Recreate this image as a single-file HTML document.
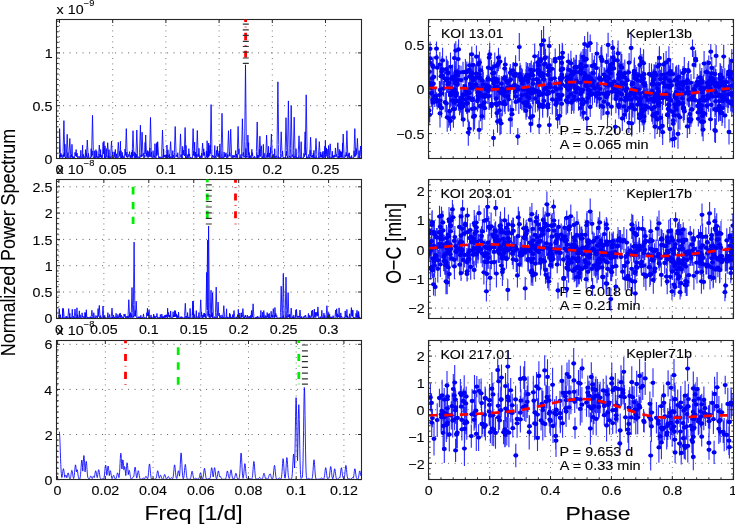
<!DOCTYPE html>
<html><head><meta charset="utf-8"><title>TTV periodograms</title><style>
body{margin:0;background:#fff;}
svg{display:block;filter:blur(0.3px);}
text{font-family:"Liberation Sans",sans-serif;fill:#000;stroke:#000;stroke-width:0.1px;}
.gv{stroke:#5a5a5a;stroke-width:0.9;stroke-dasharray:0.9 4.6;}
.gh{stroke:#5a5a5a;stroke-width:0.9;stroke-dasharray:1.1 5.4;}
.ax{fill:none;stroke:#262626;stroke-width:1.1;}
.tk{fill:none;stroke:#262626;stroke-width:1;}
.sp{fill:none;stroke:#0000ff;stroke-width:0.85;stroke-linejoin:miter;}
.eb{fill:none;stroke:#1010ff;stroke-width:1.1;stroke-opacity:0.9;}
.pt ellipse{fill:#0000f4;}
.fit{fill:none;stroke:#ff0000;stroke-width:2.7;stroke-dasharray:8.5 7;}
</style></head>
<body><svg width="735" height="524" viewBox="0 0 735 524">
<rect width="735" height="524" fill="#fff"/>
<line x1="59.50" y1="19.5" x2="59.50" y2="158.5" class="gv"/>
<line x1="112.70" y1="19.5" x2="112.70" y2="158.5" class="gv"/>
<line x1="165.90" y1="19.5" x2="165.90" y2="158.5" class="gv"/>
<line x1="219.10" y1="19.5" x2="219.10" y2="158.5" class="gv"/>
<line x1="272.30" y1="19.5" x2="272.30" y2="158.5" class="gv"/>
<line x1="325.50" y1="19.5" x2="325.50" y2="158.5" class="gv"/>
<line x1="56.5" y1="105.70" x2="361.5" y2="105.70" class="gh"/>
<line x1="56.5" y1="52.90" x2="361.5" y2="52.90" class="gh"/>
<polyline points="59.50,149.32 59.50,152.87 59.60,128.60 60.40,152.87 59.87,157.22 60.13,153.13 60.58,157.41 61.03,153.35 61.52,157.06 62.01,154.93 62.29,158.15 62.57,158.09 62.89,158.17 63.21,154.50 63.56,156.84 63.10,151.43 63.90,120.60 64.70,151.43 64.46,156.54 65.01,144.24 65.33,157.99 65.64,156.88 66.42,157.86 66.40,153.90 67.20,134.30 68.00,153.90 67.53,157.60 67.86,152.59 68.26,158.13 68.66,157.64 69.23,158.15 69.00,154.65 69.80,138.50 70.60,154.65 70.19,158.12 70.59,157.56 70.96,157.96 71.32,154.58 71.64,156.91 71.96,144.32 72.52,158.10 73.07,156.24 73.58,158.01 74.09,157.01 74.55,157.81 75.00,152.29 75.57,155.91 76.13,149.51 76.60,156.91 77.07,153.08 77.69,158.14 78.31,158.01 78.66,158.18 79.00,155.98 79.47,158.17 79.94,158.11 80.38,158.17 80.83,150.30 81.22,158.15 81.62,157.92 82.10,158.17 82.59,145.19 82.94,158.14 83.30,154.31 83.86,157.76 84.41,156.65 85.00,157.76 85.58,149.61 85.89,158.20 86.21,153.25 86.76,157.04 86.50,154.92 87.30,140.00 88.10,154.92 87.56,158.13 87.83,158.04 88.13,158.20 88.43,153.41 89.02,158.20 89.61,158.17 90.04,158.20 90.46,157.16 90.78,158.00 91.11,148.73 91.62,156.91 92.13,150.74 92.32,155.28 91.70,150.48 92.50,115.30 93.30,150.48 93.25,158.17 94.01,157.33 94.36,158.12 94.70,150.74 94.99,158.09 95.27,157.93 95.61,158.20 95.95,149.63 96.35,157.39 96.74,151.28 97.18,157.91 97.62,156.58 98.46,158.20 98.50,155.82 99.30,145.00 100.10,155.82 99.58,157.67 99.85,154.06 100.25,157.08 100.64,149.55 100.91,157.29 101.19,154.91 101.52,157.80 101.84,156.76 102.47,157.78 103.10,142.41 103.54,153.83 103.97,141.16 104.49,158.01 105.01,145.87 105.30,157.78 105.59,156.78 105.87,157.83 106.15,148.44 106.93,157.24 106.90,155.41 107.70,142.70 108.50,155.41 107.98,157.68 108.27,155.46 108.65,157.91 109.03,149.61 109.41,157.62 109.80,156.72 110.10,158.08 110.40,157.24 110.73,158.13 111.07,156.32 111.28,157.52 110.70,155.10 111.50,141.00 112.30,155.10 112.13,156.10 112.77,152.06 113.21,157.72 113.64,156.96 113.96,157.82 114.28,151.84 114.81,157.01 115.35,149.43 115.69,157.93 116.03,156.96 116.32,157.89 116.61,153.78 117.10,158.01 117.58,157.50 117.94,157.90 117.50,155.34 118.30,142.30 119.10,155.34 118.81,157.39 119.33,151.40 119.89,155.85 120.45,141.28 120.79,158.14 121.12,150.79 121.43,158.04 121.73,156.35 122.01,157.41 122.28,152.40 122.66,157.92 123.04,155.70 123.57,158.03 124.10,157.44 124.55,157.89 124.99,149.00 125.65,155.49 125.50,152.87 126.30,128.60 127.10,152.87 126.57,156.83 126.84,151.98 127.23,157.62 127.61,156.36 127.97,157.39 128.34,154.43 128.96,156.60 129.58,151.63 130.19,157.95 130.80,155.18 131.19,158.01 131.58,152.27 132.01,157.43 132.44,150.11 132.72,157.67 132.20,153.25 133.00,130.70 133.80,153.25 133.64,156.03 134.28,151.90 134.57,157.62 134.85,156.65 135.15,158.10 135.44,152.97 135.86,158.07 136.27,154.36 136.54,157.64 136.00,153.12 136.80,130.00 137.60,153.12 137.47,157.69 138.14,156.56 138.67,157.76 139.21,156.92 139.80,157.93 139.60,152.26 140.40,125.20 141.20,152.26 140.78,157.28 141.16,155.00 141.63,156.88 141.30,153.52 142.10,132.20 142.90,153.52 142.70,156.18 143.30,153.10 143.90,158.05 144.51,155.45 144.83,157.32 145.16,142.38 145.43,152.67 144.90,154.02 145.70,135.00 146.50,154.02 146.24,156.12 146.79,153.10 147.22,157.24 147.65,150.54 148.20,157.73 148.75,151.46 149.35,156.76 149.94,147.98 150.22,156.50 149.70,150.86 150.50,117.40 151.30,150.86 151.05,157.10 151.59,151.99 151.99,158.13 152.39,158.02 152.72,158.15 153.05,150.68 153.68,157.50 154.31,155.92 154.63,157.53 154.95,143.70 155.31,158.17 155.67,157.75 156.06,158.19 156.46,143.56 156.76,155.60 157.05,142.43 157.37,152.17 156.90,155.23 157.70,141.70 158.50,155.23 158.46,157.83 159.21,156.94 159.54,157.75 159.87,156.57 160.32,158.04 160.77,157.62 161.06,158.00 161.36,156.96 161.93,157.65 161.70,153.12 162.50,130.00 163.30,153.12 162.77,158.15 163.05,158.06 163.33,158.14 163.62,148.97 163.93,156.82 164.24,155.05 164.71,157.18 165.18,155.15 165.68,157.08 166.18,154.45 166.57,158.07 166.95,145.01 167.45,158.06 167.96,149.80 168.35,157.12 168.75,155.61 169.07,157.92 169.38,154.32 169.77,158.00 170.15,156.77 170.38,158.11 169.80,155.23 170.60,141.70 171.40,155.23 171.39,157.78 172.17,156.72 172.48,158.18 172.79,150.60 173.10,157.06 173.40,155.04 173.87,158.08 174.34,157.34 174.77,157.91 174.40,152.49 175.20,126.50 176.00,152.49 175.98,156.83 176.77,154.85 177.29,157.16 177.81,152.68 178.11,158.17 178.40,158.06 178.96,158.18 179.52,158.13 180.01,158.17 179.70,153.83 180.50,133.90 181.30,153.83 180.85,156.98 181.20,154.40 181.63,158.07 182.07,157.07 182.36,158.20 182.65,146.41 183.21,155.00 183.76,150.11 184.43,155.93 184.30,152.67 185.10,127.50 185.90,152.67 185.52,157.83 185.94,145.36 186.48,157.91 187.03,157.02 187.39,157.89 187.76,154.44 188.32,157.70 188.87,148.67 189.23,156.46 189.59,153.85 189.91,158.10 190.23,157.25 190.64,158.15 191.05,157.39 191.50,158.15 191.95,157.81 192.52,158.14 192.30,152.87 193.10,128.60 193.90,152.87 193.38,155.37 193.67,151.09 194.16,156.10 194.64,142.19 195.00,157.86 195.36,152.00 195.85,157.45 196.34,153.95 196.82,158.00 196.50,153.21 197.30,130.50 198.10,153.21 197.76,156.76 198.21,153.66 198.59,156.45 198.96,148.28 199.52,158.09 200.07,155.59 200.49,157.76 200.91,156.23 201.38,157.98 201.85,153.11 202.23,157.55 201.80,155.48 202.60,143.10 203.40,155.48 203.20,155.04 203.79,148.80 204.15,155.61 204.52,152.31 205.14,158.17 205.76,157.97 206.07,158.14 206.37,150.94 206.76,157.19 207.14,140.75 207.61,158.08 208.08,153.75 208.36,156.99 208.64,143.05 208.82,157.30 208.20,155.88 209.00,145.30 209.80,155.88 209.70,154.21 210.41,144.79 210.75,153.69 210.30,148.55 211.10,104.60 211.90,148.55 211.80,158.00 212.51,155.15 213.10,157.55 213.70,155.79 214.24,157.97 214.78,145.54 215.16,157.54 215.54,156.28 216.04,157.95 216.54,150.40 216.94,155.78 217.33,146.44 217.87,156.82 218.41,153.48 218.82,156.98 219.22,150.84 219.55,157.48 219.87,143.85 220.46,158.04 221.05,157.76 221.52,158.13 221.20,150.12 222.00,113.30 222.80,150.12 222.58,157.83 223.16,157.12 223.63,157.97 224.10,151.92 224.65,157.27 225.21,153.60 225.64,156.73 226.07,152.81 226.54,158.13 227.02,157.71 227.31,158.03 227.60,154.67 228.05,157.49 227.70,153.25 228.50,130.70 229.30,153.25 229.08,156.25 229.67,152.35 230.18,156.36 229.90,152.98 230.70,129.20 231.50,152.98 231.27,157.55 231.83,156.68 232.28,157.92 232.73,155.26 233.32,157.74 233.90,155.20 234.21,157.15 234.52,155.86 235.11,157.66 235.69,150.57 236.10,157.40 236.50,153.98 236.80,158.08 237.11,157.81 237.60,158.16 237.30,152.48 238.10,126.40 238.90,152.48 238.53,154.16 238.96,148.83 239.38,157.98 239.81,157.55 240.38,158.01 240.96,154.34 241.28,158.05 241.60,157.08 242.00,157.79 241.60,151.11 242.40,118.80 243.20,151.11 242.91,155.82 243.42,152.45 243.88,157.40 244.34,155.96 244.92,157.28 244.70,141.39 245.50,64.80 246.30,141.39 245.69,157.80 245.88,148.48 246.33,157.49 246.79,156.08 247.34,157.37 247.10,154.02 247.90,135.00 248.70,154.02 248.26,154.87 248.61,142.67 248.89,158.00 249.16,152.52 249.45,157.72 249.75,156.25 250.18,157.99 250.62,155.53 251.24,158.16 251.86,149.29 252.15,155.85 252.43,152.62 253.06,157.74 253.69,156.98 254.15,157.85 254.61,156.21 254.93,157.98 255.24,157.56 255.66,158.13 256.08,157.98 256.64,158.16 256.40,151.68 257.20,122.00 258.00,151.68 257.51,158.03 257.82,155.02 258.29,157.82 258.75,155.27 259.13,157.53 259.50,149.21 259.70,155.84 259.10,154.24 259.90,136.20 260.70,154.24 260.64,156.52 261.39,145.81 261.94,158.11 262.48,156.65 262.91,157.96 263.34,144.37 263.75,157.78 264.17,153.20 264.70,158.04 265.24,157.83 265.92,158.16 265.80,154.04 266.60,135.10 267.40,154.04 266.84,157.54 267.07,154.50 267.40,157.30 267.73,153.03 268.13,157.61 268.53,146.23 268.98,157.04 269.44,153.00 269.73,158.14 270.03,157.95 270.32,158.19 270.61,147.41 271.00,153.60 270.60,153.84 271.40,134.00 272.20,153.84 271.76,157.88 272.12,156.87 272.66,158.11 273.19,153.91 273.68,158.02 274.17,157.80 274.45,158.17 274.73,148.68 275.02,157.70 275.31,156.66 275.74,157.87 276.17,155.70 277.04,157.91 277.10,144.45 277.90,81.80 278.70,144.45 278.22,157.90 278.54,156.43 278.94,158.14 279.34,157.94 279.93,158.16 280.52,157.21 280.86,158.09 280.40,153.45 281.20,131.80 282.00,153.45 281.88,156.86 282.56,151.06 283.10,158.03 283.64,157.31 284.04,158.08 284.44,157.81 284.77,158.17 285.09,157.08 285.55,158.18 285.20,150.91 286.00,117.70 286.80,150.91 286.33,155.56 286.65,151.16 287.16,158.14 287.67,156.39 288.03,157.68 287.60,147.89 288.40,100.90 289.20,147.89 289.20,157.64 289.99,155.95 290.42,157.80 290.85,157.28 291.03,158.12 290.40,148.75 291.20,105.70 292.00,148.75 291.93,156.78 292.67,154.65 293.43,157.99 293.40,150.82 294.20,117.20 295.00,150.82 294.64,158.05 295.07,156.21 295.55,157.61 296.04,148.69 296.55,158.12 297.06,157.08 297.47,158.15 297.87,157.99 298.21,158.14 298.54,157.59 298.77,158.17 298.20,154.17 299.00,135.80 299.80,154.17 299.68,157.84 300.35,157.18 300.74,158.01 301.13,141.71 301.65,158.09 302.16,157.94 302.62,158.20 303.07,157.66 303.50,158.18 303.93,153.31 304.51,156.84 304.30,153.45 305.10,131.80 305.90,153.45 305.65,155.14 305.40,146.79 306.20,94.80 307.00,146.79 306.46,157.87 306.72,156.36 307.04,157.71 307.37,157.01 307.98,158.02 308.59,154.52 309.03,158.17 309.48,156.86 309.87,158.11 310.26,150.04 310.43,156.16 309.80,154.44 310.60,137.30 311.40,154.44 311.24,157.48 311.89,156.13 312.30,157.49 312.71,155.01 313.03,157.52 313.34,153.13 313.63,157.65 313.91,150.33 314.32,158.14 314.73,157.22 315.36,158.10 315.20,154.64 316.00,138.40 316.80,154.64 316.30,158.15 316.60,157.68 317.20,158.17 317.79,158.12 318.55,158.19 318.50,155.21 319.30,141.60 320.10,155.21 319.75,157.88 320.20,152.09 320.76,157.20 321.32,154.71 321.76,157.48 322.20,152.35 322.66,158.12 323.12,151.13 323.53,157.75 323.94,157.19 324.36,157.77 324.77,146.11 325.06,156.77 325.34,140.37 325.90,154.36 326.46,147.94 326.82,156.36 327.17,149.23 327.46,157.89 327.74,157.18 328.17,157.90 328.61,145.47 329.14,158.00 329.67,157.61 329.93,158.08 329.40,155.61 330.20,143.80 331.00,155.61 330.76,158.15 331.32,157.43 331.83,157.92 332.34,151.19 332.67,157.61 333.00,155.21 333.27,157.75 333.54,155.94 334.03,157.43 334.51,155.06 334.97,157.23 335.43,147.93 336.01,156.50 336.60,154.38 337.20,157.53 337.00,155.41 337.80,142.70 338.60,155.41 338.17,157.57 338.54,156.01 338.82,158.14 339.09,156.48 339.37,158.11 339.65,149.44 340.14,157.41 340.62,151.27 340.98,157.39 341.33,151.77 341.62,157.32 341.92,153.80 342.23,157.75 342.55,143.09 342.87,151.83 342.40,153.84 343.20,134.00 344.00,153.84 343.67,158.14 344.14,157.88 344.61,158.14 345.09,154.77 345.68,156.81 346.27,152.38 346.58,156.12 346.10,153.25 346.90,130.70 347.70,153.25 347.32,158.00 347.74,157.62 348.22,157.96 348.70,153.57 348.97,156.66 349.24,152.77 349.65,157.96 350.06,156.46 350.44,157.81 350.82,157.30 351.23,158.19 351.64,155.47 351.93,158.15 352.22,158.07 352.69,158.18 353.16,157.74 353.65,158.13 354.15,150.88 354.47,156.64 354.00,152.87 354.80,128.60 355.60,152.87 355.63,156.46 356.46,148.53 356.93,154.46 356.60,154.64 357.40,138.40 358.20,154.64 357.83,157.98 358.27,157.59 358.69,157.99 359.12,150.65 359.47,158.13 359.82,157.49 360.21,158.06 359.80,156.00 360.60,146.00 361.00,156.00" class="sp"/>
<rect x="56.5" y="19.5" width="305.0" height="139.0" class="ax"/>
<path d="M59.50,158.5v-3.5M59.50,19.5v3.5M112.70,158.5v-3.5M112.70,19.5v3.5M165.90,158.5v-3.5M165.90,19.5v3.5M219.10,158.5v-3.5M219.10,19.5v3.5M272.30,158.5v-3.5M272.30,19.5v3.5M325.50,158.5v-3.5M325.50,19.5v3.5M56.5,158.50h3.5M361.5,158.50h-3.5M56.5,105.70h3.5M361.5,105.70h-3.5M56.5,52.90h3.5M361.5,52.90h-3.5M56.5,153.22h2.2M56.5,147.94h2.2M56.5,142.66h2.2M56.5,137.38h2.2M56.5,132.10h2.2M56.5,126.82h2.2M56.5,121.54h2.2M56.5,116.26h2.2M56.5,110.98h2.2M56.5,100.42h2.2M56.5,95.14h2.2M56.5,89.86h2.2M56.5,84.58h2.2M56.5,79.30h2.2M56.5,74.02h2.2M56.5,68.74h2.2M56.5,63.46h2.2M56.5,58.18h2.2M56.5,47.62h2.2M56.5,42.34h2.2M56.5,37.06h2.2M56.5,31.78h2.2M56.5,26.50h2.2M56.5,21.22h2.2" class="tk"/>
<text transform="translate(55.52,173.66) scale(1.125,1)" font-size="12.70">0</text>
<text transform="translate(98.81,173.66) scale(1.125,1)" font-size="12.70">0.05</text>
<text transform="translate(156.02,173.66) scale(1.125,1)" font-size="12.70">0.1</text>
<text transform="translate(205.21,173.66) scale(1.125,1)" font-size="12.70">0.15</text>
<text transform="translate(262.44,173.66) scale(1.125,1)" font-size="12.70">0.2</text>
<text transform="translate(311.61,173.66) scale(1.125,1)" font-size="12.70">0.25</text>
<text transform="translate(44.51,163.67) scale(1.125,1)" font-size="12.70">0</text>
<text transform="translate(32.61,110.87) scale(1.125,1)" font-size="12.70">0.5</text>
<text transform="translate(44.65,58.07) scale(1.125,1)" font-size="12.70">1</text>
<line x1="58.90" y1="179.5" x2="58.90" y2="318.5" class="gv"/>
<line x1="103.85" y1="179.5" x2="103.85" y2="318.5" class="gv"/>
<line x1="148.80" y1="179.5" x2="148.80" y2="318.5" class="gv"/>
<line x1="193.75" y1="179.5" x2="193.75" y2="318.5" class="gv"/>
<line x1="238.70" y1="179.5" x2="238.70" y2="318.5" class="gv"/>
<line x1="283.65" y1="179.5" x2="283.65" y2="318.5" class="gv"/>
<line x1="328.60" y1="179.5" x2="328.60" y2="318.5" class="gv"/>
<line x1="56.5" y1="292.00" x2="361.5" y2="292.00" class="gh"/>
<line x1="56.5" y1="265.70" x2="361.5" y2="265.70" class="gh"/>
<line x1="56.5" y1="239.40" x2="361.5" y2="239.40" class="gh"/>
<line x1="56.5" y1="213.10" x2="361.5" y2="213.10" class="gh"/>
<line x1="56.5" y1="186.80" x2="361.5" y2="186.80" class="gh"/>
<polyline points="59.00,315.32 59.00,316.47 59.20,308.60 59.90,316.47 59.48,318.19 59.76,316.81 60.08,317.88 60.40,314.71 60.69,318.19 60.97,318.10 61.45,318.20 61.93,317.98 62.34,318.10 62.75,308.31 63.08,318.10 62.70,316.47 63.40,308.60 64.10,316.47 64.21,318.09 65.02,317.71 65.56,318.16 66.10,316.14 66.37,317.96 66.65,316.58 67.09,317.96 67.53,316.72 68.12,317.57 68.00,316.47 68.70,308.60 69.40,316.47 68.85,318.18 69.00,318.15 69.42,318.19 69.84,313.20 70.20,318.09 70.57,317.09 70.90,318.19 71.23,317.54 71.75,318.06 72.28,309.23 72.68,318.19 73.08,318.07 73.37,318.16 73.66,316.14 74.04,317.86 74.42,317.37 74.71,317.93 74.30,316.54 75.00,309.00 75.70,316.54 75.66,317.85 76.32,316.86 76.64,317.71 76.96,307.77 77.24,317.87 77.52,314.69 77.95,317.95 78.37,317.25 78.86,317.85 79.34,310.86 79.73,317.77 80.13,314.72 80.67,318.17 81.22,318.09 81.65,318.17 82.08,312.84 82.61,317.34 83.13,316.14 83.58,318.15 84.03,317.99 84.48,318.15 84.94,312.38 85.34,317.98 85.73,312.78 86.02,317.00 86.32,309.74 86.81,317.88 87.30,316.90 87.85,317.99 88.40,317.25 88.90,318.02 89.40,317.43 89.80,317.95 90.20,316.66 90.48,318.05 90.77,317.72 91.08,318.18 91.40,317.53 91.65,317.92 91.20,316.78 91.90,310.30 92.60,316.78 92.57,318.15 93.25,317.90 93.51,318.11 93.77,312.74 94.35,318.17 94.92,317.59 95.42,318.19 95.92,315.42 96.42,317.49 96.92,316.04 97.51,318.04 98.10,308.55 98.70,316.51 98.60,315.90 99.30,305.40 100.00,315.90 99.59,317.81 99.88,316.58 100.21,317.97 100.54,315.66 101.03,318.01 101.52,317.53 102.26,318.10 102.30,316.00 103.00,306.00 103.70,316.00 103.33,318.12 103.66,316.46 104.24,317.98 104.81,315.49 105.23,317.99 105.65,317.55 106.20,318.12 106.74,317.95 107.32,318.19 107.90,312.66 108.30,317.73 108.70,316.61 109.16,317.59 109.62,314.43 110.08,318.13 110.53,317.88 110.95,318.17 111.37,318.12 111.68,318.18 111.30,316.38 112.00,308.10 112.70,316.38 112.43,317.90 112.86,316.79 113.18,317.59 113.50,314.98 113.86,318.04 114.22,317.10 114.67,318.20 115.13,316.71 115.61,317.77 116.09,313.28 116.62,318.19 117.15,317.33 117.51,318.19 117.86,314.50 118.29,317.89 118.72,316.52 119.13,317.71 119.54,313.90 119.85,317.10 120.16,312.94 120.75,317.94 121.34,314.96 121.71,317.50 122.08,316.59 122.57,317.97 123.06,317.02 123.55,318.06 124.04,314.09 124.56,316.54 125.07,313.97 125.61,318.18 126.15,316.17 126.73,317.84 127.30,316.36 127.67,317.89 128.03,315.98 128.42,318.11 128.10,314.87 128.80,299.70 129.50,314.87 129.26,317.43 129.72,313.98 130.08,317.64 130.43,312.58 130.96,317.75 131.48,315.33 131.74,317.49 131.30,312.67 132.00,287.50 132.70,312.67 132.76,317.76 133.51,315.63 133.81,317.29 133.40,304.50 134.10,242.10 134.80,304.50 134.69,316.12 135.27,310.53 135.74,316.42 135.50,315.14 136.20,301.20 136.90,315.14 136.62,318.03 137.04,317.69 137.60,318.19 138.17,316.54 138.46,317.84 138.75,317.12 139.11,318.11 139.47,316.70 139.77,318.18 140.07,318.15 140.44,318.18 140.81,315.22 141.33,317.87 141.85,317.25 142.16,317.97 142.46,317.43 142.98,317.89 143.49,313.90 143.95,317.90 144.41,317.41 144.78,318.14 145.14,317.52 145.69,317.98 146.23,317.64 146.50,317.95 146.77,312.77 147.11,315.90 147.45,308.29 147.87,315.79 148.30,312.58 148.69,316.29 149.08,309.61 149.46,318.09 149.85,317.11 150.44,317.78 151.04,314.89 151.48,318.13 151.92,316.92 152.40,318.18 152.88,318.15 153.29,318.19 153.70,314.06 154.02,317.99 154.35,315.77 154.64,317.98 154.93,317.66 155.44,318.07 155.95,316.02 156.45,317.28 156.95,313.43 157.54,318.12 158.14,317.30 158.48,318.15 158.82,317.64 159.21,318.00 159.59,317.42 159.98,318.20 160.36,314.56 160.81,318.15 161.26,317.95 161.53,318.09 161.80,314.05 162.33,318.01 162.85,316.47 163.36,318.13 163.86,316.41 164.15,317.53 164.44,315.45 164.93,318.03 165.43,315.21 165.80,317.52 166.17,314.65 166.57,317.03 166.98,315.14 167.30,318.02 167.62,308.24 168.11,316.62 168.60,312.49 169.05,317.30 169.50,315.05 169.77,317.41 170.03,315.94 170.34,317.23 170.64,310.94 171.15,318.02 171.65,317.76 171.95,318.16 172.25,317.86 172.66,318.10 173.08,311.74 173.56,317.03 174.04,314.86 174.36,316.99 174.67,310.56 175.09,316.44 175.52,310.78 175.91,316.84 176.31,313.90 176.62,317.69 176.92,314.83 177.44,317.88 177.96,315.80 178.25,317.78 178.53,312.05 179.07,318.20 179.60,318.16 179.97,318.19 180.33,316.79 180.71,317.96 181.09,317.65 181.42,318.03 181.75,316.51 182.30,317.96 182.84,317.33 183.44,318.19 184.03,318.14 184.35,318.20 184.67,317.47 184.98,318.05 184.60,315.52 185.30,303.30 186.00,315.52 185.72,317.67 186.15,315.88 186.54,317.64 186.93,316.82 187.26,317.85 187.59,312.55 188.06,317.95 188.53,316.94 188.85,318.01 189.17,317.47 189.64,318.14 190.10,308.40 190.68,318.20 191.26,318.10 191.60,318.19 191.94,317.69 192.42,318.07 192.20,315.10 192.90,301.00 193.60,315.10 193.00,313.00 192.40,315.14 193.10,301.20 193.80,315.14 193.64,317.75 194.18,314.40 194.69,318.18 195.19,318.05 195.75,318.17 196.31,310.57 196.61,317.71 196.91,316.19 197.34,318.20 197.77,318.03 198.36,318.14 198.94,312.54 199.25,317.97 199.56,317.29 200.13,318.06 200.00,314.89 200.70,299.80 201.40,314.89 201.15,316.65 201.60,312.21 201.88,317.91 202.16,317.32 202.47,317.96 202.79,314.92 203.36,317.50 203.92,313.18 204.20,316.53 204.48,313.00 204.85,317.21 205.23,313.95 205.50,317.45 205.76,316.29 206.23,318.02 206.00,309.96 206.70,272.40 207.40,309.96 207.15,307.22 206.90,304.16 207.60,240.20 208.30,304.16 207.88,316.23 208.15,310.88 208.38,315.01 207.90,301.60 208.60,226.00 209.30,301.60 208.95,317.31 209.30,314.01 209.74,318.16 210.18,318.08 210.59,318.16 210.30,313.16 211.00,290.20 211.70,313.16 211.35,316.76 211.69,314.39 211.96,316.79 212.24,312.63 212.42,317.90 211.90,313.59 212.60,292.60 213.30,313.59 213.11,318.13 213.62,317.81 214.12,318.15 214.62,316.56 215.15,318.03 215.69,317.52 215.94,318.19 215.50,312.60 216.20,287.10 216.90,312.60 216.69,318.19 217.18,318.06 217.64,318.16 217.40,315.30 218.10,302.10 218.80,315.30 218.62,315.94 219.15,313.04 219.67,317.78 220.20,315.29 220.74,318.19 221.28,317.35 221.65,317.99 222.02,314.88 222.48,317.76 222.95,316.93 223.37,318.15 223.10,315.95 223.80,305.70 224.50,315.95 224.14,318.06 224.47,317.81 224.97,318.09 225.47,317.47 226.02,318.15 226.58,308.77 226.84,318.04 227.11,316.76 227.69,318.03 228.27,317.69 228.54,318.11 228.82,317.34 229.21,317.85 229.60,313.18 229.88,318.11 230.16,314.24 230.55,318.09 230.93,317.50 231.38,318.20 231.83,316.92 232.26,317.65 232.68,314.55 233.06,317.89 233.43,316.11 233.72,317.56 233.30,316.81 234.00,310.50 234.70,316.81 234.64,318.19 235.28,317.77 235.76,318.06 236.24,317.22 236.54,317.91 236.85,316.75 237.29,317.56 237.74,314.58 238.02,317.72 238.29,309.30 238.77,317.72 239.24,317.02 239.51,318.09 239.78,312.99 240.22,318.11 240.67,317.62 241.00,317.99 241.33,312.78 241.61,317.30 241.88,315.07 242.39,317.09 242.20,316.47 242.90,308.60 243.60,316.47 243.17,318.00 243.44,317.66 243.71,318.03 243.98,316.76 244.51,318.17 245.03,315.45 245.36,317.15 245.69,315.13 246.17,317.96 246.65,317.50 247.05,317.98 247.45,315.21 247.97,318.11 248.49,316.78 248.85,317.62 249.21,316.21 249.51,317.63 249.81,316.86 250.18,318.09 250.55,315.36 251.03,318.05 251.52,310.49 251.88,317.86 252.24,314.53 252.67,316.59 252.40,315.61 253.10,303.80 253.80,315.61 253.58,318.10 254.06,317.89 254.38,318.15 254.70,318.04 255.15,318.16 255.60,317.25 256.05,318.08 256.50,316.84 256.95,317.91 257.41,316.53 257.67,317.76 257.94,316.40 258.37,318.13 258.81,317.62 259.26,318.19 259.72,318.01 260.03,318.15 260.33,315.57 260.60,317.44 260.87,310.43 261.29,317.95 261.70,317.38 262.17,318.06 262.64,312.21 262.91,316.98 263.18,315.35 263.49,318.15 263.10,316.81 263.80,310.50 264.50,316.81 264.38,317.93 264.96,316.82 265.31,317.78 265.65,315.47 266.10,317.89 266.56,316.65 266.84,317.86 267.13,312.52 267.66,317.27 268.19,313.98 268.75,318.11 269.31,313.36 269.57,318.19 269.84,318.17 270.21,318.19 270.57,316.98 270.86,317.72 271.14,311.22 271.43,316.78 271.73,314.91 272.25,317.73 272.77,315.09 273.04,317.31 272.60,316.47 273.30,308.60 274.00,316.47 273.86,317.46 274.42,315.54 274.68,317.82 274.93,307.48 275.40,316.62 275.87,313.53 276.28,317.22 276.69,315.56 277.19,318.15 277.70,318.05 278.21,318.13 278.73,317.84 279.27,318.06 279.80,317.63 280.21,318.20 280.62,317.06 280.91,317.74 280.50,312.44 281.20,286.20 281.90,312.44 281.94,318.17 282.67,316.62 282.99,317.59 282.60,310.17 283.30,273.60 284.00,310.17 283.81,318.15 284.31,317.94 284.68,318.19 285.05,318.15 285.53,318.19 285.30,310.80 286.00,277.10 286.70,310.80 286.46,317.76 286.91,316.44 287.51,317.67 287.40,313.59 288.10,292.60 288.80,313.59 288.53,316.94 288.97,314.97 289.26,317.96 289.56,314.21 290.11,317.62 290.66,316.83 290.93,317.82 290.50,316.38 291.20,308.10 291.90,316.38 291.73,317.53 292.26,316.69 292.65,317.91 293.04,316.66 293.40,318.16 293.75,315.16 294.24,318.06 294.74,317.54 295.33,318.16 295.93,309.95 296.16,316.89 295.70,316.60 296.40,309.30 297.10,316.60 296.93,317.63 297.46,316.15 297.88,317.60 298.30,315.94 298.85,317.63 299.39,316.06 299.70,317.47 299.30,316.72 300.00,310.00 300.70,316.72 300.51,317.95 301.02,316.68 301.38,318.12 301.74,316.52 302.23,318.20 302.72,318.09 303.27,318.16 303.82,316.50 304.20,317.60 304.57,315.75 305.13,317.33 305.68,315.20 306.14,318.16 306.61,317.86 307.06,318.15 307.50,318.07 307.97,318.19 308.43,313.40 308.73,318.18 309.03,318.01 309.35,318.12 309.66,315.13 310.13,318.09 310.60,316.60 311.16,317.61 311.73,310.83 312.16,315.07 311.90,316.72 312.60,310.00 313.30,316.72 312.90,317.83 313.20,317.22 313.77,317.91 314.34,309.06 314.82,317.55 315.31,312.24 315.83,317.46 316.35,312.38 316.90,315.60 317.44,311.92 317.67,315.74 317.20,316.17 317.90,306.90 318.60,316.17 318.54,318.12 319.17,317.76 319.73,318.17 320.29,316.68 320.57,318.06 320.85,317.52 321.34,317.94 321.83,310.29 322.34,317.93 322.85,317.25 323.39,317.92 323.94,313.08 324.37,318.10 324.81,315.32 325.34,318.17 325.88,318.07 326.39,318.19 326.20,315.95 326.90,305.70 327.60,315.95 327.23,317.80 327.56,315.64 327.82,318.13 328.08,318.03 328.39,318.16 328.69,312.50 329.18,318.18 329.67,314.29 329.98,318.18 330.30,317.91 330.56,318.19 330.82,316.76 331.30,318.16 331.77,316.83 332.09,318.13 332.42,317.96 332.75,318.18 333.07,315.61 333.56,318.14 334.05,317.79 334.49,318.17 334.93,317.78 335.32,318.10 335.00,316.72 335.70,310.00 336.40,316.72 336.18,315.19 336.66,308.76 337.13,318.18 337.60,313.78 338.07,317.19 338.55,315.53 338.80,317.04 339.06,307.88 339.52,318.20 339.97,318.19 340.39,318.20 340.81,312.90 341.24,317.32 341.67,316.11 342.07,318.19 342.47,318.05 343.07,318.16 343.66,317.75 344.10,318.05 344.55,317.34 344.87,318.07 345.20,310.92 345.77,317.30 346.35,315.38 346.62,317.16 346.89,309.38 347.24,318.09 347.60,315.92 348.12,318.15 348.64,317.92 349.13,318.16 349.61,313.73 349.93,318.18 350.25,318.14 350.82,318.19 350.70,316.29 351.40,307.60 352.10,316.29 351.69,315.53 351.98,309.89 352.44,316.35 352.90,310.23 353.28,318.03 353.67,317.37 354.09,318.04 354.51,317.35 354.97,318.17 355.44,318.12 355.72,318.16 356.00,313.30 356.51,317.50 357.02,310.37 357.37,317.68 357.72,315.10 358.00,317.37 358.27,311.61 358.44,318.08 357.90,317.03 358.60,311.70 359.30,317.03 359.06,318.15 359.51,317.21 359.80,318.13 360.10,317.50" class="sp"/>
<rect x="56.5" y="179.5" width="305.0" height="139.0" class="ax"/>
<path d="M58.90,318.5v-3.5M58.90,179.5v3.5M103.85,318.5v-3.5M103.85,179.5v3.5M148.80,318.5v-3.5M148.80,179.5v3.5M193.75,318.5v-3.5M193.75,179.5v3.5M238.70,318.5v-3.5M238.70,179.5v3.5M283.65,318.5v-3.5M283.65,179.5v3.5M328.60,318.5v-3.5M328.60,179.5v3.5M56.5,318.30h3.5M361.5,318.30h-3.5M56.5,292.00h3.5M361.5,292.00h-3.5M56.5,265.70h3.5M361.5,265.70h-3.5M56.5,239.40h3.5M361.5,239.40h-3.5M56.5,213.10h3.5M361.5,213.10h-3.5M56.5,186.80h3.5M361.5,186.80h-3.5M56.5,313.04h2.2M56.5,307.78h2.2M56.5,302.52h2.2M56.5,297.26h2.2M56.5,286.74h2.2M56.5,281.48h2.2M56.5,276.22h2.2M56.5,270.96h2.2M56.5,260.44h2.2M56.5,255.18h2.2M56.5,249.92h2.2M56.5,244.66h2.2M56.5,234.14h2.2M56.5,228.88h2.2M56.5,223.62h2.2M56.5,218.36h2.2M56.5,207.84h2.2M56.5,202.58h2.2M56.5,197.32h2.2M56.5,192.06h2.2M56.5,181.54h2.2" class="tk"/>
<text transform="translate(54.92,333.66) scale(1.125,1)" font-size="12.70">0</text>
<text transform="translate(89.96,333.66) scale(1.125,1)" font-size="12.70">0.05</text>
<text transform="translate(138.92,333.66) scale(1.125,1)" font-size="12.70">0.1</text>
<text transform="translate(179.86,333.66) scale(1.125,1)" font-size="12.70">0.15</text>
<text transform="translate(228.84,333.66) scale(1.125,1)" font-size="12.70">0.2</text>
<text transform="translate(269.76,333.66) scale(1.125,1)" font-size="12.70">0.25</text>
<text transform="translate(318.69,333.66) scale(1.125,1)" font-size="12.70">0.3</text>
<text transform="translate(44.51,323.47) scale(1.125,1)" font-size="12.70">0</text>
<text transform="translate(32.61,297.17) scale(1.125,1)" font-size="12.70">0.5</text>
<text transform="translate(44.65,270.87) scale(1.125,1)" font-size="12.70">1</text>
<text transform="translate(32.61,244.50) scale(1.125,1)" font-size="12.70">1.5</text>
<text transform="translate(44.68,218.33) scale(1.125,1)" font-size="12.70">2</text>
<text transform="translate(32.61,191.97) scale(1.125,1)" font-size="12.70">2.5</text>
<line x1="57.60" y1="340.5" x2="57.60" y2="479.5" class="gv"/>
<line x1="105.32" y1="340.5" x2="105.32" y2="479.5" class="gv"/>
<line x1="153.04" y1="340.5" x2="153.04" y2="479.5" class="gv"/>
<line x1="200.76" y1="340.5" x2="200.76" y2="479.5" class="gv"/>
<line x1="248.48" y1="340.5" x2="248.48" y2="479.5" class="gv"/>
<line x1="296.20" y1="340.5" x2="296.20" y2="479.5" class="gv"/>
<line x1="343.92" y1="340.5" x2="343.92" y2="479.5" class="gv"/>
<line x1="56.5" y1="434.50" x2="361.5" y2="434.50" class="gh"/>
<line x1="56.5" y1="389.40" x2="361.5" y2="389.40" class="gh"/>
<line x1="56.5" y1="344.30" x2="361.5" y2="344.30" class="gh"/>
<polyline points="59.30,431.70 59.55,433.24 59.80,437.56 60.05,443.89 60.30,451.17 60.55,458.37 60.80,464.72 61.05,469.79 61.30,473.49 61.55,475.98 61.80,477.52 62.05,477.18 62.30,475.65 62.55,473.67 62.80,471.53 63.05,469.70 63.30,468.69 63.55,468.81 63.80,470.02 64.05,471.95 64.30,474.09 64.55,476.00 64.80,477.32 65.05,476.45 65.30,475.64 65.55,475.10 65.80,474.98 66.05,475.32 66.30,476.02 66.55,476.88 66.80,477.71 67.05,476.86 67.30,475.62 67.55,474.33 67.80,473.30 68.05,472.81 68.30,473.03 68.55,473.87 68.80,475.10 69.05,476.39 69.30,477.49 69.55,478.30 69.80,478.62 70.05,478.87 70.30,478.38 70.55,477.52 70.80,476.23 71.05,474.56 71.30,472.76 71.55,471.23 71.80,470.38 72.05,470.48 72.30,471.49 72.55,473.12 72.80,474.92 73.05,476.52 73.30,477.72 73.55,478.50 73.80,478.19 74.05,477.06 74.30,475.27 74.55,472.80 74.80,469.92 75.05,467.19 75.30,465.31 75.55,464.83 75.80,465.91 76.05,468.22 76.30,471.09 76.55,471.89 76.80,470.35 77.05,469.62 77.30,469.94 77.55,471.20 77.80,473.03 78.05,474.95 78.30,476.60 78.55,477.80 78.80,478.56 79.05,478.97 79.30,479.17 79.55,479.09 79.80,478.75 80.05,478.04 80.30,476.70 80.55,474.51 80.80,471.41 81.05,467.65 81.30,463.93 81.55,461.14 81.80,460.10 82.05,461.14 82.30,463.93 82.55,467.65 82.80,471.11 83.05,466.67 83.30,461.87 83.55,457.78 83.80,455.51 84.05,455.78 84.30,458.48 84.55,462.81 84.80,467.62 85.05,471.89 85.30,470.49 85.55,466.87 85.80,463.60 86.05,461.56 86.30,461.36 86.55,463.07 86.80,466.16 87.05,469.78 87.30,473.13 87.55,475.72 87.80,477.44 88.05,478.02 88.30,478.26 88.55,478.54 88.80,478.81 89.05,479.01 89.30,478.85 89.55,478.48 89.80,477.94 90.05,477.30 90.30,476.66 90.55,476.18 90.80,476.00 91.05,476.18 91.30,476.66 91.55,477.30 91.80,477.94 92.05,478.48 92.30,478.41 92.55,477.87 92.80,477.24 93.05,476.64 93.30,476.23 93.55,476.12 93.80,476.36 94.05,476.87 94.30,477.50 94.55,476.65 94.80,475.11 95.05,473.39 95.30,471.84 95.55,470.87 95.80,470.78 96.05,471.59 96.30,473.06 96.55,474.78 96.80,476.37 97.05,477.48 97.30,477.60 97.55,476.31 97.80,474.58 98.05,472.64 98.30,470.89 98.55,469.79 98.80,469.69 99.05,470.60 99.30,472.26 99.55,474.20 99.80,475.99 100.05,477.38 100.30,478.26 100.55,478.55 100.80,478.82 101.05,479.02 101.30,479.16 101.55,479.15 101.80,479.08 102.05,479.00 102.30,478.94 102.55,478.92 102.80,478.93 103.05,478.98 103.30,479.06 103.55,478.96 103.80,478.50 104.05,477.61 104.30,476.12 104.55,473.93 104.80,471.20 105.05,468.37 105.30,466.10 105.55,465.03 105.80,465.50 106.05,467.36 106.30,470.05 106.55,472.89 106.80,475.32 107.05,474.31 107.30,471.77 107.55,469.14 107.80,467.02 108.05,466.03 108.30,466.46 108.55,468.19 108.80,470.70 109.05,473.34 109.30,475.60 109.55,474.08 109.80,472.41 110.05,471.16 110.30,470.70 110.55,471.16 110.80,472.41 111.05,474.08 111.30,475.76 111.55,477.16 111.80,478.14 112.05,478.73 112.30,478.45 112.55,477.85 112.80,477.10 113.05,476.31 113.30,475.67 113.55,475.35 113.80,475.46 114.05,475.96 114.30,476.69 114.55,477.48 114.80,478.17 115.05,478.67 115.30,478.98 115.55,479.14 115.80,478.94 116.05,478.53 116.30,477.85 116.55,476.86 116.80,475.62 117.05,474.33 117.30,473.30 117.55,472.81 117.80,473.03 118.05,473.87 118.30,475.10 118.55,476.39 118.80,477.49 119.05,477.58 119.30,475.77 119.55,472.79 119.80,468.57 120.05,463.47 120.30,458.40 120.55,454.61 120.80,453.20 121.05,454.61 121.30,458.40 121.55,463.47 121.80,468.57 122.05,468.99 122.30,465.07 122.55,461.72 122.80,459.87 123.05,460.09 123.30,462.30 123.55,465.84 123.80,469.76 124.05,469.52 124.30,467.48 124.55,466.53 124.80,466.95 125.05,468.61 125.30,471.02 125.55,473.56 125.80,475.60 126.05,473.07 126.30,469.90 126.55,466.61 126.80,463.98 127.05,462.74 127.30,463.28 127.55,465.43 127.80,468.56 128.05,471.86 128.30,474.68 128.55,473.12 128.80,471.49 129.05,470.48 129.30,470.38 129.55,471.23 129.80,472.76 130.05,474.56 130.30,476.23 130.55,477.52 130.80,478.38 131.05,478.87 131.30,479.12 131.55,479.12 131.80,478.92 132.05,478.61 132.30,478.16 132.55,477.63 132.80,477.11 133.05,476.72 133.30,476.59 133.55,476.75 133.80,476.58 134.05,474.72 134.30,472.39 134.55,469.98 134.80,468.04 135.05,467.13 135.30,467.53 135.55,469.11 135.80,471.41 136.05,473.83 136.30,475.91 136.55,477.42 136.80,478.14 137.05,477.16 137.30,475.76 137.55,474.08 137.80,472.41 138.05,471.16 138.30,470.70 138.55,471.16 138.80,472.41 139.05,474.08 139.30,475.76 139.55,477.16 139.80,478.14 140.05,478.73 140.30,479.05 140.55,479.20 140.80,479.22 141.05,479.22 141.30,479.23 141.55,479.22 141.80,479.13 142.05,478.99 142.30,478.78 142.55,478.53 142.80,478.27 143.05,478.07 143.30,477.98 143.55,478.04 143.80,478.22 144.05,478.47 144.30,478.73 144.55,478.81 144.80,478.42 145.05,477.90 145.30,477.31 145.55,476.75 145.80,476.39 146.05,476.33 146.30,476.58 146.55,477.07 146.80,477.67 147.05,478.23 147.30,478.67 147.55,478.78 147.80,478.12 148.05,476.92 148.30,475.02 148.55,472.40 148.80,469.34 149.05,466.44 149.30,464.44 149.55,463.93 149.80,465.08 150.05,467.53 150.30,470.58 150.55,473.52 150.80,475.87 151.05,477.48 151.30,478.44 151.55,478.93 151.80,479.07 152.05,479.01 152.30,478.96 152.55,478.94 152.80,478.97 153.05,479.02 153.30,479.09 153.55,479.16 153.80,479.22 154.05,479.26 154.30,479.28 154.55,479.26 154.80,479.21 155.05,479.13 155.30,479.01 155.55,478.84 155.80,478.66 156.05,478.50 156.30,477.79 156.55,476.65 156.80,475.11 157.05,473.39 157.30,471.84 157.55,470.87 157.80,470.78 158.05,471.59 158.30,473.06 158.55,474.78 158.80,476.37 159.05,477.60 159.30,478.26 159.55,477.59 159.80,476.78 160.05,475.98 160.30,475.38 160.55,475.17 160.80,475.40 161.05,476.00 161.30,476.81 161.55,477.61 161.80,478.28 162.05,478.75 162.30,479.03 162.55,479.18 162.80,479.11 163.05,478.87 163.30,478.46 163.55,477.82 163.80,476.96 164.05,476.00 164.30,475.14 164.55,474.60 164.80,474.54 165.05,475.00 165.30,475.81 165.55,476.77 165.80,477.66 166.05,478.35 166.30,478.81 166.55,479.07 166.80,478.91 167.05,478.59 167.30,478.13 167.55,477.58 167.80,477.04 168.05,476.64 168.30,476.49 168.55,476.66 168.80,477.07 169.05,477.62 169.30,478.17 169.55,478.61 169.80,478.93 170.05,479.08 170.30,478.89 170.55,478.62 170.80,478.31 171.05,478.00 171.30,477.77 171.55,477.69 171.80,477.79 172.05,478.03 172.30,478.34 172.55,478.65 172.80,478.49 173.05,477.59 173.30,476.07 173.55,473.86 173.80,471.09 174.05,468.22 174.30,465.91 174.55,464.83 174.80,465.31 175.05,467.19 175.30,469.92 175.55,472.80 175.80,475.27 176.05,477.06 176.30,477.94 176.55,478.33 176.80,478.42 177.05,477.60 177.30,476.37 177.55,474.78 177.80,473.06 178.05,471.59 178.30,470.78 178.55,470.87 178.80,471.84 179.05,473.39 179.30,475.11 179.55,476.17 179.80,473.40 180.05,469.35 180.30,464.30 180.55,459.05 180.80,454.84 181.05,452.86 181.30,453.73 181.55,457.17 181.80,462.16 182.05,467.42 182.30,471.93 182.55,475.21 182.80,477.27 183.05,478.40 183.30,478.87 183.55,478.32 183.80,477.28 184.05,475.58 184.30,473.17 184.55,470.26 184.80,467.37 185.05,465.21 185.30,464.40 185.55,465.21 185.80,467.37 186.05,470.26 186.30,473.17 186.55,475.58 186.80,477.28 187.05,478.32 187.30,478.87 187.55,479.13 187.80,479.24 188.05,479.28 188.30,479.29 188.55,479.28 188.80,479.26 189.05,479.23 189.30,479.21 189.55,479.18 189.80,479.17 190.05,479.10 190.30,478.84 190.55,478.33 190.80,477.47 191.05,476.22 191.30,474.66 191.55,473.03 191.80,471.73 192.05,471.12 192.30,471.39 192.55,472.45 192.80,474.00 193.05,475.62 193.30,477.02 193.55,478.03 193.80,478.67 194.05,479.02 194.30,479.12 194.55,478.98 194.80,478.79 195.05,478.59 195.30,478.41 195.55,478.31 195.80,478.31 196.05,478.41 196.30,478.58 196.55,478.78 196.80,478.97 197.05,479.11 197.30,479.11 197.55,478.98 197.80,478.82 198.05,478.66 198.30,478.53 198.55,478.48 198.80,478.51 199.05,478.30 199.30,477.49 199.55,476.39 199.80,475.10 200.05,473.87 200.30,473.03 200.55,472.81 200.80,473.30 201.05,474.33 201.30,475.62 201.55,476.86 201.80,477.85 202.05,478.53 202.30,478.88 202.55,478.92 202.80,478.45 203.05,477.59 203.30,476.21 203.55,474.32 203.80,472.12 204.05,470.03 204.30,468.59 204.55,468.22 204.80,469.05 205.05,470.82 205.30,473.02 205.55,475.13 205.80,476.83 206.05,477.99 206.30,478.68 206.55,478.94 206.80,479.10 207.05,479.20 207.30,479.18 207.55,479.08 207.80,478.95 208.05,478.79 208.30,478.65 208.55,478.55 208.80,478.53 209.05,478.59 209.30,478.71 209.55,478.87 209.80,478.83 210.05,478.26 210.30,477.25 210.55,475.69 210.80,473.60 211.05,471.26 211.30,469.15 211.55,467.83 211.80,467.70 212.05,468.81 212.30,470.80 212.55,473.14 212.80,475.31 213.05,476.98 213.30,476.70 213.55,474.91 213.80,472.68 214.05,470.36 214.30,468.50 214.55,467.63 214.80,468.01 215.05,469.53 215.30,471.73 215.55,474.05 215.80,476.05 216.05,477.49 216.30,478.40 216.55,478.90 216.80,478.44 217.05,477.64 217.30,476.43 217.55,474.88 217.80,473.20 218.05,471.77 218.30,470.97 218.55,471.07 218.80,472.01 219.05,473.53 219.30,475.21 219.55,476.71 219.80,476.69 220.05,476.35 220.30,476.32 220.55,476.60 220.80,477.11 221.05,477.71 221.30,478.27 221.55,478.70 221.80,478.99 222.05,479.16 222.30,479.24 222.55,479.28 222.80,479.26 223.05,479.25 223.30,479.23 223.55,479.22 223.80,479.22 224.05,479.23 224.30,479.24 224.55,479.26 224.80,479.27 225.05,479.24 225.30,479.13 225.55,478.90 225.80,478.44 226.05,477.64 226.30,476.43 226.55,474.88 226.80,473.20 227.05,471.77 227.30,470.97 227.55,471.07 227.80,472.01 228.05,473.53 228.30,475.21 228.55,476.71 228.80,477.54 229.05,478.13 229.30,478.57 229.55,477.83 229.80,476.66 230.05,475.04 230.30,473.15 230.55,471.36 230.80,470.13 231.05,469.82 231.30,470.53 231.55,472.04 231.80,473.92 232.05,475.73 232.30,477.18 232.55,478.18 232.80,478.77 233.05,478.64 233.30,478.51 233.55,478.45 233.80,478.49 234.05,478.61 234.30,478.67 234.55,478.09 234.80,477.22 235.05,476.09 235.30,474.87 235.55,473.83 235.80,473.25 236.05,473.32 236.30,474.01 236.55,475.11 236.80,476.33 237.05,477.42 237.30,478.23 237.55,478.76 237.80,478.78 238.05,478.84 238.30,478.93 238.55,479.04 238.80,479.06 239.05,478.67 239.30,477.82 239.55,476.19 239.80,473.44 240.05,469.43 240.30,464.41 240.55,459.20 240.80,455.02 241.05,453.06 241.30,453.92 241.55,457.33 241.80,462.29 242.05,467.51 242.30,471.99 242.55,475.24 242.80,477.28 243.05,478.40 243.30,477.68 243.55,476.17 243.80,473.91 244.05,470.99 244.30,467.83 244.55,465.13 244.80,463.64 245.05,463.81 245.30,465.59 245.55,468.45 245.80,471.61 246.05,474.42 246.30,476.53 246.55,477.89 246.80,478.18 247.05,478.50 247.30,478.79 247.55,479.01 247.80,479.15 248.05,479.23 248.30,479.19 248.55,479.10 248.80,478.96 249.05,478.79 249.30,478.62 249.55,478.47 249.80,478.41 250.05,478.44 250.30,478.55 250.55,478.72 250.80,478.90 251.05,479.05 251.30,479.16 251.55,479.13 251.80,478.94 252.05,478.44 252.30,477.45 252.55,475.74 252.80,473.16 253.05,469.83 253.30,466.23 253.55,463.16 253.80,461.46 254.05,461.66 254.30,463.69 254.55,466.94 254.80,470.54 255.05,473.74 255.30,476.15 255.55,477.70 255.80,478.57 256.05,479.00 256.30,479.12 256.55,479.05 256.80,478.98 257.05,478.94 257.30,478.94 257.55,478.98 257.80,479.04 258.05,479.12 258.30,478.95 258.55,478.69 258.80,478.34 259.05,477.95 259.30,477.60 259.55,477.39 259.80,477.38 260.05,477.57 260.30,477.90 260.55,478.29 260.80,478.65 261.05,478.92 261.30,479.11 261.55,479.21 261.80,479.13 262.05,478.98 262.30,478.74 262.55,478.36 262.80,477.60 263.05,476.57 263.30,475.35 263.55,474.20 263.80,473.41 264.05,473.21 264.30,473.67 264.55,474.64 264.80,475.85 265.05,477.01 265.30,477.94 265.55,478.58 265.80,478.60 266.05,478.42 266.30,478.31 266.55,478.31 266.80,478.40 267.05,478.58 267.30,478.78 267.55,478.96 267.80,479.02 268.05,478.71 268.30,478.19 268.55,477.42 268.80,476.47 269.05,475.48 269.30,474.68 269.55,474.31 269.80,474.47 270.05,473.98 270.30,473.95 270.55,474.49 270.80,475.42 271.05,476.51 271.30,477.50 271.55,478.26 271.80,478.76 272.05,479.05 272.30,479.11 272.55,478.82 272.80,478.23 273.05,477.14 273.30,475.41 273.55,473.02 273.80,470.24 274.05,467.61 274.30,465.79 274.55,465.33 274.80,466.38 275.05,468.60 275.30,471.37 275.55,474.05 275.80,476.18 276.05,477.65 276.30,478.51 276.55,478.89 276.80,479.04 277.05,479.15 277.30,479.22 277.55,479.19 277.80,479.08 278.05,478.90 278.30,478.66 278.55,478.37 278.80,478.10 279.05,477.91 279.30,477.87 279.55,477.97 279.80,478.20 280.05,478.49 280.30,478.76 280.55,478.98 280.80,479.11 281.05,478.81 281.30,478.14 281.55,476.85 281.80,474.69 282.05,471.53 282.30,467.58 282.55,463.48 282.80,460.19 283.05,458.65 283.30,459.32 283.55,462.01 283.80,465.91 284.05,470.02 284.30,473.54 284.55,476.11 284.80,477.71 285.05,478.25 285.30,477.05 285.55,474.97 285.80,471.83 286.05,467.78 286.30,463.40 286.55,459.66 286.80,457.59 287.05,457.83 287.30,460.30 287.55,464.26 287.80,468.64 288.05,472.54 288.30,475.46 288.55,477.35 288.80,478.42 289.05,478.94 289.30,479.17 289.55,479.26 289.80,479.27 290.05,479.26 290.30,479.24 290.55,479.23 290.80,479.23 291.05,479.22 291.30,479.07 291.55,478.70 291.80,477.89 292.05,476.32 292.30,473.69 292.55,469.84 292.80,465.03 293.05,460.04 293.30,456.04 293.55,454.16 293.80,454.98 294.05,458.25 294.30,463.00 294.55,468.00 294.80,461.09 295.05,448.60 295.30,432.99 295.55,416.79 295.80,403.79 296.05,397.68 296.30,400.36 296.55,410.97 296.80,426.38 297.05,442.63 297.30,456.56 297.55,460.70 297.80,448.63 298.05,434.05 298.30,419.56 298.55,408.73 298.80,404.70 299.05,408.73 299.30,419.56 299.55,434.05 299.80,448.63 300.05,460.70 300.30,469.20 300.55,474.40 300.80,477.17 301.05,478.47 301.30,478.17 301.55,477.89 301.80,477.72 302.05,477.72 302.30,477.46 302.55,474.88 302.80,469.79 303.05,460.97 303.30,447.71 303.55,430.58 303.80,412.06 304.05,396.25 304.30,387.52 304.55,388.53 304.80,398.98 305.05,415.69 305.30,434.23 305.55,450.72 305.80,463.08 306.05,471.07 306.30,475.56 306.55,477.78 306.80,478.75 307.05,479.12 307.30,479.13 307.55,479.00 307.80,478.83 308.05,478.64 308.30,478.47 308.55,478.36 308.80,478.35 309.05,478.44 309.30,478.60 309.55,478.79 309.80,478.97 310.05,479.11 310.30,479.20 310.55,479.25 310.80,479.27 311.05,479.26 311.30,479.25 311.55,479.21 311.80,479.03 312.05,478.63 312.30,477.80 312.55,476.28 312.80,473.85 313.05,470.51 313.30,466.62 313.55,462.93 313.80,460.38 314.05,459.74 314.30,461.21 314.55,464.32 314.80,468.20 315.05,471.94 315.30,474.94 315.55,476.98 315.80,478.20 316.05,478.83 316.30,479.12 316.55,479.21 316.80,479.26 317.05,479.28 317.30,479.29 317.55,479.29 317.80,479.27 318.05,479.25 318.30,479.21 318.55,479.17 318.80,479.14 319.05,479.11 319.30,479.10 319.55,479.11 319.80,479.14 320.05,479.18 320.30,479.05 320.55,478.87 320.80,478.62 321.05,478.34 321.30,478.08 321.55,477.92 321.80,477.91 322.05,478.04 322.30,478.28 322.55,478.56 322.80,478.82 323.05,479.02 323.30,479.16 323.55,479.11 323.80,478.83 324.05,478.26 324.30,477.25 324.55,475.69 324.80,473.60 325.05,471.26 325.30,469.15 325.55,467.83 325.80,467.70 326.05,468.81 326.30,470.80 326.55,473.14 326.80,475.31 327.05,476.98 327.30,478.10 327.55,478.74 327.80,478.89 328.05,478.67 328.30,478.43 328.55,478.23 328.80,478.12 329.05,478.14 329.30,477.04 329.55,475.32 329.80,473.02 330.05,470.44 330.30,468.11 330.55,466.66 330.80,466.51 331.05,467.73 331.30,469.93 331.55,472.51 331.80,474.90 332.05,476.75 332.30,477.97 332.55,478.68 332.80,478.87 333.05,478.36 333.30,477.44 333.55,476.03 333.80,474.14 334.05,472.02 334.30,470.11 334.55,468.91 334.80,468.79 335.05,469.79 335.30,471.60 335.55,473.72 335.80,475.68 336.05,477.20 336.30,478.21 336.55,478.79 336.80,479.09 337.05,479.22 337.30,479.26 337.55,479.20 337.80,479.08 338.05,478.89 338.30,478.62 338.55,478.27 338.80,477.91 339.05,477.63 339.30,477.50 339.55,477.56 339.80,477.80 340.05,476.98 340.30,475.31 340.55,473.14 340.80,470.80 341.05,468.81 341.30,467.70 341.55,467.83 341.80,469.15 342.05,471.26 342.30,473.60 342.55,475.69 342.80,476.93 343.05,477.48 343.30,478.05 343.55,478.53 343.80,478.88 344.05,478.63 344.30,477.86 344.55,476.53 344.80,474.52 345.05,471.93 345.30,469.13 345.55,466.74 345.80,465.42 346.05,465.58 346.30,467.16 346.55,469.68 346.80,472.49 347.05,474.98 347.30,476.85 347.55,478.06 347.80,478.73 348.05,479.06 348.30,478.94 348.55,478.82 348.80,478.71 349.05,478.67 349.30,478.69 349.55,478.77 349.80,478.89 350.05,479.02 350.30,479.12 350.55,479.20 350.80,479.18 351.05,479.06 351.30,478.86 351.55,478.58 351.80,478.25 352.05,477.92 352.30,477.68 352.55,477.60 352.80,477.70 353.05,477.95 353.30,478.21 353.55,477.20 353.80,475.68 354.05,473.72 354.30,471.60 354.55,469.79 354.80,468.79 355.05,468.91 355.30,470.11 355.55,472.02 355.80,474.14 356.05,476.03 356.30,477.44 356.55,478.36 356.80,478.45 357.05,478.60 357.30,478.79 357.55,478.96 357.80,479.06 358.05,478.75 358.30,478.16 358.55,477.21 358.80,475.85 359.05,474.21 359.30,472.57 359.55,471.35 359.80,470.90 360.05,471.35 360.30,472.57 360.55,474.21 360.80,475.85" class="sp"/>
<rect x="56.5" y="340.5" width="305.0" height="139.0" class="ax"/>
<path d="M57.60,479.5v-3.5M57.60,340.5v3.5M105.32,479.5v-3.5M105.32,340.5v3.5M153.04,479.5v-3.5M153.04,340.5v3.5M200.76,479.5v-3.5M200.76,340.5v3.5M248.48,479.5v-3.5M248.48,340.5v3.5M296.20,479.5v-3.5M296.20,340.5v3.5M343.92,479.5v-3.5M343.92,340.5v3.5M56.5,479.60h3.5M361.5,479.60h-3.5M56.5,434.50h3.5M361.5,434.50h-3.5M56.5,389.40h3.5M361.5,389.40h-3.5M56.5,344.30h3.5M361.5,344.30h-3.5M56.5,473.96h2.2M56.5,468.33h2.2M56.5,462.69h2.2M56.5,457.05h2.2M56.5,451.41h2.2M56.5,445.78h2.2M56.5,440.14h2.2M56.5,428.86h2.2M56.5,423.23h2.2M56.5,417.59h2.2M56.5,411.95h2.2M56.5,406.31h2.2M56.5,400.68h2.2M56.5,395.04h2.2M56.5,383.76h2.2M56.5,378.12h2.2M56.5,372.49h2.2M56.5,366.85h2.2M56.5,361.21h2.2M56.5,355.58h2.2M56.5,349.94h2.2" class="tk"/>
<text transform="translate(53.62,494.66) scale(1.125,1)" font-size="12.70">0</text>
<text transform="translate(91.50,494.66) scale(1.125,1)" font-size="12.70">0.02</text>
<text transform="translate(139.06,494.66) scale(1.125,1)" font-size="12.70">0.04</text>
<text transform="translate(186.88,494.66) scale(1.125,1)" font-size="12.70">0.06</text>
<text transform="translate(234.60,494.66) scale(1.125,1)" font-size="12.70">0.08</text>
<text transform="translate(286.32,494.66) scale(1.125,1)" font-size="12.70">0.1</text>
<text transform="translate(330.10,494.66) scale(1.125,1)" font-size="12.70">0.12</text>
<text transform="translate(44.51,484.77) scale(1.125,1)" font-size="12.70">0</text>
<text transform="translate(44.68,439.73) scale(1.125,1)" font-size="12.70">2</text>
<text transform="translate(44.36,394.57) scale(1.125,1)" font-size="12.70">4</text>
<text transform="translate(44.58,349.47) scale(1.125,1)" font-size="12.70">6</text>
<path d="M245.60,19.40V22.10M245.60,32.80V40.20M245.60,50.80V57.60" stroke="#ff0000" stroke-width="2.8" fill="none"/>
<path d="M245.60,26.60V27.60M245.60,44.90V45.90" stroke="#ff5050" stroke-width="2.2" fill="none"/>
<path d="M242.80,24.20h6.0M242.80,29.90h6.0M242.80,35.40h6.0M242.80,41.40h6.0M242.80,46.50h6.0M242.80,52.20h6.0M242.80,58.00h6.0M242.80,63.40h6.0" stroke="#333" stroke-width="1.2" fill="none"/>
<path d="M133.10,186.80V194.40M133.10,202.00V209.30M133.10,216.80V224.00" stroke="#00ee00" stroke-width="2.8" fill="none"/>
<path d="M207.30,179.50V182.20M207.30,193.40V200.50M207.30,210.70V217.90" stroke="#00ee00" stroke-width="2.8" fill="none"/>
<path d="M207.30,187.30V188.30M207.30,205.10V206.10" stroke="#60ff60" stroke-width="2.2" fill="none"/>
<path d="M205.80,184.80h6.0M205.80,190.30h6.0M205.80,196.00h6.0M205.80,201.50h6.0M205.80,207.00h6.0M205.80,212.80h6.0M205.80,218.30h6.0M205.80,224.00h6.0" stroke="#333" stroke-width="1.2" fill="none"/>
<path d="M235.50,180.00V182.80M235.50,193.40V200.50M235.50,211.30V218.30" stroke="#ff0000" stroke-width="2.8" fill="none"/>
<path d="M235.50,187.10V188.10M235.50,205.10V206.10M235.50,223.50V224.50" stroke="#ff5050" stroke-width="2.2" fill="none"/>
<path d="M125.50,340.60V343.30M125.50,354.00V361.00M125.50,371.80V379.00" stroke="#ff0000" stroke-width="2.8" fill="none"/>
<path d="M125.50,347.90V348.90M125.50,365.80V366.80M125.50,384.00V385.00" stroke="#ff5050" stroke-width="2.2" fill="none"/>
<path d="M178.20,347.30V354.90M178.20,362.20V369.80M178.20,377.00V384.70" stroke="#00ee00" stroke-width="2.8" fill="none"/>
<path d="M298.80,340.60V343.10M298.80,354.10V360.90M298.80,372.00V379.10" stroke="#00ee00" stroke-width="2.8" fill="none"/>
<path d="M298.80,348.00V349.00M298.80,365.60V366.60M298.80,383.60V384.60" stroke="#60ff60" stroke-width="2.2" fill="none"/>
<path d="M301.90,345.00h6.0M301.90,350.90h6.0M301.90,356.40h6.0M301.90,361.70h6.0M301.90,367.40h6.0M301.90,373.10h6.0M301.90,378.80h6.0M301.90,384.10h6.0" stroke="#333" stroke-width="1.2" fill="none"/>
<text transform="translate(56.62,13.97) scale(1.099,1)" font-size="13.00">x 10</text>
<text transform="translate(83.74,6.30) scale(1.118,1)" font-size="8.30">−9</text>
<text transform="translate(56.62,173.97) scale(1.099,1)" font-size="13.00">x 10</text>
<text transform="translate(83.74,166.40) scale(1.116,1)" font-size="8.30">−8</text>
<text transform="translate(56.62,334.50) scale(1.099,1)" font-size="13.00">x 10</text>
<text transform="translate(83.74,326.90) scale(1.116,1)" font-size="8.30">−8</text>
<line x1="489.68" y1="19.5" x2="489.68" y2="158.5" class="gv"/>
<line x1="550.56" y1="19.5" x2="550.56" y2="158.5" class="gv"/>
<line x1="611.44" y1="19.5" x2="611.44" y2="158.5" class="gv"/>
<line x1="672.32" y1="19.5" x2="672.32" y2="158.5" class="gv"/>
<line x1="428.5" y1="133.60" x2="733.5" y2="133.60" class="gh"/>
<line x1="428.5" y1="89.00" x2="733.5" y2="89.00" class="gh"/>
<line x1="428.5" y1="44.40" x2="733.5" y2="44.40" class="gh"/>
<text transform="translate(440.95,37.70) scale(1.150,1)" font-size="12.11">KOI 13.01</text>
<text transform="translate(626.21,37.80) scale(1.189,1)" font-size="12.14">Kepler13b</text>
<text transform="translate(559.41,135.10) scale(1.122,1)" font-size="12.83">P = 5.720 d</text>
<text transform="translate(559.76,149.00) scale(1.178,1)" font-size="12.28">A = 0.065 min</text>
<clipPath id="rc0"><rect x="428.5" y="19.5" width="305.0" height="139.0"/></clipPath><g clip-path="url(#rc0)">
<path d="M715.9,77.9V94.1M584.4,69.7V84.7M726.0,78.3V96.1M453.4,107.1V127.7M613.7,60.2V76.7M543.4,65.0V84.1M672.9,63.2V85.1M481.9,84.5V107.8M694.1,83.6V101.8M594.4,55.6V74.3M703.4,98.3V127.4M574.0,73.5V97.6M559.8,106.8V124.9M669.0,91.7V118.7M728.4,75.0V103.5M541.3,61.8V84.5M723.7,44.8V68.5M711.6,66.5V95.4M482.9,90.5V119.8M614.1,72.0V91.1M643.4,70.2V87.1M715.8,84.1V101.3M631.4,88.8V110.2M469.4,121.6V136.0M580.4,53.6V79.3M579.1,59.9V84.5M581.1,51.6V76.7M720.6,64.3V90.8M535.3,84.5V112.5M496.9,72.9V100.3M587.7,31.7V60.1M624.0,96.0V116.9M714.7,118.0V142.2M606.0,86.2V103.5M510.3,64.0V81.6M711.8,62.2V84.6M578.5,88.8V110.7M634.5,66.3V81.5M573.7,57.4V87.3M494.8,52.4V80.4M639.6,104.0V132.5M663.4,68.5V97.6M486.9,75.0V95.8M568.8,59.7V79.8M538.9,66.7V81.4M480.8,58.6V82.1M496.2,90.9V117.5M721.8,65.9V89.2M698.0,105.3V119.5M545.2,53.8V74.3M653.9,89.9V108.0M441.6,98.5V117.5M707.3,59.9V84.4M592.3,74.0V94.7M678.5,71.9V96.2M512.8,62.8V77.9M543.3,69.4V84.2M534.7,43.5V69.0M724.8,68.2V96.8M559.5,44.3V71.7M580.9,81.9V97.6M719.8,99.2V120.8M703.7,112.1V131.4M549.0,60.6V81.8M522.4,69.3V97.8M674.5,129.4V147.5M461.5,91.1V119.5M548.2,78.1V105.5M695.6,50.2V67.6M708.1,70.5V97.5M499.9,105.5V135.3M452.8,79.2V106.7M668.6,78.3V93.7M618.1,77.7V94.3M501.1,112.7V133.9M582.8,90.2V108.8M450.5,52.4V81.2M641.9,54.0V68.8M589.1,67.8V94.4M643.3,95.5V123.6M455.6,62.3V87.3M625.1,70.1V85.3M541.5,30.0V59.7M580.8,62.1V79.1M530.9,85.3V102.0M621.8,86.3V102.6M601.8,45.1V73.6M616.6,86.8V105.3M448.1,60.9V85.0M497.3,57.6V73.2M450.7,80.6V105.2M545.5,48.8V65.8M575.2,63.9V80.2M463.0,61.7V82.7M632.0,74.0V94.7M577.2,69.0V95.6M581.1,61.5V82.6M610.7,61.3V77.0M713.4,66.4V91.9M608.1,32.7V57.3M457.3,71.1V94.9M473.4,102.4V131.4M640.0,84.4V103.2M527.0,87.0V116.9M658.7,77.9V105.5M584.2,66.2V93.8M544.4,75.4V103.6M653.9,88.9V114.5M484.5,87.3V106.7M515.5,62.0V85.4M517.7,73.6V99.6M555.2,51.4V66.5M704.9,106.3V121.3M676.1,81.5V102.9M678.9,78.1V98.4M620.9,51.4V81.0M431.3,80.0V107.1M515.9,92.8V110.9M581.5,78.0V105.6M702.3,108.7V123.6M539.5,64.2V80.1M596.4,84.6V106.5M687.1,78.9V105.6M532.7,106.7V125.5M656.5,88.9V108.1M609.9,58.3V78.6M588.7,69.7V87.8M620.5,68.5V83.1M576.4,55.0V79.9M463.2,91.6V115.2M701.8,68.0V96.8M724.0,82.8V98.7M682.4,96.0V111.7M536.5,64.3V94.2M621.8,54.1V81.3M663.4,84.6V104.9M447.7,76.3V92.9M669.1,72.1V88.4M454.6,75.5V103.2M714.9,101.3V117.1M502.3,91.3V116.2M722.0,99.5V126.0M499.4,101.8V119.0M591.8,77.2V93.8M681.9,82.2V106.7M729.4,63.5V80.5M643.6,110.5V132.0M682.9,75.4V95.6M548.1,82.5V104.3M657.3,105.1V134.1M545.9,81.0V95.1M711.8,57.0V78.8M664.3,68.9V88.6M544.3,66.9V92.5M667.5,102.5V127.8M449.0,69.4V96.6M710.4,76.7V100.7M639.8,54.9V75.3M528.4,77.7V107.0M625.7,77.3V104.4M667.5,103.8V124.9M620.1,61.6V83.4M698.7,91.6V111.5M555.2,48.5V74.8M526.2,62.1V91.4M541.7,67.2V85.8M514.6,74.9V95.1M574.6,77.6V97.9M659.4,46.3V69.4M695.0,82.0V99.9M621.4,68.4V85.2M668.0,59.3V87.7M724.1,76.3V91.0M629.6,88.1V102.7M454.6,66.0V94.9M619.2,69.5V88.0M434.8,88.8V106.9M635.1,70.6V85.9M732.7,95.4V112.6M577.5,77.0V97.9M712.8,81.6V111.5M434.8,88.7V104.8M722.6,93.4V122.7M480.1,67.4V88.4M684.4,102.9V119.9M519.6,66.1V82.3M548.5,80.0V106.5M469.2,83.1V112.7M440.2,81.5V98.6M657.8,56.2V76.9M655.9,61.9V88.2M466.4,63.8V79.2M618.3,74.5V97.4M507.2,78.8V104.4M701.8,91.7V119.6M469.6,52.7V77.8M607.7,83.1V101.8M699.7,100.4V115.4M592.7,76.0V94.3M633.0,82.6V97.1M675.5,95.9V118.4M644.0,103.1V129.9M679.9,104.9V129.7M496.9,101.3V125.0M705.9,61.3V83.0M582.1,90.0V119.2M707.5,79.0V94.5M641.5,91.4V118.7M652.3,77.1V92.3M718.3,85.6V106.2M461.0,65.8V94.3M693.8,81.3V97.0M517.8,128.0V145.0M678.8,64.9V88.4M497.0,92.0V118.1M571.4,69.9V97.8M471.2,61.7V83.2M673.9,100.6V130.2M517.9,77.2V101.6M572.9,66.2V82.5M670.9,87.4V113.6M541.8,59.1V88.3M698.3,110.9V126.6M584.2,47.1V73.1M715.9,68.9V97.0M663.6,53.1V75.9M731.3,84.5V101.6M645.7,91.0V120.6M524.0,92.4V112.8M590.2,97.2V116.9M715.1,81.7V100.1M710.2,73.0V96.5M505.1,94.4V114.1M506.7,69.6V92.1M505.7,87.6V103.1M619.2,69.1V85.4M488.0,66.0V92.8M643.5,79.7V105.1M526.1,91.5V119.8M683.8,95.7V122.7M503.8,79.6V105.6M710.8,43.9V59.6M529.7,77.6V99.1M439.4,81.0V109.3M478.1,88.5V109.4M677.2,73.1V96.8M480.6,91.2V121.2M505.1,84.8V106.7M731.8,48.9V72.7M555.7,91.6V117.3M624.5,107.3V122.2M594.6,74.2V102.8M571.5,58.4V85.0M702.0,106.5V136.4M439.9,91.0V118.9M544.7,43.8V73.0M566.2,85.9V114.8M637.2,90.3V107.0M650.5,90.7V107.6M429.8,53.2V72.2M458.6,39.2V59.6M501.5,85.9V100.8M530.5,103.3V132.2M662.5,86.7V110.0M654.8,83.2V109.6M711.1,66.5V88.5M551.1,70.8V87.4M556.4,90.1V110.6M471.9,70.7V85.2M701.2,112.2V131.4M702.3,86.9V113.1M719.8,87.2V102.9M652.1,78.3V104.1M697.3,74.1V89.5M601.4,68.0V92.1M684.3,63.4V80.0M528.1,76.7V100.9M659.3,49.9V79.5M659.7,118.8V136.9M617.0,73.7V96.3M684.3,57.1V82.5M634.6,84.5V102.4M504.6,80.4V100.9M444.5,68.0V88.6M528.0,76.4V103.4M488.3,56.8V78.6M704.3,80.0V96.6M591.1,70.9V85.9M650.9,88.3V110.6M710.4,73.3V88.4M669.5,88.2V107.2M692.5,39.6V57.0M599.5,88.2V109.1M659.8,88.5V102.9M719.8,87.2V115.0M562.6,70.5V85.1M642.2,98.1V125.6M718.9,74.6V99.5M502.3,78.5V104.3M450.7,80.2V96.3M575.1,59.5V75.4M699.9,63.5V91.1M587.8,82.6V96.9M491.6,95.5V112.4M728.6,72.3V102.0M572.3,91.1V110.7M561.9,73.7V95.1M451.1,84.0V106.2M559.8,85.6V113.6M726.8,91.3V107.6M560.8,69.6V90.0M665.5,65.3V89.6M711.4,63.8V93.3M429.5,63.0V80.5M639.5,93.2V113.2M472.2,84.1V113.3M583.6,104.5V121.1M688.6,61.0V81.6M537.8,92.8V111.6M647.9,88.6V111.4M515.8,85.2V107.8M610.5,55.6V74.2M651.7,96.6V121.7M593.3,66.3V96.0M527.5,85.9V107.4M654.0,64.2V94.0M470.8,74.7V101.8M529.3,63.1V88.9M668.2,87.3V111.6M581.3,82.2V103.0M457.4,73.5V95.9M635.2,83.8V110.7M707.4,91.4V106.7M481.0,73.6V103.0M708.4,73.2V95.5M430.2,51.4V65.5M719.3,95.3V116.6M614.2,77.8V99.3M507.4,74.2V91.8M478.9,84.3V100.5M561.8,67.6V82.1M560.3,66.3V90.2M582.9,76.4V103.2M586.2,48.8V69.1M455.2,71.9V94.9M504.4,82.6V108.0M473.0,57.4V72.4M678.4,64.8V90.8M474.7,96.1V120.7M631.7,110.6V136.5M455.7,85.8V106.3M627.6,89.2V109.5M561.1,56.1V84.0M581.9,89.8V116.6M656.5,86.0V101.0M523.2,77.3V101.8M640.6,84.2V112.3M707.0,68.4V97.5M653.0,75.9V90.6M611.3,75.9V95.1M638.9,62.8V88.0M700.5,74.8V92.5M436.5,41.4V55.9M731.5,59.3V87.3M571.1,86.4V102.1M700.9,98.6V120.2M446.4,90.4V116.4M515.1,66.7V85.0M598.6,73.3V96.1M602.0,53.8V67.9M714.9,65.6V82.2M524.9,95.6V110.1M501.4,76.1V91.4M621.9,71.9V93.5M478.3,80.2V104.3M706.6,94.6V117.0M499.7,77.5V105.5M429.9,72.2V93.7M619.5,79.8V105.3M497.9,77.8V99.5M707.2,79.5V94.5M460.7,97.0V112.5M581.4,56.5V82.2M611.5,69.9V98.5M580.1,54.6V79.9M447.2,102.9V131.7M586.9,107.5V129.5M468.3,119.5V145.7M442.2,65.3V85.6M704.8,89.4V111.6M508.0,82.5V111.3M450.3,82.4V107.5M432.6,58.4V72.4M691.9,101.0V117.3M689.7,108.6V133.9M655.4,104.5V129.2M669.9,115.6V142.4M513.5,72.1V99.9M606.2,85.7V108.4M652.8,106.3V124.6M504.8,70.1V84.3M651.4,86.2V101.1M671.5,75.1V95.8M587.6,88.8V107.3M624.8,59.6V86.7M436.6,92.2V106.6M543.5,65.0V93.6M526.8,95.9V110.8M538.2,70.2V90.4M710.3,80.3V101.2M715.4,87.5V105.2M446.9,65.0V92.5M606.7,72.0V88.5M489.1,78.3V97.8M627.3,69.3V91.2M725.3,83.2V107.1M472.4,64.4V83.0M546.3,80.8V95.2M532.8,69.8V97.6M644.8,72.8V95.7M676.6,65.3V93.0M442.6,47.7V73.2M491.9,70.1V89.4M542.1,86.1V102.9M721.2,73.3V96.4M660.8,104.4V131.2M619.7,62.7V82.4M723.0,68.9V98.3M549.2,36.7V55.1M672.7,97.9V126.0M504.7,57.8V79.3M508.1,88.4V102.7M707.6,81.6V109.0M678.0,119.0V148.7M618.9,95.1V118.8M477.4,90.6V111.4M524.5,81.6V97.5M710.5,108.4V130.2M567.3,64.6V89.3M442.1,56.3V81.9M499.8,90.5V115.1M608.3,70.4V96.6M691.0,73.9V91.8M567.5,73.1V102.5M504.2,92.1V111.7M670.6,60.4V81.9M523.3,94.8V110.4M510.3,104.7V134.1M604.8,67.7V89.2M586.0,49.1V69.9M691.6,89.4V105.7M566.7,66.7V95.1M625.4,87.7V113.3M568.1,87.4V106.2M634.5,77.9V99.6M703.1,118.1V141.2M458.2,44.2V74.1M700.9,70.9V92.4M703.4,87.6V106.1M538.7,78.5V105.8M429.8,77.6V96.9M568.5,78.2V101.2M634.4,57.4V84.3M489.7,43.0V66.0M484.4,94.7V110.2M539.5,93.1V120.2M702.3,84.6V100.4M611.3,56.0V80.1M641.4,73.1V90.0M607.7,80.4V108.8M634.4,83.5V104.9M561.7,93.7V114.0M580.4,99.8V116.5M461.4,99.8V116.5M732.1,74.4V97.0M480.2,91.6V120.7M677.6,93.2V113.0M621.9,81.1V107.2M657.6,85.6V109.6M590.1,72.1V91.6M596.5,56.1V80.2M533.1,78.8V106.7M452.6,64.4V89.2M620.3,79.1V94.8M615.9,84.7V113.3M529.5,94.9V118.8M708.8,55.6V70.4M711.1,68.7V92.4M540.4,45.3V73.0M569.5,73.8V99.8M494.2,63.6V93.0M648.2,100.0V114.8M487.9,69.5V87.6M525.4,83.0V106.2M720.1,63.1V86.1M475.5,64.4V91.0M701.2,73.6V101.9M599.2,79.7V108.3M489.2,49.7V65.7M675.3,85.2V105.9M606.6,53.6V70.4M665.5,87.4V106.4M543.6,26.0V55.1M523.8,73.0V88.0M462.3,93.2V119.5M467.7,98.8V122.1M586.2,57.2V75.0M549.4,116.3V133.8M446.7,68.3V93.0M486.3,80.3V98.1M576.8,75.5V102.7M443.5,80.8V96.6M431.7,85.4V100.2M631.3,82.9V102.9M456.4,92.3V108.8M555.2,73.4V101.6M713.3,73.5V91.8M456.3,60.1V83.3M548.2,55.8V78.8M488.6,79.1V94.9M669.7,101.8V118.7M586.0,73.8V97.9M454.4,65.8V91.5M659.7,88.2V117.3M709.4,71.2V90.5M668.9,85.1V105.1M496.1,84.7V112.3M729.8,63.2V91.4M634.8,95.2V123.6M543.9,92.9V108.7M455.9,70.6V94.0M589.9,78.2V103.1M452.9,79.9V99.4M468.5,82.4V102.4M627.4,86.7V102.6M657.0,100.3V125.4M616.6,78.5V102.1M565.7,73.2V99.2M683.6,96.3V118.6M689.9,104.5V123.8M440.0,99.4V127.4M653.2,69.2V92.0M674.8,93.5V115.1M613.2,44.7V70.1M559.2,76.1V90.4M664.5,63.3V86.1M437.3,54.7V80.6M703.4,74.8V104.4M592.1,52.9V79.2M607.0,70.7V88.9M631.1,33.4V62.6M571.4,91.4V114.1M519.3,33.0V61.2M504.3,63.9V93.5M479.1,120.6V139.2M433.2,56.4V77.7M689.2,109.1V129.1M724.9,102.6V128.3M638.5,76.0V103.3M521.7,68.0V89.5M550.8,69.4V89.7M675.8,91.4V105.7M574.1,82.9V110.7M548.0,93.2V115.7M666.1,50.9V73.9M511.9,99.0V120.6M461.7,89.8V105.6M549.4,53.3V77.8M697.6,99.0V113.1M731.8,88.1V116.9M496.0,95.9V110.6M666.4,86.5V100.6M460.7,90.3V110.3M629.6,95.5V119.8M465.8,68.9V88.3M494.9,68.6V95.1M666.7,75.6V95.7M462.8,92.7V120.0M586.0,72.3V92.7M532.9,64.8V85.9M730.4,62.3V83.3M661.6,66.5V83.3M515.3,82.0V101.5M727.9,89.9V112.9M622.3,105.9V131.1M476.5,63.7V83.8M515.6,55.2V74.2M675.6,66.5V93.3M720.6,65.1V87.0M439.9,51.9V77.3M602.9,97.9V115.8M489.1,82.2V110.0M644.1,69.5V98.4M430.1,41.4V56.1M654.3,99.4V128.1M592.4,82.0V105.5M622.5,81.7V96.0M575.6,84.8V99.6M634.1,59.9V85.0M682.6,94.3V112.1M451.3,68.6V89.1M532.4,81.4V104.0M489.3,75.6V97.1M568.3,53.4V69.8M612.8,58.3V78.6M552.3,84.5V114.5M668.1,94.0V123.9M432.3,74.3V94.7M478.2,62.9V92.2M470.5,64.8V88.0M456.4,80.8V105.3M612.6,51.0V76.4M637.5,90.1V119.3M538.4,62.9V81.9M643.6,49.2V77.2M538.7,70.8V97.8M607.5,98.8V126.9M441.0,63.8V88.8M533.6,66.0V93.4M446.3,55.8V82.6M658.4,83.3V110.7M630.8,80.1V105.4M689.4,79.6V105.3M696.4,77.3V94.3M595.7,76.5V98.8M472.4,91.1V109.3M520.7,65.3V95.0M623.1,75.7V90.3M637.8,71.9V88.4M643.2,75.0V89.9M459.5,95.7V115.2M466.8,61.5V82.9M649.3,84.9V104.2M454.0,90.1V115.3M584.0,58.4V88.0M562.1,85.1V105.0M678.4,97.1V111.7M455.8,41.3V59.9M654.3,92.6V121.8M530.7,62.7V77.2M636.0,81.7V100.5M478.4,54.7V74.2M617.4,47.8V73.0M657.4,76.5V100.9M639.4,105.2V123.9M662.7,119.4V144.9M615.4,119.4V134.3M586.2,88.7V114.9M632.9,96.4V117.5M465.4,86.9V111.8M631.9,94.9V114.5M473.9,66.2V91.4M571.5,67.2V81.7M570.0,73.5V102.5M463.8,84.0V105.7M494.9,69.1V89.3M649.3,63.0V85.0M623.1,62.8V88.9M576.0,54.7V79.1M636.7,66.9V91.6M547.4,94.6V117.5M573.8,86.8V113.6M557.1,90.9V107.6M658.9,70.7V97.5M448.7,109.0V127.7M676.4,91.3V105.6M432.0,69.2V87.5M527.6,63.1V88.0M724.9,75.3V97.1M497.5,110.0V132.7M538.5,50.9V79.5M479.7,68.4V88.0M684.9,82.9V104.1M482.8,81.9V110.6M548.2,55.5V79.2M533.6,62.3V78.4M493.5,72.9V87.4M597.7,82.1V103.4M538.5,67.6V97.1M715.5,73.2V98.3M568.3,73.1V96.2M647.1,86.2V102.2M437.2,94.0V109.4M683.9,71.5V92.5M609.2,74.6V93.7M520.0,62.8V91.7M596.9,79.7V107.2M432.5,85.3V114.8M475.8,75.0V94.0M644.7,95.0V124.4M570.9,65.2V92.0M702.0,104.0V121.4M645.1,72.5V98.8M714.6,75.3V90.1M688.1,63.0V77.1M465.4,59.1V85.4M686.4,73.7V92.8M640.4,47.8V68.4M484.8,80.2V96.3M472.2,100.7V116.8M521.8,80.4V110.2M674.9,89.5V104.1M547.0,83.8V104.5M593.4,59.7V86.7M581.4,61.5V86.3M620.9,88.8V110.0M561.1,65.3V94.8M449.6,96.9V125.6M721.2,73.9V88.6M603.0,82.8V104.4M439.9,93.5V119.1M488.6,78.2V96.5M715.5,118.6V143.1M720.6,104.5V121.1M584.6,35.9V52.3M539.1,117.9V133.8M562.2,42.7V71.9M530.8,115.6V132.5M580.9,53.5V81.6M618.1,40.5V66.3M471.8,46.4V62.3M724.0,83.6V107.3M494.0,62.0V84.0M455.7,61.0V84.9M618.6,94.5V115.1M538.2,55.5V83.3M658.2,86.9V115.0M484.7,96.8V119.7M596.9,41.9V65.4M469.2,61.9V77.8M682.2,91.2V105.6M502.0,78.4V98.4M721.7,82.9V107.7M498.5,47.8V67.4M608.2,58.6V83.3M560.6,80.3V96.6M722.2,86.6V108.9M539.6,92.4V116.8M608.8,63.5V93.1M701.5,71.3V88.9M459.2,65.0V80.1M582.2,59.7V74.4M695.8,53.4V67.4M512.0,101.4V127.1M469.6,67.5V85.8M610.5,63.4V83.5M680.3,69.3V97.9M701.1,90.8V108.8M580.6,69.4V96.0M491.4,59.9V77.2M432.8,95.5V109.8M550.1,79.1V95.4M472.1,76.8V92.8M611.8,74.1V94.3M642.3,94.7V123.3M639.8,86.9V115.2M494.8,72.4V101.1M730.7,95.3V111.4M668.9,46.3V73.5M627.8,86.1V111.4M676.9,67.3V93.1M720.0,69.0V88.2M538.1,71.7V90.0M672.4,131.2V147.5M560.7,69.3V89.2M554.5,67.9V88.7M731.2,93.2V109.6M476.4,45.4V68.0M585.2,61.0V88.1M676.2,97.0V122.4M628.6,63.3V81.5M552.9,80.7V102.6M669.8,65.4V82.5M505.3,56.8V72.5M590.5,87.2V102.8M587.2,68.2V96.6M480.8,93.9V119.0M488.2,82.3V99.9M693.9,50.7V79.0M466.7,93.0V113.9M728.6,80.6V108.1M535.5,82.8V100.8M726.6,70.3V93.9M651.5,63.4V87.9M582.9,89.9V117.8M699.3,91.2V117.0M466.4,78.5V103.9M604.0,67.2V82.1M654.9,114.6V138.8M654.7,64.7V80.4M526.9,65.8V84.6M450.5,110.9V130.9M722.9,89.0V108.0M711.1,92.3V117.3M529.2,86.5V109.5M687.3,114.7V138.1M478.0,87.7V103.2M518.8,87.4V114.0M730.0,63.3V86.9M466.1,78.3V100.5M612.7,39.9V56.1M656.6,73.1V96.3M679.7,84.7V103.6M715.7,87.3V115.2M454.6,98.4V119.8M653.1,74.1V91.8M634.5,61.1V86.4M587.0,75.8V97.1M513.4,61.9V88.3M691.0,112.4V126.7M542.7,91.5V117.8M635.2,65.0V85.5M533.3,75.6V104.1M567.6,91.2V113.3M728.5,64.4V84.6M496.9,67.5V96.2M688.5,77.5V107.3M453.2,99.9V118.2M723.1,93.6V108.0M625.6,72.8V96.2M536.8,79.5V102.2M674.8,87.5V102.5M659.7,84.4V109.0M724.5,85.5V106.9M646.3,81.1V110.8M668.5,90.0V118.8M549.7,73.6V94.4M682.0,76.0V102.9M667.8,75.0V97.9M583.0,48.9V65.1M509.5,67.6V94.0M729.0,119.3V144.6M576.4,66.1V95.0M678.5,90.8V112.6M452.4,93.3V107.8M528.8,66.6V90.9M493.9,69.2V97.6M658.7,92.2V118.9M552.0,58.4V79.1M678.3,101.5V129.0M539.1,80.4V109.9M532.1,80.6V101.3M533.4,74.4V104.3M508.6,86.7V111.8M608.7,72.6V98.5M590.2,34.4V52.0M708.6,84.1V111.8M540.6,49.3V72.9M473.3,72.5V88.5M698.2,77.0V93.3M721.9,70.6V93.5M600.9,46.9V67.2M454.4,43.6V72.6M586.8,70.7V90.1M492.1,77.1V102.0M539.0,78.9V104.3M561.7,52.0V73.8M448.8,68.6V97.0M588.6,83.5V104.7M588.9,64.2V88.5M510.7,68.1V90.9M463.2,112.2V126.7M614.5,50.4V70.0M635.0,65.8V89.9M729.3,57.4V85.7M618.7,62.8V85.9M493.5,129.5V146.6M492.6,64.5V82.2M433.4,69.9V97.6M457.9,72.6V87.1M680.6,71.2V93.5M440.1,86.4V114.8M571.6,63.2V87.3M491.5,94.1V118.1M626.3,102.3V118.9M669.7,79.3V95.5M601.1,91.5V119.8M644.0,62.3V86.0M441.7,85.9V100.9M459.8,96.3V113.3M447.3,59.4V86.1M509.1,77.1V100.2M435.6,88.7V103.6M658.0,95.2V112.3M688.9,92.7V106.8M662.4,113.4V138.6M510.5,79.3V94.2M556.5,89.9V115.9M628.9,112.7V132.9M482.4,65.7V95.6M527.7,67.2V95.9M641.5,67.7V85.5M580.5,84.6V103.3M547.8,99.2V115.6M498.4,55.5V71.3M670.6,73.3V89.3M525.9,69.1V88.6M557.6,108.9V128.5M599.3,68.9V88.5M487.8,88.8V103.9M704.1,51.0V76.3M525.9,103.8V117.9M660.4,69.7V88.6M626.8,76.9V100.5M479.1,66.3V82.3M431.7,75.4V100.3M570.8,69.6V92.7M658.1,91.1V106.2M469.4,85.3V101.0M673.3,111.5V135.9M488.6,65.9V92.6M542.6,98.3V115.5M466.4,80.4V109.0M476.8,74.8V100.4M616.5,77.8V106.9M654.4,84.3V113.5M445.2,92.2V112.3M683.2,95.2V120.7M596.4,83.0V104.6M600.0,81.7V96.0M584.7,51.0V67.0M467.4,93.9V112.4M718.5,94.7V121.8M694.8,91.4V108.7M463.1,83.9V105.1M520.5,67.0V85.6M485.3,80.2V109.9M560.0,84.4V111.1M562.6,44.3V61.2M717.0,76.9V91.1M632.6,69.8V96.2M716.3,95.5V125.1M687.4,78.5V97.5M479.4,51.5V73.3M660.4,86.5V108.6M611.4,97.6V115.7M472.8,75.3V99.4M599.7,66.8V88.5M645.5,89.2V104.0M474.6,102.4V129.4M700.6,74.5V103.6M718.4,78.9V94.2M732.2,88.0V103.3M433.8,66.6V87.3M540.3,45.9V74.7M481.1,81.2V107.5M470.2,75.7V92.5M611.9,83.1V100.5M566.7,75.5V95.3M625.6,87.7V106.9M664.7,64.2V93.2M556.6,79.9V98.5M683.0,66.0V80.2M691.8,85.1V113.9M732.7,69.9V88.3M429.7,107.4V122.3M531.3,60.5V87.1M716.1,45.1V66.7M693.1,84.7V106.7M496.7,69.5V88.9M687.4,69.7V90.7M711.3,82.4V106.6M673.3,109.2V131.7M465.0,76.5V96.6M652.6,71.6V94.8M429.0,96.1V124.8M604.0,88.5V114.9M605.4,70.3V99.4M664.7,76.8V96.0M520.5,89.3V108.9M573.9,57.5V85.7M548.0,66.0V83.9M457.6,68.4V83.0M543.2,83.1V103.5M640.9,107.4V121.9M637.0,83.7V99.6M482.0,102.8V129.9M436.4,49.6V65.9M695.6,81.8V102.5M629.1,52.9V72.6M458.4,92.4V110.8M608.0,90.7V117.5M500.0,54.6V68.7M642.1,71.1V88.1M688.9,81.3V106.5M537.7,54.2V70.6M675.0,71.5V89.2M441.7,59.9V83.2M499.0,75.1V103.6M544.3,53.4V75.6M570.9,50.8V75.8M562.9,61.2V76.8M702.2,76.0V100.9M507.2,79.1V97.0M483.3,71.5V97.3M691.9,96.0V123.4M607.9,65.7V88.5M622.2,76.6V97.6M558.2,84.8V104.7M605.5,69.7V84.4" class="eb"/>
<g class="pt"><ellipse cx="715.9" cy="86.0" rx="2.5" ry="2.15"/><ellipse cx="584.4" cy="77.2" rx="2.5" ry="2.15"/><ellipse cx="726.0" cy="87.2" rx="2.5" ry="2.15"/><ellipse cx="453.4" cy="117.4" rx="2.5" ry="2.15"/><ellipse cx="613.7" cy="68.4" rx="2.5" ry="2.15"/><ellipse cx="543.4" cy="74.5" rx="2.5" ry="2.15"/><ellipse cx="672.9" cy="74.1" rx="2.5" ry="2.15"/><ellipse cx="481.9" cy="96.2" rx="2.5" ry="2.15"/><ellipse cx="694.1" cy="92.7" rx="2.5" ry="2.15"/><ellipse cx="594.4" cy="65.0" rx="2.5" ry="2.15"/><ellipse cx="703.4" cy="112.8" rx="2.5" ry="2.15"/><ellipse cx="574.0" cy="85.6" rx="2.5" ry="2.15"/><ellipse cx="559.8" cy="115.8" rx="2.5" ry="2.15"/><ellipse cx="669.0" cy="105.2" rx="2.5" ry="2.15"/><ellipse cx="728.4" cy="89.2" rx="2.5" ry="2.15"/><ellipse cx="541.3" cy="73.1" rx="2.5" ry="2.15"/><ellipse cx="723.7" cy="56.6" rx="2.5" ry="2.15"/><ellipse cx="711.6" cy="80.9" rx="2.5" ry="2.15"/><ellipse cx="482.9" cy="105.1" rx="2.5" ry="2.15"/><ellipse cx="614.1" cy="81.5" rx="2.5" ry="2.15"/><ellipse cx="643.4" cy="78.6" rx="2.5" ry="2.15"/><ellipse cx="715.8" cy="92.7" rx="2.5" ry="2.15"/><ellipse cx="631.4" cy="99.5" rx="2.5" ry="2.15"/><ellipse cx="469.4" cy="128.8" rx="2.5" ry="2.15"/><ellipse cx="580.4" cy="66.4" rx="2.5" ry="2.15"/><ellipse cx="579.1" cy="72.2" rx="2.5" ry="2.15"/><ellipse cx="581.1" cy="64.2" rx="2.5" ry="2.15"/><ellipse cx="720.6" cy="77.5" rx="2.5" ry="2.15"/><ellipse cx="535.3" cy="98.5" rx="2.5" ry="2.15"/><ellipse cx="496.9" cy="86.6" rx="2.5" ry="2.15"/><ellipse cx="587.7" cy="45.9" rx="2.5" ry="2.15"/><ellipse cx="624.0" cy="106.5" rx="2.5" ry="2.15"/><ellipse cx="714.7" cy="130.1" rx="2.5" ry="2.15"/><ellipse cx="606.0" cy="94.8" rx="2.5" ry="2.15"/><ellipse cx="510.3" cy="72.8" rx="2.5" ry="2.15"/><ellipse cx="711.8" cy="73.4" rx="2.5" ry="2.15"/><ellipse cx="578.5" cy="99.7" rx="2.5" ry="2.15"/><ellipse cx="634.5" cy="73.9" rx="2.5" ry="2.15"/><ellipse cx="573.7" cy="72.4" rx="2.5" ry="2.15"/><ellipse cx="494.8" cy="66.4" rx="2.5" ry="2.15"/><ellipse cx="639.6" cy="118.2" rx="2.5" ry="2.15"/><ellipse cx="663.4" cy="83.0" rx="2.5" ry="2.15"/><ellipse cx="486.9" cy="85.4" rx="2.5" ry="2.15"/><ellipse cx="568.8" cy="69.8" rx="2.5" ry="2.15"/><ellipse cx="538.9" cy="74.0" rx="2.5" ry="2.15"/><ellipse cx="480.8" cy="70.3" rx="2.5" ry="2.15"/><ellipse cx="496.2" cy="104.2" rx="2.5" ry="2.15"/><ellipse cx="721.8" cy="77.5" rx="2.5" ry="2.15"/><ellipse cx="698.0" cy="112.4" rx="2.5" ry="2.15"/><ellipse cx="545.2" cy="64.0" rx="2.5" ry="2.15"/><ellipse cx="653.9" cy="99.0" rx="2.5" ry="2.15"/><ellipse cx="441.6" cy="108.0" rx="2.5" ry="2.15"/><ellipse cx="707.3" cy="72.2" rx="2.5" ry="2.15"/><ellipse cx="592.3" cy="84.4" rx="2.5" ry="2.15"/><ellipse cx="678.5" cy="84.0" rx="2.5" ry="2.15"/><ellipse cx="512.8" cy="70.3" rx="2.5" ry="2.15"/><ellipse cx="543.3" cy="76.8" rx="2.5" ry="2.15"/><ellipse cx="534.7" cy="56.3" rx="2.5" ry="2.15"/><ellipse cx="724.8" cy="82.5" rx="2.5" ry="2.15"/><ellipse cx="559.5" cy="58.0" rx="2.5" ry="2.15"/><ellipse cx="580.9" cy="89.7" rx="2.5" ry="2.15"/><ellipse cx="719.8" cy="110.0" rx="2.5" ry="2.15"/><ellipse cx="703.7" cy="121.8" rx="2.5" ry="2.15"/><ellipse cx="549.0" cy="71.2" rx="2.5" ry="2.15"/><ellipse cx="522.4" cy="83.6" rx="2.5" ry="2.15"/><ellipse cx="674.5" cy="138.4" rx="2.5" ry="2.15"/><ellipse cx="461.5" cy="105.3" rx="2.5" ry="2.15"/><ellipse cx="548.2" cy="91.8" rx="2.5" ry="2.15"/><ellipse cx="695.6" cy="58.9" rx="2.5" ry="2.15"/><ellipse cx="708.1" cy="84.0" rx="2.5" ry="2.15"/><ellipse cx="499.9" cy="120.4" rx="2.5" ry="2.15"/><ellipse cx="452.8" cy="93.0" rx="2.5" ry="2.15"/><ellipse cx="668.6" cy="86.0" rx="2.5" ry="2.15"/><ellipse cx="618.1" cy="86.0" rx="2.5" ry="2.15"/><ellipse cx="501.1" cy="123.3" rx="2.5" ry="2.15"/><ellipse cx="582.8" cy="99.5" rx="2.5" ry="2.15"/><ellipse cx="450.5" cy="66.8" rx="2.5" ry="2.15"/><ellipse cx="641.9" cy="61.4" rx="2.5" ry="2.15"/><ellipse cx="589.1" cy="81.1" rx="2.5" ry="2.15"/><ellipse cx="643.3" cy="109.6" rx="2.5" ry="2.15"/><ellipse cx="455.6" cy="74.8" rx="2.5" ry="2.15"/><ellipse cx="625.1" cy="77.7" rx="2.5" ry="2.15"/><ellipse cx="541.5" cy="44.8" rx="2.5" ry="2.15"/><ellipse cx="580.8" cy="70.6" rx="2.5" ry="2.15"/><ellipse cx="530.9" cy="93.7" rx="2.5" ry="2.15"/><ellipse cx="621.8" cy="94.5" rx="2.5" ry="2.15"/><ellipse cx="601.8" cy="59.3" rx="2.5" ry="2.15"/><ellipse cx="616.6" cy="96.0" rx="2.5" ry="2.15"/><ellipse cx="448.1" cy="72.9" rx="2.5" ry="2.15"/><ellipse cx="497.3" cy="65.4" rx="2.5" ry="2.15"/><ellipse cx="450.7" cy="92.9" rx="2.5" ry="2.15"/><ellipse cx="545.5" cy="57.3" rx="2.5" ry="2.15"/><ellipse cx="575.2" cy="72.1" rx="2.5" ry="2.15"/><ellipse cx="463.0" cy="72.2" rx="2.5" ry="2.15"/><ellipse cx="632.0" cy="84.4" rx="2.5" ry="2.15"/><ellipse cx="577.2" cy="82.3" rx="2.5" ry="2.15"/><ellipse cx="581.1" cy="72.0" rx="2.5" ry="2.15"/><ellipse cx="610.7" cy="69.2" rx="2.5" ry="2.15"/><ellipse cx="713.4" cy="79.2" rx="2.5" ry="2.15"/><ellipse cx="608.1" cy="45.0" rx="2.5" ry="2.15"/><ellipse cx="457.3" cy="83.0" rx="2.5" ry="2.15"/><ellipse cx="473.4" cy="116.9" rx="2.5" ry="2.15"/><ellipse cx="640.0" cy="93.8" rx="2.5" ry="2.15"/><ellipse cx="527.0" cy="102.0" rx="2.5" ry="2.15"/><ellipse cx="658.7" cy="91.7" rx="2.5" ry="2.15"/><ellipse cx="584.2" cy="80.0" rx="2.5" ry="2.15"/><ellipse cx="544.4" cy="89.5" rx="2.5" ry="2.15"/><ellipse cx="653.9" cy="101.7" rx="2.5" ry="2.15"/><ellipse cx="484.5" cy="97.0" rx="2.5" ry="2.15"/><ellipse cx="515.5" cy="73.7" rx="2.5" ry="2.15"/><ellipse cx="517.7" cy="86.6" rx="2.5" ry="2.15"/><ellipse cx="555.2" cy="58.9" rx="2.5" ry="2.15"/><ellipse cx="704.9" cy="113.8" rx="2.5" ry="2.15"/><ellipse cx="676.1" cy="92.2" rx="2.5" ry="2.15"/><ellipse cx="678.9" cy="88.3" rx="2.5" ry="2.15"/><ellipse cx="620.9" cy="66.2" rx="2.5" ry="2.15"/><ellipse cx="431.3" cy="93.5" rx="2.5" ry="2.15"/><ellipse cx="515.9" cy="101.9" rx="2.5" ry="2.15"/><ellipse cx="581.5" cy="91.8" rx="2.5" ry="2.15"/><ellipse cx="702.3" cy="116.2" rx="2.5" ry="2.15"/><ellipse cx="539.5" cy="72.2" rx="2.5" ry="2.15"/><ellipse cx="596.4" cy="95.5" rx="2.5" ry="2.15"/><ellipse cx="687.1" cy="92.2" rx="2.5" ry="2.15"/><ellipse cx="532.7" cy="116.1" rx="2.5" ry="2.15"/><ellipse cx="656.5" cy="98.5" rx="2.5" ry="2.15"/><ellipse cx="609.9" cy="68.4" rx="2.5" ry="2.15"/><ellipse cx="588.7" cy="78.7" rx="2.5" ry="2.15"/><ellipse cx="620.5" cy="75.8" rx="2.5" ry="2.15"/><ellipse cx="576.4" cy="67.4" rx="2.5" ry="2.15"/><ellipse cx="463.2" cy="103.4" rx="2.5" ry="2.15"/><ellipse cx="701.8" cy="82.4" rx="2.5" ry="2.15"/><ellipse cx="724.0" cy="90.8" rx="2.5" ry="2.15"/><ellipse cx="682.4" cy="103.9" rx="2.5" ry="2.15"/><ellipse cx="536.5" cy="79.2" rx="2.5" ry="2.15"/><ellipse cx="621.8" cy="67.7" rx="2.5" ry="2.15"/><ellipse cx="663.4" cy="94.7" rx="2.5" ry="2.15"/><ellipse cx="447.7" cy="84.6" rx="2.5" ry="2.15"/><ellipse cx="669.1" cy="80.3" rx="2.5" ry="2.15"/><ellipse cx="454.6" cy="89.3" rx="2.5" ry="2.15"/><ellipse cx="714.9" cy="109.2" rx="2.5" ry="2.15"/><ellipse cx="502.3" cy="103.7" rx="2.5" ry="2.15"/><ellipse cx="722.0" cy="112.8" rx="2.5" ry="2.15"/><ellipse cx="499.4" cy="110.4" rx="2.5" ry="2.15"/><ellipse cx="591.8" cy="85.5" rx="2.5" ry="2.15"/><ellipse cx="681.9" cy="94.5" rx="2.5" ry="2.15"/><ellipse cx="729.4" cy="72.0" rx="2.5" ry="2.15"/><ellipse cx="643.6" cy="121.3" rx="2.5" ry="2.15"/><ellipse cx="682.9" cy="85.5" rx="2.5" ry="2.15"/><ellipse cx="548.1" cy="93.4" rx="2.5" ry="2.15"/><ellipse cx="657.3" cy="119.6" rx="2.5" ry="2.15"/><ellipse cx="545.9" cy="88.0" rx="2.5" ry="2.15"/><ellipse cx="711.8" cy="67.9" rx="2.5" ry="2.15"/><ellipse cx="664.3" cy="78.7" rx="2.5" ry="2.15"/><ellipse cx="544.3" cy="79.7" rx="2.5" ry="2.15"/><ellipse cx="667.5" cy="115.2" rx="2.5" ry="2.15"/><ellipse cx="449.0" cy="83.0" rx="2.5" ry="2.15"/><ellipse cx="710.4" cy="88.7" rx="2.5" ry="2.15"/><ellipse cx="639.8" cy="65.1" rx="2.5" ry="2.15"/><ellipse cx="528.4" cy="92.4" rx="2.5" ry="2.15"/><ellipse cx="625.7" cy="90.9" rx="2.5" ry="2.15"/><ellipse cx="667.5" cy="114.4" rx="2.5" ry="2.15"/><ellipse cx="620.1" cy="72.5" rx="2.5" ry="2.15"/><ellipse cx="698.7" cy="101.6" rx="2.5" ry="2.15"/><ellipse cx="555.2" cy="61.6" rx="2.5" ry="2.15"/><ellipse cx="526.2" cy="76.7" rx="2.5" ry="2.15"/><ellipse cx="541.7" cy="76.5" rx="2.5" ry="2.15"/><ellipse cx="514.6" cy="85.0" rx="2.5" ry="2.15"/><ellipse cx="574.6" cy="87.8" rx="2.5" ry="2.15"/><ellipse cx="659.4" cy="57.9" rx="2.5" ry="2.15"/><ellipse cx="695.0" cy="91.0" rx="2.5" ry="2.15"/><ellipse cx="621.4" cy="76.8" rx="2.5" ry="2.15"/><ellipse cx="668.0" cy="73.5" rx="2.5" ry="2.15"/><ellipse cx="724.1" cy="83.7" rx="2.5" ry="2.15"/><ellipse cx="629.6" cy="95.4" rx="2.5" ry="2.15"/><ellipse cx="454.6" cy="80.4" rx="2.5" ry="2.15"/><ellipse cx="619.2" cy="78.8" rx="2.5" ry="2.15"/><ellipse cx="434.8" cy="97.9" rx="2.5" ry="2.15"/><ellipse cx="635.1" cy="78.2" rx="2.5" ry="2.15"/><ellipse cx="732.7" cy="104.0" rx="2.5" ry="2.15"/><ellipse cx="577.5" cy="87.4" rx="2.5" ry="2.15"/><ellipse cx="712.8" cy="96.6" rx="2.5" ry="2.15"/><ellipse cx="434.8" cy="96.7" rx="2.5" ry="2.15"/><ellipse cx="722.6" cy="108.1" rx="2.5" ry="2.15"/><ellipse cx="480.1" cy="77.9" rx="2.5" ry="2.15"/><ellipse cx="684.4" cy="111.4" rx="2.5" ry="2.15"/><ellipse cx="519.6" cy="74.2" rx="2.5" ry="2.15"/><ellipse cx="548.5" cy="93.3" rx="2.5" ry="2.15"/><ellipse cx="469.2" cy="97.9" rx="2.5" ry="2.15"/><ellipse cx="440.2" cy="90.0" rx="2.5" ry="2.15"/><ellipse cx="657.8" cy="66.6" rx="2.5" ry="2.15"/><ellipse cx="655.9" cy="75.0" rx="2.5" ry="2.15"/><ellipse cx="466.4" cy="71.5" rx="2.5" ry="2.15"/><ellipse cx="618.3" cy="86.0" rx="2.5" ry="2.15"/><ellipse cx="507.2" cy="91.6" rx="2.5" ry="2.15"/><ellipse cx="701.8" cy="105.7" rx="2.5" ry="2.15"/><ellipse cx="469.6" cy="65.3" rx="2.5" ry="2.15"/><ellipse cx="607.7" cy="92.5" rx="2.5" ry="2.15"/><ellipse cx="699.7" cy="107.9" rx="2.5" ry="2.15"/><ellipse cx="592.7" cy="85.2" rx="2.5" ry="2.15"/><ellipse cx="633.0" cy="89.8" rx="2.5" ry="2.15"/><ellipse cx="675.5" cy="107.1" rx="2.5" ry="2.15"/><ellipse cx="644.0" cy="116.5" rx="2.5" ry="2.15"/><ellipse cx="679.9" cy="117.3" rx="2.5" ry="2.15"/><ellipse cx="496.9" cy="113.1" rx="2.5" ry="2.15"/><ellipse cx="705.9" cy="72.1" rx="2.5" ry="2.15"/><ellipse cx="582.1" cy="104.6" rx="2.5" ry="2.15"/><ellipse cx="707.5" cy="86.8" rx="2.5" ry="2.15"/><ellipse cx="641.5" cy="105.1" rx="2.5" ry="2.15"/><ellipse cx="652.3" cy="84.7" rx="2.5" ry="2.15"/><ellipse cx="718.3" cy="95.9" rx="2.5" ry="2.15"/><ellipse cx="461.0" cy="80.1" rx="2.5" ry="2.15"/><ellipse cx="693.8" cy="89.1" rx="2.5" ry="2.15"/><ellipse cx="517.8" cy="136.5" rx="2.5" ry="2.15"/><ellipse cx="678.8" cy="76.6" rx="2.5" ry="2.15"/><ellipse cx="497.0" cy="105.0" rx="2.5" ry="2.15"/><ellipse cx="571.4" cy="83.8" rx="2.5" ry="2.15"/><ellipse cx="471.2" cy="72.5" rx="2.5" ry="2.15"/><ellipse cx="673.9" cy="115.4" rx="2.5" ry="2.15"/><ellipse cx="517.9" cy="89.4" rx="2.5" ry="2.15"/><ellipse cx="572.9" cy="74.3" rx="2.5" ry="2.15"/><ellipse cx="670.9" cy="100.5" rx="2.5" ry="2.15"/><ellipse cx="541.8" cy="73.7" rx="2.5" ry="2.15"/><ellipse cx="698.3" cy="118.8" rx="2.5" ry="2.15"/><ellipse cx="584.2" cy="60.1" rx="2.5" ry="2.15"/><ellipse cx="715.9" cy="82.9" rx="2.5" ry="2.15"/><ellipse cx="663.6" cy="64.5" rx="2.5" ry="2.15"/><ellipse cx="731.3" cy="93.0" rx="2.5" ry="2.15"/><ellipse cx="645.7" cy="105.8" rx="2.5" ry="2.15"/><ellipse cx="524.0" cy="102.6" rx="2.5" ry="2.15"/><ellipse cx="590.2" cy="107.0" rx="2.5" ry="2.15"/><ellipse cx="715.1" cy="90.9" rx="2.5" ry="2.15"/><ellipse cx="710.2" cy="84.7" rx="2.5" ry="2.15"/><ellipse cx="505.1" cy="104.3" rx="2.5" ry="2.15"/><ellipse cx="506.7" cy="80.8" rx="2.5" ry="2.15"/><ellipse cx="505.7" cy="95.4" rx="2.5" ry="2.15"/><ellipse cx="619.2" cy="77.2" rx="2.5" ry="2.15"/><ellipse cx="488.0" cy="79.4" rx="2.5" ry="2.15"/><ellipse cx="643.5" cy="92.4" rx="2.5" ry="2.15"/><ellipse cx="526.1" cy="105.7" rx="2.5" ry="2.15"/><ellipse cx="683.8" cy="109.2" rx="2.5" ry="2.15"/><ellipse cx="503.8" cy="92.6" rx="2.5" ry="2.15"/><ellipse cx="710.8" cy="51.7" rx="2.5" ry="2.15"/><ellipse cx="529.7" cy="88.4" rx="2.5" ry="2.15"/><ellipse cx="439.4" cy="95.1" rx="2.5" ry="2.15"/><ellipse cx="478.1" cy="98.9" rx="2.5" ry="2.15"/><ellipse cx="677.2" cy="85.0" rx="2.5" ry="2.15"/><ellipse cx="480.6" cy="106.2" rx="2.5" ry="2.15"/><ellipse cx="505.1" cy="95.7" rx="2.5" ry="2.15"/><ellipse cx="731.8" cy="60.8" rx="2.5" ry="2.15"/><ellipse cx="555.7" cy="104.5" rx="2.5" ry="2.15"/><ellipse cx="624.5" cy="114.8" rx="2.5" ry="2.15"/><ellipse cx="594.6" cy="88.5" rx="2.5" ry="2.15"/><ellipse cx="571.5" cy="71.7" rx="2.5" ry="2.15"/><ellipse cx="702.0" cy="121.4" rx="2.5" ry="2.15"/><ellipse cx="439.9" cy="105.0" rx="2.5" ry="2.15"/><ellipse cx="544.7" cy="58.4" rx="2.5" ry="2.15"/><ellipse cx="566.2" cy="100.4" rx="2.5" ry="2.15"/><ellipse cx="637.2" cy="98.7" rx="2.5" ry="2.15"/><ellipse cx="650.5" cy="99.1" rx="2.5" ry="2.15"/><ellipse cx="429.8" cy="62.7" rx="2.5" ry="2.15"/><ellipse cx="458.6" cy="49.4" rx="2.5" ry="2.15"/><ellipse cx="501.5" cy="93.4" rx="2.5" ry="2.15"/><ellipse cx="530.5" cy="117.7" rx="2.5" ry="2.15"/><ellipse cx="662.5" cy="98.3" rx="2.5" ry="2.15"/><ellipse cx="654.8" cy="96.4" rx="2.5" ry="2.15"/><ellipse cx="711.1" cy="77.5" rx="2.5" ry="2.15"/><ellipse cx="551.1" cy="79.1" rx="2.5" ry="2.15"/><ellipse cx="556.4" cy="100.4" rx="2.5" ry="2.15"/><ellipse cx="471.9" cy="77.9" rx="2.5" ry="2.15"/><ellipse cx="701.2" cy="121.8" rx="2.5" ry="2.15"/><ellipse cx="702.3" cy="100.0" rx="2.5" ry="2.15"/><ellipse cx="719.8" cy="95.0" rx="2.5" ry="2.15"/><ellipse cx="652.1" cy="91.2" rx="2.5" ry="2.15"/><ellipse cx="697.3" cy="81.8" rx="2.5" ry="2.15"/><ellipse cx="601.4" cy="80.0" rx="2.5" ry="2.15"/><ellipse cx="684.3" cy="71.7" rx="2.5" ry="2.15"/><ellipse cx="528.1" cy="88.8" rx="2.5" ry="2.15"/><ellipse cx="659.3" cy="64.7" rx="2.5" ry="2.15"/><ellipse cx="659.7" cy="127.8" rx="2.5" ry="2.15"/><ellipse cx="617.0" cy="85.0" rx="2.5" ry="2.15"/><ellipse cx="684.3" cy="69.8" rx="2.5" ry="2.15"/><ellipse cx="634.6" cy="93.4" rx="2.5" ry="2.15"/><ellipse cx="504.6" cy="90.6" rx="2.5" ry="2.15"/><ellipse cx="444.5" cy="78.3" rx="2.5" ry="2.15"/><ellipse cx="528.0" cy="89.9" rx="2.5" ry="2.15"/><ellipse cx="488.3" cy="67.7" rx="2.5" ry="2.15"/><ellipse cx="704.3" cy="88.3" rx="2.5" ry="2.15"/><ellipse cx="591.1" cy="78.4" rx="2.5" ry="2.15"/><ellipse cx="650.9" cy="99.4" rx="2.5" ry="2.15"/><ellipse cx="710.4" cy="80.8" rx="2.5" ry="2.15"/><ellipse cx="669.5" cy="97.7" rx="2.5" ry="2.15"/><ellipse cx="692.5" cy="48.3" rx="2.5" ry="2.15"/><ellipse cx="599.5" cy="98.6" rx="2.5" ry="2.15"/><ellipse cx="659.8" cy="95.7" rx="2.5" ry="2.15"/><ellipse cx="719.8" cy="101.1" rx="2.5" ry="2.15"/><ellipse cx="562.6" cy="77.8" rx="2.5" ry="2.15"/><ellipse cx="642.2" cy="111.8" rx="2.5" ry="2.15"/><ellipse cx="718.9" cy="87.0" rx="2.5" ry="2.15"/><ellipse cx="502.3" cy="91.4" rx="2.5" ry="2.15"/><ellipse cx="450.7" cy="88.2" rx="2.5" ry="2.15"/><ellipse cx="575.1" cy="67.5" rx="2.5" ry="2.15"/><ellipse cx="699.9" cy="77.3" rx="2.5" ry="2.15"/><ellipse cx="587.8" cy="89.7" rx="2.5" ry="2.15"/><ellipse cx="491.6" cy="103.9" rx="2.5" ry="2.15"/><ellipse cx="728.6" cy="87.2" rx="2.5" ry="2.15"/><ellipse cx="572.3" cy="100.9" rx="2.5" ry="2.15"/><ellipse cx="561.9" cy="84.4" rx="2.5" ry="2.15"/><ellipse cx="451.1" cy="95.1" rx="2.5" ry="2.15"/><ellipse cx="559.8" cy="99.6" rx="2.5" ry="2.15"/><ellipse cx="726.8" cy="99.4" rx="2.5" ry="2.15"/><ellipse cx="560.8" cy="79.8" rx="2.5" ry="2.15"/><ellipse cx="665.5" cy="77.4" rx="2.5" ry="2.15"/><ellipse cx="711.4" cy="78.5" rx="2.5" ry="2.15"/><ellipse cx="429.5" cy="71.8" rx="2.5" ry="2.15"/><ellipse cx="639.5" cy="103.2" rx="2.5" ry="2.15"/><ellipse cx="472.2" cy="98.7" rx="2.5" ry="2.15"/><ellipse cx="583.6" cy="112.8" rx="2.5" ry="2.15"/><ellipse cx="688.6" cy="71.3" rx="2.5" ry="2.15"/><ellipse cx="537.8" cy="102.2" rx="2.5" ry="2.15"/><ellipse cx="647.9" cy="100.0" rx="2.5" ry="2.15"/><ellipse cx="515.8" cy="96.5" rx="2.5" ry="2.15"/><ellipse cx="610.5" cy="64.9" rx="2.5" ry="2.15"/><ellipse cx="651.7" cy="109.1" rx="2.5" ry="2.15"/><ellipse cx="593.3" cy="81.1" rx="2.5" ry="2.15"/><ellipse cx="527.5" cy="96.7" rx="2.5" ry="2.15"/><ellipse cx="654.0" cy="79.1" rx="2.5" ry="2.15"/><ellipse cx="470.8" cy="88.2" rx="2.5" ry="2.15"/><ellipse cx="529.3" cy="76.0" rx="2.5" ry="2.15"/><ellipse cx="668.2" cy="99.4" rx="2.5" ry="2.15"/><ellipse cx="581.3" cy="92.6" rx="2.5" ry="2.15"/><ellipse cx="457.4" cy="84.7" rx="2.5" ry="2.15"/><ellipse cx="635.2" cy="97.3" rx="2.5" ry="2.15"/><ellipse cx="707.4" cy="99.1" rx="2.5" ry="2.15"/><ellipse cx="481.0" cy="88.3" rx="2.5" ry="2.15"/><ellipse cx="708.4" cy="84.4" rx="2.5" ry="2.15"/><ellipse cx="430.2" cy="58.4" rx="2.5" ry="2.15"/><ellipse cx="719.3" cy="105.9" rx="2.5" ry="2.15"/><ellipse cx="614.2" cy="88.5" rx="2.5" ry="2.15"/><ellipse cx="507.4" cy="83.0" rx="2.5" ry="2.15"/><ellipse cx="478.9" cy="92.4" rx="2.5" ry="2.15"/><ellipse cx="561.8" cy="74.9" rx="2.5" ry="2.15"/><ellipse cx="560.3" cy="78.2" rx="2.5" ry="2.15"/><ellipse cx="582.9" cy="89.8" rx="2.5" ry="2.15"/><ellipse cx="586.2" cy="59.0" rx="2.5" ry="2.15"/><ellipse cx="455.2" cy="83.4" rx="2.5" ry="2.15"/><ellipse cx="504.4" cy="95.3" rx="2.5" ry="2.15"/><ellipse cx="473.0" cy="64.9" rx="2.5" ry="2.15"/><ellipse cx="678.4" cy="77.8" rx="2.5" ry="2.15"/><ellipse cx="474.7" cy="108.4" rx="2.5" ry="2.15"/><ellipse cx="631.7" cy="123.5" rx="2.5" ry="2.15"/><ellipse cx="455.7" cy="96.0" rx="2.5" ry="2.15"/><ellipse cx="627.6" cy="99.4" rx="2.5" ry="2.15"/><ellipse cx="561.1" cy="70.0" rx="2.5" ry="2.15"/><ellipse cx="581.9" cy="103.2" rx="2.5" ry="2.15"/><ellipse cx="656.5" cy="93.5" rx="2.5" ry="2.15"/><ellipse cx="523.2" cy="89.6" rx="2.5" ry="2.15"/><ellipse cx="640.6" cy="98.2" rx="2.5" ry="2.15"/><ellipse cx="707.0" cy="83.0" rx="2.5" ry="2.15"/><ellipse cx="653.0" cy="83.3" rx="2.5" ry="2.15"/><ellipse cx="611.3" cy="85.5" rx="2.5" ry="2.15"/><ellipse cx="638.9" cy="75.4" rx="2.5" ry="2.15"/><ellipse cx="700.5" cy="83.6" rx="2.5" ry="2.15"/><ellipse cx="436.5" cy="48.7" rx="2.5" ry="2.15"/><ellipse cx="731.5" cy="73.3" rx="2.5" ry="2.15"/><ellipse cx="571.1" cy="94.2" rx="2.5" ry="2.15"/><ellipse cx="700.9" cy="109.4" rx="2.5" ry="2.15"/><ellipse cx="446.4" cy="103.4" rx="2.5" ry="2.15"/><ellipse cx="515.1" cy="75.9" rx="2.5" ry="2.15"/><ellipse cx="598.6" cy="84.7" rx="2.5" ry="2.15"/><ellipse cx="602.0" cy="60.9" rx="2.5" ry="2.15"/><ellipse cx="714.9" cy="73.9" rx="2.5" ry="2.15"/><ellipse cx="524.9" cy="102.8" rx="2.5" ry="2.15"/><ellipse cx="501.4" cy="83.7" rx="2.5" ry="2.15"/><ellipse cx="621.9" cy="82.7" rx="2.5" ry="2.15"/><ellipse cx="478.3" cy="92.2" rx="2.5" ry="2.15"/><ellipse cx="706.6" cy="105.8" rx="2.5" ry="2.15"/><ellipse cx="499.7" cy="91.5" rx="2.5" ry="2.15"/><ellipse cx="429.9" cy="82.9" rx="2.5" ry="2.15"/><ellipse cx="619.5" cy="92.6" rx="2.5" ry="2.15"/><ellipse cx="497.9" cy="88.6" rx="2.5" ry="2.15"/><ellipse cx="707.2" cy="87.0" rx="2.5" ry="2.15"/><ellipse cx="460.7" cy="104.7" rx="2.5" ry="2.15"/><ellipse cx="581.4" cy="69.4" rx="2.5" ry="2.15"/><ellipse cx="611.5" cy="84.2" rx="2.5" ry="2.15"/><ellipse cx="580.1" cy="67.3" rx="2.5" ry="2.15"/><ellipse cx="447.2" cy="117.3" rx="2.5" ry="2.15"/><ellipse cx="586.9" cy="118.5" rx="2.5" ry="2.15"/><ellipse cx="468.3" cy="132.6" rx="2.5" ry="2.15"/><ellipse cx="442.2" cy="75.4" rx="2.5" ry="2.15"/><ellipse cx="704.8" cy="100.5" rx="2.5" ry="2.15"/><ellipse cx="508.0" cy="96.9" rx="2.5" ry="2.15"/><ellipse cx="450.3" cy="94.9" rx="2.5" ry="2.15"/><ellipse cx="432.6" cy="65.4" rx="2.5" ry="2.15"/><ellipse cx="691.9" cy="109.2" rx="2.5" ry="2.15"/><ellipse cx="689.7" cy="121.3" rx="2.5" ry="2.15"/><ellipse cx="655.4" cy="116.8" rx="2.5" ry="2.15"/><ellipse cx="669.9" cy="129.0" rx="2.5" ry="2.15"/><ellipse cx="513.5" cy="86.0" rx="2.5" ry="2.15"/><ellipse cx="606.2" cy="97.0" rx="2.5" ry="2.15"/><ellipse cx="652.8" cy="115.4" rx="2.5" ry="2.15"/><ellipse cx="504.8" cy="77.2" rx="2.5" ry="2.15"/><ellipse cx="651.4" cy="93.7" rx="2.5" ry="2.15"/><ellipse cx="671.5" cy="85.4" rx="2.5" ry="2.15"/><ellipse cx="587.6" cy="98.1" rx="2.5" ry="2.15"/><ellipse cx="624.8" cy="73.2" rx="2.5" ry="2.15"/><ellipse cx="436.6" cy="99.4" rx="2.5" ry="2.15"/><ellipse cx="543.5" cy="79.3" rx="2.5" ry="2.15"/><ellipse cx="526.8" cy="103.3" rx="2.5" ry="2.15"/><ellipse cx="538.2" cy="80.3" rx="2.5" ry="2.15"/><ellipse cx="710.3" cy="90.8" rx="2.5" ry="2.15"/><ellipse cx="715.4" cy="96.4" rx="2.5" ry="2.15"/><ellipse cx="446.9" cy="78.8" rx="2.5" ry="2.15"/><ellipse cx="606.7" cy="80.2" rx="2.5" ry="2.15"/><ellipse cx="489.1" cy="88.1" rx="2.5" ry="2.15"/><ellipse cx="627.3" cy="80.2" rx="2.5" ry="2.15"/><ellipse cx="725.3" cy="95.2" rx="2.5" ry="2.15"/><ellipse cx="472.4" cy="73.7" rx="2.5" ry="2.15"/><ellipse cx="546.3" cy="88.0" rx="2.5" ry="2.15"/><ellipse cx="532.8" cy="83.7" rx="2.5" ry="2.15"/><ellipse cx="644.8" cy="84.2" rx="2.5" ry="2.15"/><ellipse cx="676.6" cy="79.1" rx="2.5" ry="2.15"/><ellipse cx="442.6" cy="60.4" rx="2.5" ry="2.15"/><ellipse cx="491.9" cy="79.8" rx="2.5" ry="2.15"/><ellipse cx="542.1" cy="94.5" rx="2.5" ry="2.15"/><ellipse cx="721.2" cy="84.9" rx="2.5" ry="2.15"/><ellipse cx="660.8" cy="117.8" rx="2.5" ry="2.15"/><ellipse cx="619.7" cy="72.5" rx="2.5" ry="2.15"/><ellipse cx="723.0" cy="83.6" rx="2.5" ry="2.15"/><ellipse cx="549.2" cy="45.9" rx="2.5" ry="2.15"/><ellipse cx="672.7" cy="111.9" rx="2.5" ry="2.15"/><ellipse cx="504.7" cy="68.6" rx="2.5" ry="2.15"/><ellipse cx="508.1" cy="95.6" rx="2.5" ry="2.15"/><ellipse cx="707.6" cy="95.3" rx="2.5" ry="2.15"/><ellipse cx="678.0" cy="133.9" rx="2.5" ry="2.15"/><ellipse cx="618.9" cy="107.0" rx="2.5" ry="2.15"/><ellipse cx="477.4" cy="101.0" rx="2.5" ry="2.15"/><ellipse cx="524.5" cy="89.6" rx="2.5" ry="2.15"/><ellipse cx="710.5" cy="119.3" rx="2.5" ry="2.15"/><ellipse cx="567.3" cy="77.0" rx="2.5" ry="2.15"/><ellipse cx="442.1" cy="69.1" rx="2.5" ry="2.15"/><ellipse cx="499.8" cy="102.8" rx="2.5" ry="2.15"/><ellipse cx="608.3" cy="83.5" rx="2.5" ry="2.15"/><ellipse cx="691.0" cy="82.8" rx="2.5" ry="2.15"/><ellipse cx="567.5" cy="87.8" rx="2.5" ry="2.15"/><ellipse cx="504.2" cy="101.9" rx="2.5" ry="2.15"/><ellipse cx="670.6" cy="71.2" rx="2.5" ry="2.15"/><ellipse cx="523.3" cy="102.6" rx="2.5" ry="2.15"/><ellipse cx="510.3" cy="119.4" rx="2.5" ry="2.15"/><ellipse cx="604.8" cy="78.4" rx="2.5" ry="2.15"/><ellipse cx="586.0" cy="59.5" rx="2.5" ry="2.15"/><ellipse cx="691.6" cy="97.5" rx="2.5" ry="2.15"/><ellipse cx="566.7" cy="80.9" rx="2.5" ry="2.15"/><ellipse cx="625.4" cy="100.5" rx="2.5" ry="2.15"/><ellipse cx="568.1" cy="96.8" rx="2.5" ry="2.15"/><ellipse cx="634.5" cy="88.7" rx="2.5" ry="2.15"/><ellipse cx="703.1" cy="129.6" rx="2.5" ry="2.15"/><ellipse cx="458.2" cy="59.1" rx="2.5" ry="2.15"/><ellipse cx="700.9" cy="81.7" rx="2.5" ry="2.15"/><ellipse cx="703.4" cy="96.9" rx="2.5" ry="2.15"/><ellipse cx="538.7" cy="92.1" rx="2.5" ry="2.15"/><ellipse cx="429.8" cy="87.2" rx="2.5" ry="2.15"/><ellipse cx="568.5" cy="89.7" rx="2.5" ry="2.15"/><ellipse cx="634.4" cy="70.9" rx="2.5" ry="2.15"/><ellipse cx="489.7" cy="54.5" rx="2.5" ry="2.15"/><ellipse cx="484.4" cy="102.5" rx="2.5" ry="2.15"/><ellipse cx="539.5" cy="106.6" rx="2.5" ry="2.15"/><ellipse cx="702.3" cy="92.5" rx="2.5" ry="2.15"/><ellipse cx="611.3" cy="68.1" rx="2.5" ry="2.15"/><ellipse cx="641.4" cy="81.5" rx="2.5" ry="2.15"/><ellipse cx="607.7" cy="94.6" rx="2.5" ry="2.15"/><ellipse cx="634.4" cy="94.2" rx="2.5" ry="2.15"/><ellipse cx="561.7" cy="103.8" rx="2.5" ry="2.15"/><ellipse cx="580.4" cy="108.1" rx="2.5" ry="2.15"/><ellipse cx="461.4" cy="108.1" rx="2.5" ry="2.15"/><ellipse cx="732.1" cy="85.7" rx="2.5" ry="2.15"/><ellipse cx="480.2" cy="106.1" rx="2.5" ry="2.15"/><ellipse cx="677.6" cy="103.1" rx="2.5" ry="2.15"/><ellipse cx="621.9" cy="94.1" rx="2.5" ry="2.15"/><ellipse cx="657.6" cy="97.6" rx="2.5" ry="2.15"/><ellipse cx="590.1" cy="81.8" rx="2.5" ry="2.15"/><ellipse cx="596.5" cy="68.1" rx="2.5" ry="2.15"/><ellipse cx="533.1" cy="92.8" rx="2.5" ry="2.15"/><ellipse cx="452.6" cy="76.8" rx="2.5" ry="2.15"/><ellipse cx="620.3" cy="87.0" rx="2.5" ry="2.15"/><ellipse cx="615.9" cy="99.0" rx="2.5" ry="2.15"/><ellipse cx="529.5" cy="106.9" rx="2.5" ry="2.15"/><ellipse cx="708.8" cy="63.0" rx="2.5" ry="2.15"/><ellipse cx="711.1" cy="80.6" rx="2.5" ry="2.15"/><ellipse cx="540.4" cy="59.1" rx="2.5" ry="2.15"/><ellipse cx="569.5" cy="86.8" rx="2.5" ry="2.15"/><ellipse cx="494.2" cy="78.3" rx="2.5" ry="2.15"/><ellipse cx="648.2" cy="107.4" rx="2.5" ry="2.15"/><ellipse cx="487.9" cy="78.6" rx="2.5" ry="2.15"/><ellipse cx="525.4" cy="94.6" rx="2.5" ry="2.15"/><ellipse cx="720.1" cy="74.6" rx="2.5" ry="2.15"/><ellipse cx="475.5" cy="77.7" rx="2.5" ry="2.15"/><ellipse cx="701.2" cy="87.7" rx="2.5" ry="2.15"/><ellipse cx="599.2" cy="94.0" rx="2.5" ry="2.15"/><ellipse cx="489.2" cy="57.7" rx="2.5" ry="2.15"/><ellipse cx="675.3" cy="95.6" rx="2.5" ry="2.15"/><ellipse cx="606.6" cy="62.0" rx="2.5" ry="2.15"/><ellipse cx="665.5" cy="96.9" rx="2.5" ry="2.15"/><ellipse cx="543.6" cy="40.5" rx="2.5" ry="2.15"/><ellipse cx="523.8" cy="80.5" rx="2.5" ry="2.15"/><ellipse cx="462.3" cy="106.3" rx="2.5" ry="2.15"/><ellipse cx="467.7" cy="110.4" rx="2.5" ry="2.15"/><ellipse cx="586.2" cy="66.1" rx="2.5" ry="2.15"/><ellipse cx="549.4" cy="125.1" rx="2.5" ry="2.15"/><ellipse cx="446.7" cy="80.7" rx="2.5" ry="2.15"/><ellipse cx="486.3" cy="89.2" rx="2.5" ry="2.15"/><ellipse cx="576.8" cy="89.1" rx="2.5" ry="2.15"/><ellipse cx="443.5" cy="88.7" rx="2.5" ry="2.15"/><ellipse cx="431.7" cy="92.8" rx="2.5" ry="2.15"/><ellipse cx="631.3" cy="92.9" rx="2.5" ry="2.15"/><ellipse cx="456.4" cy="100.5" rx="2.5" ry="2.15"/><ellipse cx="555.2" cy="87.5" rx="2.5" ry="2.15"/><ellipse cx="713.3" cy="82.7" rx="2.5" ry="2.15"/><ellipse cx="456.3" cy="71.7" rx="2.5" ry="2.15"/><ellipse cx="548.2" cy="67.3" rx="2.5" ry="2.15"/><ellipse cx="488.6" cy="87.0" rx="2.5" ry="2.15"/><ellipse cx="669.7" cy="110.3" rx="2.5" ry="2.15"/><ellipse cx="586.0" cy="85.8" rx="2.5" ry="2.15"/><ellipse cx="454.4" cy="78.7" rx="2.5" ry="2.15"/><ellipse cx="659.7" cy="102.8" rx="2.5" ry="2.15"/><ellipse cx="709.4" cy="80.9" rx="2.5" ry="2.15"/><ellipse cx="668.9" cy="95.1" rx="2.5" ry="2.15"/><ellipse cx="496.1" cy="98.5" rx="2.5" ry="2.15"/><ellipse cx="729.8" cy="77.3" rx="2.5" ry="2.15"/><ellipse cx="634.8" cy="109.4" rx="2.5" ry="2.15"/><ellipse cx="543.9" cy="100.8" rx="2.5" ry="2.15"/><ellipse cx="455.9" cy="82.3" rx="2.5" ry="2.15"/><ellipse cx="589.9" cy="90.6" rx="2.5" ry="2.15"/><ellipse cx="452.9" cy="89.7" rx="2.5" ry="2.15"/><ellipse cx="468.5" cy="92.4" rx="2.5" ry="2.15"/><ellipse cx="627.4" cy="94.7" rx="2.5" ry="2.15"/><ellipse cx="657.0" cy="112.9" rx="2.5" ry="2.15"/><ellipse cx="616.6" cy="90.3" rx="2.5" ry="2.15"/><ellipse cx="565.7" cy="86.2" rx="2.5" ry="2.15"/><ellipse cx="683.6" cy="107.4" rx="2.5" ry="2.15"/><ellipse cx="689.9" cy="114.1" rx="2.5" ry="2.15"/><ellipse cx="440.0" cy="113.4" rx="2.5" ry="2.15"/><ellipse cx="653.2" cy="80.6" rx="2.5" ry="2.15"/><ellipse cx="674.8" cy="104.3" rx="2.5" ry="2.15"/><ellipse cx="613.2" cy="57.4" rx="2.5" ry="2.15"/><ellipse cx="559.2" cy="83.3" rx="2.5" ry="2.15"/><ellipse cx="664.5" cy="74.7" rx="2.5" ry="2.15"/><ellipse cx="437.3" cy="67.7" rx="2.5" ry="2.15"/><ellipse cx="703.4" cy="89.6" rx="2.5" ry="2.15"/><ellipse cx="592.1" cy="66.0" rx="2.5" ry="2.15"/><ellipse cx="607.0" cy="79.8" rx="2.5" ry="2.15"/><ellipse cx="631.1" cy="48.0" rx="2.5" ry="2.15"/><ellipse cx="571.4" cy="102.7" rx="2.5" ry="2.15"/><ellipse cx="519.3" cy="47.1" rx="2.5" ry="2.15"/><ellipse cx="504.3" cy="78.7" rx="2.5" ry="2.15"/><ellipse cx="479.1" cy="129.9" rx="2.5" ry="2.15"/><ellipse cx="433.2" cy="67.0" rx="2.5" ry="2.15"/><ellipse cx="689.2" cy="119.1" rx="2.5" ry="2.15"/><ellipse cx="724.9" cy="115.5" rx="2.5" ry="2.15"/><ellipse cx="638.5" cy="89.6" rx="2.5" ry="2.15"/><ellipse cx="521.7" cy="78.8" rx="2.5" ry="2.15"/><ellipse cx="550.8" cy="79.5" rx="2.5" ry="2.15"/><ellipse cx="675.8" cy="98.6" rx="2.5" ry="2.15"/><ellipse cx="574.1" cy="96.8" rx="2.5" ry="2.15"/><ellipse cx="548.0" cy="104.5" rx="2.5" ry="2.15"/><ellipse cx="666.1" cy="62.4" rx="2.5" ry="2.15"/><ellipse cx="511.9" cy="109.8" rx="2.5" ry="2.15"/><ellipse cx="461.7" cy="97.7" rx="2.5" ry="2.15"/><ellipse cx="549.4" cy="65.5" rx="2.5" ry="2.15"/><ellipse cx="697.6" cy="106.0" rx="2.5" ry="2.15"/><ellipse cx="731.8" cy="102.5" rx="2.5" ry="2.15"/><ellipse cx="496.0" cy="103.3" rx="2.5" ry="2.15"/><ellipse cx="666.4" cy="93.5" rx="2.5" ry="2.15"/><ellipse cx="460.7" cy="100.3" rx="2.5" ry="2.15"/><ellipse cx="629.6" cy="107.7" rx="2.5" ry="2.15"/><ellipse cx="465.8" cy="78.6" rx="2.5" ry="2.15"/><ellipse cx="494.9" cy="81.8" rx="2.5" ry="2.15"/><ellipse cx="666.7" cy="85.6" rx="2.5" ry="2.15"/><ellipse cx="462.8" cy="106.4" rx="2.5" ry="2.15"/><ellipse cx="586.0" cy="82.5" rx="2.5" ry="2.15"/><ellipse cx="532.9" cy="75.3" rx="2.5" ry="2.15"/><ellipse cx="730.4" cy="72.8" rx="2.5" ry="2.15"/><ellipse cx="661.6" cy="74.9" rx="2.5" ry="2.15"/><ellipse cx="515.3" cy="91.8" rx="2.5" ry="2.15"/><ellipse cx="727.9" cy="101.4" rx="2.5" ry="2.15"/><ellipse cx="622.3" cy="118.5" rx="2.5" ry="2.15"/><ellipse cx="476.5" cy="73.7" rx="2.5" ry="2.15"/><ellipse cx="515.6" cy="64.7" rx="2.5" ry="2.15"/><ellipse cx="675.6" cy="79.9" rx="2.5" ry="2.15"/><ellipse cx="720.6" cy="76.1" rx="2.5" ry="2.15"/><ellipse cx="439.9" cy="64.6" rx="2.5" ry="2.15"/><ellipse cx="602.9" cy="106.8" rx="2.5" ry="2.15"/><ellipse cx="489.1" cy="96.1" rx="2.5" ry="2.15"/><ellipse cx="644.1" cy="83.9" rx="2.5" ry="2.15"/><ellipse cx="430.1" cy="48.8" rx="2.5" ry="2.15"/><ellipse cx="654.3" cy="113.8" rx="2.5" ry="2.15"/><ellipse cx="592.4" cy="93.7" rx="2.5" ry="2.15"/><ellipse cx="622.5" cy="88.8" rx="2.5" ry="2.15"/><ellipse cx="575.6" cy="92.2" rx="2.5" ry="2.15"/><ellipse cx="634.1" cy="72.4" rx="2.5" ry="2.15"/><ellipse cx="682.6" cy="103.2" rx="2.5" ry="2.15"/><ellipse cx="451.3" cy="78.9" rx="2.5" ry="2.15"/><ellipse cx="532.4" cy="92.7" rx="2.5" ry="2.15"/><ellipse cx="489.3" cy="86.3" rx="2.5" ry="2.15"/><ellipse cx="568.3" cy="61.6" rx="2.5" ry="2.15"/><ellipse cx="612.8" cy="68.4" rx="2.5" ry="2.15"/><ellipse cx="552.3" cy="99.5" rx="2.5" ry="2.15"/><ellipse cx="668.1" cy="109.0" rx="2.5" ry="2.15"/><ellipse cx="432.3" cy="84.5" rx="2.5" ry="2.15"/><ellipse cx="478.2" cy="77.6" rx="2.5" ry="2.15"/><ellipse cx="470.5" cy="76.4" rx="2.5" ry="2.15"/><ellipse cx="456.4" cy="93.0" rx="2.5" ry="2.15"/><ellipse cx="612.6" cy="63.7" rx="2.5" ry="2.15"/><ellipse cx="637.5" cy="104.7" rx="2.5" ry="2.15"/><ellipse cx="538.4" cy="72.4" rx="2.5" ry="2.15"/><ellipse cx="643.6" cy="63.2" rx="2.5" ry="2.15"/><ellipse cx="538.7" cy="84.3" rx="2.5" ry="2.15"/><ellipse cx="607.5" cy="112.9" rx="2.5" ry="2.15"/><ellipse cx="441.0" cy="76.3" rx="2.5" ry="2.15"/><ellipse cx="533.6" cy="79.7" rx="2.5" ry="2.15"/><ellipse cx="446.3" cy="69.2" rx="2.5" ry="2.15"/><ellipse cx="658.4" cy="97.0" rx="2.5" ry="2.15"/><ellipse cx="630.8" cy="92.7" rx="2.5" ry="2.15"/><ellipse cx="689.4" cy="92.4" rx="2.5" ry="2.15"/><ellipse cx="696.4" cy="85.8" rx="2.5" ry="2.15"/><ellipse cx="595.7" cy="87.6" rx="2.5" ry="2.15"/><ellipse cx="472.4" cy="100.2" rx="2.5" ry="2.15"/><ellipse cx="520.7" cy="80.1" rx="2.5" ry="2.15"/><ellipse cx="623.1" cy="83.0" rx="2.5" ry="2.15"/><ellipse cx="637.8" cy="80.2" rx="2.5" ry="2.15"/><ellipse cx="643.2" cy="82.4" rx="2.5" ry="2.15"/><ellipse cx="459.5" cy="105.5" rx="2.5" ry="2.15"/><ellipse cx="466.8" cy="72.2" rx="2.5" ry="2.15"/><ellipse cx="649.3" cy="94.6" rx="2.5" ry="2.15"/><ellipse cx="454.0" cy="102.7" rx="2.5" ry="2.15"/><ellipse cx="584.0" cy="73.2" rx="2.5" ry="2.15"/><ellipse cx="562.1" cy="95.1" rx="2.5" ry="2.15"/><ellipse cx="678.4" cy="104.4" rx="2.5" ry="2.15"/><ellipse cx="455.8" cy="50.6" rx="2.5" ry="2.15"/><ellipse cx="654.3" cy="107.2" rx="2.5" ry="2.15"/><ellipse cx="530.7" cy="70.0" rx="2.5" ry="2.15"/><ellipse cx="636.0" cy="91.1" rx="2.5" ry="2.15"/><ellipse cx="478.4" cy="64.4" rx="2.5" ry="2.15"/><ellipse cx="617.4" cy="60.4" rx="2.5" ry="2.15"/><ellipse cx="657.4" cy="88.7" rx="2.5" ry="2.15"/><ellipse cx="639.4" cy="114.5" rx="2.5" ry="2.15"/><ellipse cx="662.7" cy="132.2" rx="2.5" ry="2.15"/><ellipse cx="615.4" cy="126.8" rx="2.5" ry="2.15"/><ellipse cx="586.2" cy="101.8" rx="2.5" ry="2.15"/><ellipse cx="632.9" cy="107.0" rx="2.5" ry="2.15"/><ellipse cx="465.4" cy="99.3" rx="2.5" ry="2.15"/><ellipse cx="631.9" cy="104.7" rx="2.5" ry="2.15"/><ellipse cx="473.9" cy="78.8" rx="2.5" ry="2.15"/><ellipse cx="571.5" cy="74.4" rx="2.5" ry="2.15"/><ellipse cx="570.0" cy="88.0" rx="2.5" ry="2.15"/><ellipse cx="463.8" cy="94.9" rx="2.5" ry="2.15"/><ellipse cx="494.9" cy="79.2" rx="2.5" ry="2.15"/><ellipse cx="649.3" cy="74.0" rx="2.5" ry="2.15"/><ellipse cx="623.1" cy="75.8" rx="2.5" ry="2.15"/><ellipse cx="576.0" cy="66.9" rx="2.5" ry="2.15"/><ellipse cx="636.7" cy="79.2" rx="2.5" ry="2.15"/><ellipse cx="547.4" cy="106.0" rx="2.5" ry="2.15"/><ellipse cx="573.8" cy="100.2" rx="2.5" ry="2.15"/><ellipse cx="557.1" cy="99.3" rx="2.5" ry="2.15"/><ellipse cx="658.9" cy="84.1" rx="2.5" ry="2.15"/><ellipse cx="448.7" cy="118.3" rx="2.5" ry="2.15"/><ellipse cx="676.4" cy="98.5" rx="2.5" ry="2.15"/><ellipse cx="432.0" cy="78.4" rx="2.5" ry="2.15"/><ellipse cx="527.6" cy="75.5" rx="2.5" ry="2.15"/><ellipse cx="724.9" cy="86.2" rx="2.5" ry="2.15"/><ellipse cx="497.5" cy="121.4" rx="2.5" ry="2.15"/><ellipse cx="538.5" cy="65.2" rx="2.5" ry="2.15"/><ellipse cx="479.7" cy="78.2" rx="2.5" ry="2.15"/><ellipse cx="684.9" cy="93.5" rx="2.5" ry="2.15"/><ellipse cx="482.8" cy="96.2" rx="2.5" ry="2.15"/><ellipse cx="548.2" cy="67.4" rx="2.5" ry="2.15"/><ellipse cx="533.6" cy="70.4" rx="2.5" ry="2.15"/><ellipse cx="493.5" cy="80.2" rx="2.5" ry="2.15"/><ellipse cx="597.7" cy="92.7" rx="2.5" ry="2.15"/><ellipse cx="538.5" cy="82.3" rx="2.5" ry="2.15"/><ellipse cx="715.5" cy="85.8" rx="2.5" ry="2.15"/><ellipse cx="568.3" cy="84.6" rx="2.5" ry="2.15"/><ellipse cx="647.1" cy="94.2" rx="2.5" ry="2.15"/><ellipse cx="437.2" cy="101.7" rx="2.5" ry="2.15"/><ellipse cx="683.9" cy="82.0" rx="2.5" ry="2.15"/><ellipse cx="609.2" cy="84.2" rx="2.5" ry="2.15"/><ellipse cx="520.0" cy="77.3" rx="2.5" ry="2.15"/><ellipse cx="596.9" cy="93.5" rx="2.5" ry="2.15"/><ellipse cx="432.5" cy="100.0" rx="2.5" ry="2.15"/><ellipse cx="475.8" cy="84.5" rx="2.5" ry="2.15"/><ellipse cx="644.7" cy="109.7" rx="2.5" ry="2.15"/><ellipse cx="570.9" cy="78.6" rx="2.5" ry="2.15"/><ellipse cx="702.0" cy="112.7" rx="2.5" ry="2.15"/><ellipse cx="645.1" cy="85.7" rx="2.5" ry="2.15"/><ellipse cx="714.6" cy="82.7" rx="2.5" ry="2.15"/><ellipse cx="688.1" cy="70.1" rx="2.5" ry="2.15"/><ellipse cx="465.4" cy="72.2" rx="2.5" ry="2.15"/><ellipse cx="686.4" cy="83.2" rx="2.5" ry="2.15"/><ellipse cx="640.4" cy="58.1" rx="2.5" ry="2.15"/><ellipse cx="484.8" cy="88.3" rx="2.5" ry="2.15"/><ellipse cx="472.2" cy="108.8" rx="2.5" ry="2.15"/><ellipse cx="521.8" cy="95.3" rx="2.5" ry="2.15"/><ellipse cx="674.9" cy="96.8" rx="2.5" ry="2.15"/><ellipse cx="547.0" cy="94.2" rx="2.5" ry="2.15"/><ellipse cx="593.4" cy="73.2" rx="2.5" ry="2.15"/><ellipse cx="581.4" cy="73.9" rx="2.5" ry="2.15"/><ellipse cx="620.9" cy="99.4" rx="2.5" ry="2.15"/><ellipse cx="561.1" cy="80.1" rx="2.5" ry="2.15"/><ellipse cx="449.6" cy="111.2" rx="2.5" ry="2.15"/><ellipse cx="721.2" cy="81.3" rx="2.5" ry="2.15"/><ellipse cx="603.0" cy="93.6" rx="2.5" ry="2.15"/><ellipse cx="439.9" cy="106.3" rx="2.5" ry="2.15"/><ellipse cx="488.6" cy="87.4" rx="2.5" ry="2.15"/><ellipse cx="715.5" cy="130.9" rx="2.5" ry="2.15"/><ellipse cx="720.6" cy="112.8" rx="2.5" ry="2.15"/><ellipse cx="584.6" cy="44.1" rx="2.5" ry="2.15"/><ellipse cx="539.1" cy="125.8" rx="2.5" ry="2.15"/><ellipse cx="562.2" cy="57.3" rx="2.5" ry="2.15"/><ellipse cx="530.8" cy="124.0" rx="2.5" ry="2.15"/><ellipse cx="580.9" cy="67.6" rx="2.5" ry="2.15"/><ellipse cx="618.1" cy="53.4" rx="2.5" ry="2.15"/><ellipse cx="471.8" cy="54.3" rx="2.5" ry="2.15"/><ellipse cx="724.0" cy="95.5" rx="2.5" ry="2.15"/><ellipse cx="494.0" cy="73.0" rx="2.5" ry="2.15"/><ellipse cx="455.7" cy="72.9" rx="2.5" ry="2.15"/><ellipse cx="618.6" cy="104.8" rx="2.5" ry="2.15"/><ellipse cx="538.2" cy="69.4" rx="2.5" ry="2.15"/><ellipse cx="658.2" cy="100.9" rx="2.5" ry="2.15"/><ellipse cx="484.7" cy="108.2" rx="2.5" ry="2.15"/><ellipse cx="596.9" cy="53.7" rx="2.5" ry="2.15"/><ellipse cx="469.2" cy="69.8" rx="2.5" ry="2.15"/><ellipse cx="682.2" cy="98.4" rx="2.5" ry="2.15"/><ellipse cx="502.0" cy="88.4" rx="2.5" ry="2.15"/><ellipse cx="721.7" cy="95.3" rx="2.5" ry="2.15"/><ellipse cx="498.5" cy="57.6" rx="2.5" ry="2.15"/><ellipse cx="608.2" cy="70.9" rx="2.5" ry="2.15"/><ellipse cx="560.6" cy="88.4" rx="2.5" ry="2.15"/><ellipse cx="722.2" cy="97.7" rx="2.5" ry="2.15"/><ellipse cx="539.6" cy="104.6" rx="2.5" ry="2.15"/><ellipse cx="608.8" cy="78.3" rx="2.5" ry="2.15"/><ellipse cx="701.5" cy="80.1" rx="2.5" ry="2.15"/><ellipse cx="459.2" cy="72.5" rx="2.5" ry="2.15"/><ellipse cx="582.2" cy="67.1" rx="2.5" ry="2.15"/><ellipse cx="695.8" cy="60.4" rx="2.5" ry="2.15"/><ellipse cx="512.0" cy="114.2" rx="2.5" ry="2.15"/><ellipse cx="469.6" cy="76.6" rx="2.5" ry="2.15"/><ellipse cx="610.5" cy="73.4" rx="2.5" ry="2.15"/><ellipse cx="680.3" cy="83.6" rx="2.5" ry="2.15"/><ellipse cx="701.1" cy="99.8" rx="2.5" ry="2.15"/><ellipse cx="580.6" cy="82.7" rx="2.5" ry="2.15"/><ellipse cx="491.4" cy="68.6" rx="2.5" ry="2.15"/><ellipse cx="432.8" cy="102.7" rx="2.5" ry="2.15"/><ellipse cx="550.1" cy="87.2" rx="2.5" ry="2.15"/><ellipse cx="472.1" cy="84.8" rx="2.5" ry="2.15"/><ellipse cx="611.8" cy="84.2" rx="2.5" ry="2.15"/><ellipse cx="642.3" cy="109.0" rx="2.5" ry="2.15"/><ellipse cx="639.8" cy="101.0" rx="2.5" ry="2.15"/><ellipse cx="494.8" cy="86.8" rx="2.5" ry="2.15"/><ellipse cx="730.7" cy="103.4" rx="2.5" ry="2.15"/><ellipse cx="668.9" cy="59.9" rx="2.5" ry="2.15"/><ellipse cx="627.8" cy="98.7" rx="2.5" ry="2.15"/><ellipse cx="676.9" cy="80.2" rx="2.5" ry="2.15"/><ellipse cx="720.0" cy="78.6" rx="2.5" ry="2.15"/><ellipse cx="538.1" cy="80.8" rx="2.5" ry="2.15"/><ellipse cx="672.4" cy="139.3" rx="2.5" ry="2.15"/><ellipse cx="560.7" cy="79.2" rx="2.5" ry="2.15"/><ellipse cx="554.5" cy="78.3" rx="2.5" ry="2.15"/><ellipse cx="731.2" cy="101.4" rx="2.5" ry="2.15"/><ellipse cx="476.4" cy="56.7" rx="2.5" ry="2.15"/><ellipse cx="585.2" cy="74.6" rx="2.5" ry="2.15"/><ellipse cx="676.2" cy="109.7" rx="2.5" ry="2.15"/><ellipse cx="628.6" cy="72.4" rx="2.5" ry="2.15"/><ellipse cx="552.9" cy="91.7" rx="2.5" ry="2.15"/><ellipse cx="669.8" cy="74.0" rx="2.5" ry="2.15"/><ellipse cx="505.3" cy="64.6" rx="2.5" ry="2.15"/><ellipse cx="590.5" cy="95.0" rx="2.5" ry="2.15"/><ellipse cx="587.2" cy="82.4" rx="2.5" ry="2.15"/><ellipse cx="480.8" cy="106.5" rx="2.5" ry="2.15"/><ellipse cx="488.2" cy="91.1" rx="2.5" ry="2.15"/><ellipse cx="693.9" cy="64.9" rx="2.5" ry="2.15"/><ellipse cx="466.7" cy="103.5" rx="2.5" ry="2.15"/><ellipse cx="728.6" cy="94.4" rx="2.5" ry="2.15"/><ellipse cx="535.5" cy="91.8" rx="2.5" ry="2.15"/><ellipse cx="726.6" cy="82.1" rx="2.5" ry="2.15"/><ellipse cx="651.5" cy="75.7" rx="2.5" ry="2.15"/><ellipse cx="582.9" cy="103.9" rx="2.5" ry="2.15"/><ellipse cx="699.3" cy="104.1" rx="2.5" ry="2.15"/><ellipse cx="466.4" cy="91.2" rx="2.5" ry="2.15"/><ellipse cx="604.0" cy="74.6" rx="2.5" ry="2.15"/><ellipse cx="654.9" cy="126.7" rx="2.5" ry="2.15"/><ellipse cx="654.7" cy="72.6" rx="2.5" ry="2.15"/><ellipse cx="526.9" cy="75.2" rx="2.5" ry="2.15"/><ellipse cx="450.5" cy="120.9" rx="2.5" ry="2.15"/><ellipse cx="722.9" cy="98.5" rx="2.5" ry="2.15"/><ellipse cx="711.1" cy="104.8" rx="2.5" ry="2.15"/><ellipse cx="529.2" cy="98.0" rx="2.5" ry="2.15"/><ellipse cx="687.3" cy="126.4" rx="2.5" ry="2.15"/><ellipse cx="478.0" cy="95.5" rx="2.5" ry="2.15"/><ellipse cx="518.8" cy="100.7" rx="2.5" ry="2.15"/><ellipse cx="730.0" cy="75.1" rx="2.5" ry="2.15"/><ellipse cx="466.1" cy="89.4" rx="2.5" ry="2.15"/><ellipse cx="612.7" cy="48.0" rx="2.5" ry="2.15"/><ellipse cx="656.6" cy="84.7" rx="2.5" ry="2.15"/><ellipse cx="679.7" cy="94.1" rx="2.5" ry="2.15"/><ellipse cx="715.7" cy="101.2" rx="2.5" ry="2.15"/><ellipse cx="454.6" cy="109.1" rx="2.5" ry="2.15"/><ellipse cx="653.1" cy="83.0" rx="2.5" ry="2.15"/><ellipse cx="634.5" cy="73.7" rx="2.5" ry="2.15"/><ellipse cx="587.0" cy="86.4" rx="2.5" ry="2.15"/><ellipse cx="513.4" cy="75.1" rx="2.5" ry="2.15"/><ellipse cx="691.0" cy="119.5" rx="2.5" ry="2.15"/><ellipse cx="542.7" cy="104.7" rx="2.5" ry="2.15"/><ellipse cx="635.2" cy="75.2" rx="2.5" ry="2.15"/><ellipse cx="533.3" cy="89.8" rx="2.5" ry="2.15"/><ellipse cx="567.6" cy="102.2" rx="2.5" ry="2.15"/><ellipse cx="728.5" cy="74.5" rx="2.5" ry="2.15"/><ellipse cx="496.9" cy="81.8" rx="2.5" ry="2.15"/><ellipse cx="688.5" cy="92.4" rx="2.5" ry="2.15"/><ellipse cx="453.2" cy="109.1" rx="2.5" ry="2.15"/><ellipse cx="723.1" cy="100.8" rx="2.5" ry="2.15"/><ellipse cx="625.6" cy="84.5" rx="2.5" ry="2.15"/><ellipse cx="536.8" cy="90.8" rx="2.5" ry="2.15"/><ellipse cx="674.8" cy="95.0" rx="2.5" ry="2.15"/><ellipse cx="659.7" cy="96.7" rx="2.5" ry="2.15"/><ellipse cx="724.5" cy="96.2" rx="2.5" ry="2.15"/><ellipse cx="646.3" cy="95.9" rx="2.5" ry="2.15"/><ellipse cx="668.5" cy="104.4" rx="2.5" ry="2.15"/><ellipse cx="549.7" cy="84.0" rx="2.5" ry="2.15"/><ellipse cx="682.0" cy="89.5" rx="2.5" ry="2.15"/><ellipse cx="667.8" cy="86.5" rx="2.5" ry="2.15"/><ellipse cx="583.0" cy="57.0" rx="2.5" ry="2.15"/><ellipse cx="509.5" cy="80.8" rx="2.5" ry="2.15"/><ellipse cx="729.0" cy="132.0" rx="2.5" ry="2.15"/><ellipse cx="576.4" cy="80.6" rx="2.5" ry="2.15"/><ellipse cx="678.5" cy="101.7" rx="2.5" ry="2.15"/><ellipse cx="452.4" cy="100.5" rx="2.5" ry="2.15"/><ellipse cx="528.8" cy="78.7" rx="2.5" ry="2.15"/><ellipse cx="493.9" cy="83.4" rx="2.5" ry="2.15"/><ellipse cx="658.7" cy="105.6" rx="2.5" ry="2.15"/><ellipse cx="552.0" cy="68.8" rx="2.5" ry="2.15"/><ellipse cx="678.3" cy="115.2" rx="2.5" ry="2.15"/><ellipse cx="539.1" cy="95.2" rx="2.5" ry="2.15"/><ellipse cx="532.1" cy="91.0" rx="2.5" ry="2.15"/><ellipse cx="533.4" cy="89.3" rx="2.5" ry="2.15"/><ellipse cx="508.6" cy="99.3" rx="2.5" ry="2.15"/><ellipse cx="608.7" cy="85.5" rx="2.5" ry="2.15"/><ellipse cx="590.2" cy="43.2" rx="2.5" ry="2.15"/><ellipse cx="708.6" cy="98.0" rx="2.5" ry="2.15"/><ellipse cx="540.6" cy="61.1" rx="2.5" ry="2.15"/><ellipse cx="473.3" cy="80.5" rx="2.5" ry="2.15"/><ellipse cx="698.2" cy="85.1" rx="2.5" ry="2.15"/><ellipse cx="721.9" cy="82.1" rx="2.5" ry="2.15"/><ellipse cx="600.9" cy="57.1" rx="2.5" ry="2.15"/><ellipse cx="454.4" cy="58.1" rx="2.5" ry="2.15"/><ellipse cx="586.8" cy="80.4" rx="2.5" ry="2.15"/><ellipse cx="492.1" cy="89.5" rx="2.5" ry="2.15"/><ellipse cx="539.0" cy="91.6" rx="2.5" ry="2.15"/><ellipse cx="561.7" cy="62.9" rx="2.5" ry="2.15"/><ellipse cx="448.8" cy="82.8" rx="2.5" ry="2.15"/><ellipse cx="588.6" cy="94.1" rx="2.5" ry="2.15"/><ellipse cx="588.9" cy="76.4" rx="2.5" ry="2.15"/><ellipse cx="510.7" cy="79.5" rx="2.5" ry="2.15"/><ellipse cx="463.2" cy="119.5" rx="2.5" ry="2.15"/><ellipse cx="614.5" cy="60.2" rx="2.5" ry="2.15"/><ellipse cx="635.0" cy="77.8" rx="2.5" ry="2.15"/><ellipse cx="729.3" cy="71.5" rx="2.5" ry="2.15"/><ellipse cx="618.7" cy="74.3" rx="2.5" ry="2.15"/><ellipse cx="493.5" cy="138.0" rx="2.5" ry="2.15"/><ellipse cx="492.6" cy="73.3" rx="2.5" ry="2.15"/><ellipse cx="433.4" cy="83.7" rx="2.5" ry="2.15"/><ellipse cx="457.9" cy="79.9" rx="2.5" ry="2.15"/><ellipse cx="680.6" cy="82.4" rx="2.5" ry="2.15"/><ellipse cx="440.1" cy="100.6" rx="2.5" ry="2.15"/><ellipse cx="571.6" cy="75.2" rx="2.5" ry="2.15"/><ellipse cx="491.5" cy="106.1" rx="2.5" ry="2.15"/><ellipse cx="626.3" cy="110.6" rx="2.5" ry="2.15"/><ellipse cx="669.7" cy="87.4" rx="2.5" ry="2.15"/><ellipse cx="601.1" cy="105.7" rx="2.5" ry="2.15"/><ellipse cx="644.0" cy="74.2" rx="2.5" ry="2.15"/><ellipse cx="441.7" cy="93.4" rx="2.5" ry="2.15"/><ellipse cx="459.8" cy="104.8" rx="2.5" ry="2.15"/><ellipse cx="447.3" cy="72.7" rx="2.5" ry="2.15"/><ellipse cx="509.1" cy="88.7" rx="2.5" ry="2.15"/><ellipse cx="435.6" cy="96.1" rx="2.5" ry="2.15"/><ellipse cx="658.0" cy="103.8" rx="2.5" ry="2.15"/><ellipse cx="688.9" cy="99.7" rx="2.5" ry="2.15"/><ellipse cx="662.4" cy="126.0" rx="2.5" ry="2.15"/><ellipse cx="510.5" cy="86.7" rx="2.5" ry="2.15"/><ellipse cx="556.5" cy="102.9" rx="2.5" ry="2.15"/><ellipse cx="628.9" cy="122.8" rx="2.5" ry="2.15"/><ellipse cx="482.4" cy="80.7" rx="2.5" ry="2.15"/><ellipse cx="527.7" cy="81.6" rx="2.5" ry="2.15"/><ellipse cx="641.5" cy="76.6" rx="2.5" ry="2.15"/><ellipse cx="580.5" cy="94.0" rx="2.5" ry="2.15"/><ellipse cx="547.8" cy="107.4" rx="2.5" ry="2.15"/><ellipse cx="498.4" cy="63.4" rx="2.5" ry="2.15"/><ellipse cx="670.6" cy="81.3" rx="2.5" ry="2.15"/><ellipse cx="525.9" cy="78.9" rx="2.5" ry="2.15"/><ellipse cx="557.6" cy="118.7" rx="2.5" ry="2.15"/><ellipse cx="599.3" cy="78.7" rx="2.5" ry="2.15"/><ellipse cx="487.8" cy="96.4" rx="2.5" ry="2.15"/><ellipse cx="704.1" cy="63.6" rx="2.5" ry="2.15"/><ellipse cx="525.9" cy="110.8" rx="2.5" ry="2.15"/><ellipse cx="660.4" cy="79.1" rx="2.5" ry="2.15"/><ellipse cx="626.8" cy="88.7" rx="2.5" ry="2.15"/><ellipse cx="479.1" cy="74.3" rx="2.5" ry="2.15"/><ellipse cx="431.7" cy="87.9" rx="2.5" ry="2.15"/><ellipse cx="570.8" cy="81.1" rx="2.5" ry="2.15"/><ellipse cx="658.1" cy="98.7" rx="2.5" ry="2.15"/><ellipse cx="469.4" cy="93.2" rx="2.5" ry="2.15"/><ellipse cx="673.3" cy="123.7" rx="2.5" ry="2.15"/><ellipse cx="488.6" cy="79.3" rx="2.5" ry="2.15"/><ellipse cx="542.6" cy="106.9" rx="2.5" ry="2.15"/><ellipse cx="466.4" cy="94.7" rx="2.5" ry="2.15"/><ellipse cx="476.8" cy="87.6" rx="2.5" ry="2.15"/><ellipse cx="616.5" cy="92.4" rx="2.5" ry="2.15"/><ellipse cx="654.4" cy="98.9" rx="2.5" ry="2.15"/><ellipse cx="445.2" cy="102.2" rx="2.5" ry="2.15"/><ellipse cx="683.2" cy="107.9" rx="2.5" ry="2.15"/><ellipse cx="596.4" cy="93.8" rx="2.5" ry="2.15"/><ellipse cx="600.0" cy="88.8" rx="2.5" ry="2.15"/><ellipse cx="584.7" cy="59.0" rx="2.5" ry="2.15"/><ellipse cx="467.4" cy="103.2" rx="2.5" ry="2.15"/><ellipse cx="718.5" cy="108.2" rx="2.5" ry="2.15"/><ellipse cx="694.8" cy="100.0" rx="2.5" ry="2.15"/><ellipse cx="463.1" cy="94.5" rx="2.5" ry="2.15"/><ellipse cx="520.5" cy="76.3" rx="2.5" ry="2.15"/><ellipse cx="485.3" cy="95.0" rx="2.5" ry="2.15"/><ellipse cx="560.0" cy="97.8" rx="2.5" ry="2.15"/><ellipse cx="562.6" cy="52.8" rx="2.5" ry="2.15"/><ellipse cx="717.0" cy="84.0" rx="2.5" ry="2.15"/><ellipse cx="632.6" cy="83.0" rx="2.5" ry="2.15"/><ellipse cx="716.3" cy="110.3" rx="2.5" ry="2.15"/><ellipse cx="687.4" cy="88.0" rx="2.5" ry="2.15"/><ellipse cx="479.4" cy="62.4" rx="2.5" ry="2.15"/><ellipse cx="660.4" cy="97.6" rx="2.5" ry="2.15"/><ellipse cx="611.4" cy="106.7" rx="2.5" ry="2.15"/><ellipse cx="472.8" cy="87.4" rx="2.5" ry="2.15"/><ellipse cx="599.7" cy="77.6" rx="2.5" ry="2.15"/><ellipse cx="645.5" cy="96.6" rx="2.5" ry="2.15"/><ellipse cx="474.6" cy="115.9" rx="2.5" ry="2.15"/><ellipse cx="700.6" cy="89.0" rx="2.5" ry="2.15"/><ellipse cx="718.4" cy="86.5" rx="2.5" ry="2.15"/><ellipse cx="732.2" cy="95.6" rx="2.5" ry="2.15"/><ellipse cx="433.8" cy="77.0" rx="2.5" ry="2.15"/><ellipse cx="540.3" cy="60.3" rx="2.5" ry="2.15"/><ellipse cx="481.1" cy="94.4" rx="2.5" ry="2.15"/><ellipse cx="470.2" cy="84.1" rx="2.5" ry="2.15"/><ellipse cx="611.9" cy="91.8" rx="2.5" ry="2.15"/><ellipse cx="566.7" cy="85.4" rx="2.5" ry="2.15"/><ellipse cx="625.6" cy="97.3" rx="2.5" ry="2.15"/><ellipse cx="664.7" cy="78.7" rx="2.5" ry="2.15"/><ellipse cx="556.6" cy="89.2" rx="2.5" ry="2.15"/><ellipse cx="683.0" cy="73.1" rx="2.5" ry="2.15"/><ellipse cx="691.8" cy="99.5" rx="2.5" ry="2.15"/><ellipse cx="732.7" cy="79.1" rx="2.5" ry="2.15"/><ellipse cx="429.7" cy="114.8" rx="2.5" ry="2.15"/><ellipse cx="531.3" cy="73.8" rx="2.5" ry="2.15"/><ellipse cx="716.1" cy="55.9" rx="2.5" ry="2.15"/><ellipse cx="693.1" cy="95.7" rx="2.5" ry="2.15"/><ellipse cx="496.7" cy="79.2" rx="2.5" ry="2.15"/><ellipse cx="687.4" cy="80.2" rx="2.5" ry="2.15"/><ellipse cx="711.3" cy="94.5" rx="2.5" ry="2.15"/><ellipse cx="673.3" cy="120.4" rx="2.5" ry="2.15"/><ellipse cx="465.0" cy="86.5" rx="2.5" ry="2.15"/><ellipse cx="652.6" cy="83.2" rx="2.5" ry="2.15"/><ellipse cx="429.0" cy="110.5" rx="2.5" ry="2.15"/><ellipse cx="604.0" cy="101.7" rx="2.5" ry="2.15"/><ellipse cx="605.4" cy="84.8" rx="2.5" ry="2.15"/><ellipse cx="664.7" cy="86.4" rx="2.5" ry="2.15"/><ellipse cx="520.5" cy="99.1" rx="2.5" ry="2.15"/><ellipse cx="573.9" cy="71.6" rx="2.5" ry="2.15"/><ellipse cx="548.0" cy="74.9" rx="2.5" ry="2.15"/><ellipse cx="457.6" cy="75.7" rx="2.5" ry="2.15"/><ellipse cx="543.2" cy="93.3" rx="2.5" ry="2.15"/><ellipse cx="640.9" cy="114.6" rx="2.5" ry="2.15"/><ellipse cx="637.0" cy="91.7" rx="2.5" ry="2.15"/><ellipse cx="482.0" cy="116.3" rx="2.5" ry="2.15"/><ellipse cx="436.4" cy="57.7" rx="2.5" ry="2.15"/><ellipse cx="695.6" cy="92.2" rx="2.5" ry="2.15"/><ellipse cx="629.1" cy="62.7" rx="2.5" ry="2.15"/><ellipse cx="458.4" cy="101.6" rx="2.5" ry="2.15"/><ellipse cx="608.0" cy="104.1" rx="2.5" ry="2.15"/><ellipse cx="500.0" cy="61.6" rx="2.5" ry="2.15"/><ellipse cx="642.1" cy="79.6" rx="2.5" ry="2.15"/><ellipse cx="688.9" cy="93.9" rx="2.5" ry="2.15"/><ellipse cx="537.7" cy="62.4" rx="2.5" ry="2.15"/><ellipse cx="675.0" cy="80.4" rx="2.5" ry="2.15"/><ellipse cx="441.7" cy="71.6" rx="2.5" ry="2.15"/><ellipse cx="499.0" cy="89.3" rx="2.5" ry="2.15"/><ellipse cx="544.3" cy="64.5" rx="2.5" ry="2.15"/><ellipse cx="570.9" cy="63.3" rx="2.5" ry="2.15"/><ellipse cx="562.9" cy="69.0" rx="2.5" ry="2.15"/><ellipse cx="702.2" cy="88.5" rx="2.5" ry="2.15"/><ellipse cx="507.2" cy="88.0" rx="2.5" ry="2.15"/><ellipse cx="483.3" cy="84.4" rx="2.5" ry="2.15"/><ellipse cx="691.9" cy="109.7" rx="2.5" ry="2.15"/><ellipse cx="607.9" cy="77.1" rx="2.5" ry="2.15"/><ellipse cx="622.2" cy="87.1" rx="2.5" ry="2.15"/><ellipse cx="558.2" cy="94.8" rx="2.5" ry="2.15"/><ellipse cx="605.5" cy="77.0" rx="2.5" ry="2.15"/></g>
<polyline points="428.80,88.18 430.33,88.09 431.86,88.01 433.39,87.94 434.92,87.88 436.45,87.83 437.98,87.79 439.51,87.76 441.04,87.74 442.57,87.73 444.10,87.73 445.63,87.74 447.16,87.76 448.69,87.78 450.22,87.82 451.74,87.86 453.27,87.90 454.80,87.95 456.33,88.01 457.86,88.07 459.39,88.14 460.92,88.20 462.45,88.27 463.98,88.35 465.51,88.42 467.04,88.50 468.57,88.57 470.10,88.65 471.63,88.72 473.16,88.79 474.69,88.86 476.22,88.93 477.75,88.99 479.28,89.05 480.81,89.10 482.34,89.15 483.87,89.19 485.40,89.23 486.93,89.26 488.46,89.28 489.99,89.30 491.52,89.31 493.05,89.31 494.57,89.30 496.10,89.28 497.63,89.25 499.16,89.22 500.69,89.17 502.22,89.12 503.75,89.06 505.28,88.99 506.81,88.91 508.34,88.82 509.87,88.72 511.40,88.61 512.93,88.50 514.46,88.37 515.99,88.24 517.52,88.10 519.05,87.95 520.58,87.80 522.11,87.64 523.64,87.47 525.17,87.29 526.70,87.11 528.23,86.93 529.76,86.74 531.29,86.54 532.82,86.34 534.35,86.14 535.88,85.94 537.41,85.73 538.93,85.53 540.46,85.32 541.99,85.11 543.52,84.91 545.05,84.70 546.58,84.50 548.11,84.30 549.64,84.11 551.17,83.91 552.70,83.73 554.23,83.54 555.76,83.37 557.29,83.20 558.82,83.04 560.35,82.89 561.88,82.74 563.41,82.61 564.94,82.48 566.47,82.37 568.00,82.27 569.53,82.18 571.06,82.10 572.59,82.03 574.12,81.98 575.65,81.94 577.18,81.92 578.71,81.91 580.24,81.91 581.76,81.93 583.29,81.97 584.82,82.02 586.35,82.08 587.88,82.16 589.41,82.26 590.94,82.37 592.47,82.49 594.00,82.64 595.53,82.79 597.06,82.96 598.59,83.15 600.12,83.35 601.65,83.56 603.18,83.79 604.71,84.03 606.24,84.28 607.77,84.55 609.30,84.82 610.83,85.10 612.36,85.40 613.89,85.70 615.42,86.01 616.95,86.32 618.48,86.65 620.01,86.97 621.54,87.31 623.07,87.64 624.59,87.98 626.12,88.31 627.65,88.65 629.18,88.99 630.71,89.32 632.24,89.66 633.77,89.98 635.30,90.31 636.83,90.62 638.36,90.93 639.89,91.24 641.42,91.53 642.95,91.81 644.48,92.09 646.01,92.35 647.54,92.60 649.07,92.83 650.60,93.05 652.13,93.26 653.66,93.46 655.19,93.63 656.72,93.80 658.25,93.94 659.78,94.07 661.31,94.18 662.84,94.28 664.37,94.36 665.90,94.42 667.43,94.46 668.95,94.49 670.48,94.50 672.01,94.50 673.54,94.47 675.07,94.43 676.60,94.38 678.13,94.31 679.66,94.23 681.19,94.13 682.72,94.02 684.25,93.89 685.78,93.75 687.31,93.61 688.84,93.45 690.37,93.28 691.90,93.10 693.43,92.92 694.96,92.72 696.49,92.52 698.02,92.32 699.55,92.11 701.08,91.90 702.61,91.69 704.14,91.47 705.67,91.26 707.20,91.04 708.73,90.83 710.26,90.62 711.78,90.41 713.31,90.20 714.84,90.00 716.37,89.81 717.90,89.62 719.43,89.44 720.96,89.26 722.49,89.09 724.02,88.94 725.55,88.79 727.08,88.64 728.61,88.51 730.14,88.39 731.67,88.28 733.20,88.18" class="fit"/>
</g>
<rect x="428.5" y="19.5" width="305.0" height="139.0" class="ax"/>
<path d="M428.80,158.5v-3.5M428.80,19.5v3.5M489.68,158.5v-3.5M489.68,19.5v3.5M550.56,158.5v-3.5M550.56,19.5v3.5M611.44,158.5v-3.5M611.44,19.5v3.5M672.32,158.5v-3.5M672.32,19.5v3.5M733.20,158.5v-3.5M733.20,19.5v3.5M428.5,133.60h3.5M733.5,133.60h-3.5M428.5,89.00h3.5M733.5,89.00h-3.5M428.5,44.40h3.5M733.5,44.40h-3.5M440.98,158.5v-2.2M440.98,19.5v2.2M453.15,158.5v-2.2M453.15,19.5v2.2M465.33,158.5v-2.2M465.33,19.5v2.2M477.50,158.5v-2.2M477.50,19.5v2.2M501.86,158.5v-2.2M501.86,19.5v2.2M514.03,158.5v-2.2M514.03,19.5v2.2M526.21,158.5v-2.2M526.21,19.5v2.2M538.38,158.5v-2.2M538.38,19.5v2.2M562.74,158.5v-2.2M562.74,19.5v2.2M574.91,158.5v-2.2M574.91,19.5v2.2M587.09,158.5v-2.2M587.09,19.5v2.2M599.26,158.5v-2.2M599.26,19.5v2.2M623.62,158.5v-2.2M623.62,19.5v2.2M635.79,158.5v-2.2M635.79,19.5v2.2M647.97,158.5v-2.2M647.97,19.5v2.2M660.14,158.5v-2.2M660.14,19.5v2.2M684.50,158.5v-2.2M684.50,19.5v2.2M696.67,158.5v-2.2M696.67,19.5v2.2M708.85,158.5v-2.2M708.85,19.5v2.2M721.02,158.5v-2.2M721.02,19.5v2.2M428.5,151.44h2.2M733.5,151.44h-2.2M428.5,142.52h2.2M733.5,142.52h-2.2M428.5,124.68h2.2M733.5,124.68h-2.2M428.5,115.76h2.2M733.5,115.76h-2.2M428.5,106.84h2.2M733.5,106.84h-2.2M428.5,97.92h2.2M733.5,97.92h-2.2M428.5,80.08h2.2M733.5,80.08h-2.2M428.5,71.16h2.2M733.5,71.16h-2.2M428.5,62.24h2.2M733.5,62.24h-2.2M428.5,53.32h2.2M733.5,53.32h-2.2M428.5,35.48h2.2M733.5,35.48h-2.2M428.5,26.56h2.2M733.5,26.56h-2.2" class="tk"/>
<text transform="translate(396.29,138.77) scale(1.125,1)" font-size="12.70">−0.5</text>
<text transform="translate(416.51,94.17) scale(1.125,1)" font-size="12.70">0</text>
<text transform="translate(404.61,49.57) scale(1.125,1)" font-size="12.70">0.5</text>
<line x1="489.68" y1="179.5" x2="489.68" y2="318.5" class="gv"/>
<line x1="550.56" y1="179.5" x2="550.56" y2="318.5" class="gv"/>
<line x1="611.44" y1="179.5" x2="611.44" y2="318.5" class="gv"/>
<line x1="672.32" y1="179.5" x2="672.32" y2="318.5" class="gv"/>
<line x1="428.5" y1="308.10" x2="733.5" y2="308.10" class="gh"/>
<line x1="428.5" y1="278.75" x2="733.5" y2="278.75" class="gh"/>
<line x1="428.5" y1="249.40" x2="733.5" y2="249.40" class="gh"/>
<line x1="428.5" y1="220.05" x2="733.5" y2="220.05" class="gh"/>
<line x1="428.5" y1="190.70" x2="733.5" y2="190.70" class="gh"/>
<text transform="translate(440.43,198.20) scale(1.169,1)" font-size="12.11">KOI 203.01</text>
<text transform="translate(626.21,198.00) scale(1.189,1)" font-size="12.14">Kepler17b</text>
<text transform="translate(559.41,295.70) scale(1.160,1)" font-size="12.41">P = 6.018 d</text>
<text transform="translate(559.76,309.60) scale(1.142,1)" font-size="12.69">A = 0.21 min</text>
<clipPath id="rc1"><rect x="428.5" y="179.5" width="305.0" height="139.0"/></clipPath><g clip-path="url(#rc1)">
<path d="M673.8,243.8V263.7M674.7,255.0V277.1M585.7,260.2V274.9M515.8,236.7V257.5M445.2,246.0V262.9M545.5,256.0V283.8M553.1,249.4V268.3M442.6,236.2V252.5M443.6,246.8V267.1M732.9,233.0V251.3M627.4,250.2V274.6M500.2,235.0V258.0M561.2,223.5V245.8M725.3,247.6V271.4M702.1,243.3V266.8M685.8,255.4V277.3M548.2,222.6V237.9M578.9,260.6V275.2M634.8,259.7V286.4M447.3,233.7V251.3M597.9,237.9V265.4M511.4,237.6V256.5M696.6,246.6V261.7M448.3,256.4V278.4M635.5,236.7V255.2M693.7,228.7V247.4M498.0,228.6V252.4M701.4,268.7V293.8M694.3,241.2V256.6M434.4,220.2V248.2M644.2,229.6V257.0M429.2,243.9V259.5M582.0,259.2V278.2M561.7,228.4V250.5M490.7,239.0V256.2M527.7,237.4V263.2M674.2,253.4V272.5M525.1,239.5V258.6M474.2,260.7V279.3M641.4,257.0V275.5M565.3,232.6V250.2M672.0,283.0V299.9M500.5,211.5V239.5M526.1,220.3V235.5M672.3,262.6V279.9M583.2,244.6V264.0M582.9,237.8V258.1M500.7,236.6V259.7M433.2,250.8V266.3M712.9,233.5V257.8M454.9,226.0V248.2M686.0,228.3V251.5M540.8,227.5V244.0M718.3,231.2V247.6M550.4,252.8V278.4M713.9,246.1V265.2M598.1,248.7V272.4M501.9,219.1V245.7M654.5,260.6V282.9M634.1,224.2V241.9M637.1,249.7V275.8M570.0,253.0V268.1M496.3,227.5V245.6M623.9,226.9V252.9M461.4,239.8V266.6M639.5,237.7V253.5M622.2,233.9V249.4M543.4,240.4V255.6M671.9,228.1V251.5M487.9,234.2V251.2M547.7,267.7V288.3M671.7,238.1V261.2M544.6,248.4V274.7M645.9,230.0V251.8M615.3,247.2V263.2M715.2,233.7V261.0M730.7,233.4V260.1M649.1,257.9V276.6M675.0,278.7V295.2M475.3,232.8V253.2M645.8,264.8V285.4M686.8,250.6V269.1M550.9,250.5V268.6M597.2,234.7V256.5M574.8,226.7V254.2M720.6,236.2V258.9M525.4,224.4V246.4M551.2,235.3V262.2M429.1,220.2V246.8M556.7,239.0V260.2M621.0,244.3V269.7M713.4,268.8V286.8M710.0,264.2V289.6M528.4,246.1V271.6M729.8,226.9V248.6M485.9,242.6V264.3M679.4,256.2V278.4M476.7,228.0V255.9M552.1,224.1V249.2M451.2,211.4V229.4M690.0,241.8V266.0M681.1,270.0V296.4M471.4,232.3V251.7M589.3,243.6V271.1M507.4,240.4V260.8M578.5,247.4V268.6M597.2,252.1V275.2M461.1,208.7V224.4M691.9,240.3V261.6M513.6,241.4V261.0M564.9,234.9V262.5M446.2,254.7V274.4M429.6,232.5V254.3M488.2,247.6V268.7M532.8,265.9V280.1M711.3,237.8V254.7M699.6,240.2V267.5M575.1,238.8V254.4M567.2,258.4V278.3M631.8,213.7V235.3M690.2,226.0V240.8M531.5,229.3V256.9M670.4,264.8V288.8M550.3,244.4V270.8M609.6,231.4V252.3M653.3,266.1V293.8M581.4,244.0V262.2M639.1,237.5V256.6M641.1,255.1V272.8M430.5,256.4V279.4M440.7,234.4V258.7M474.2,210.1V236.3M493.8,228.3V245.9M490.7,232.7V260.1M443.7,251.1V271.2M494.9,222.5V238.7M611.7,247.4V268.2M698.5,228.9V244.3M535.2,238.3V259.7M540.3,221.9V236.1M555.7,230.3V255.6M635.9,220.9V247.0M667.8,235.2V249.5M715.2,215.9V241.1M543.2,207.2V232.8M643.9,261.5V287.0M532.8,264.9V286.1M679.6,250.0V275.6M499.0,226.2V254.1M693.9,261.9V289.7M582.6,238.9V256.4M649.6,259.5V274.8M591.7,256.3V281.6M525.0,244.1V261.4M579.3,261.8V284.2M444.2,234.7V254.8M441.9,235.2V256.1M590.1,241.2V267.4M574.1,217.1V232.7M682.4,228.3V252.1M434.9,247.0V272.9M598.3,217.3V238.7M578.1,255.0V280.9M610.8,247.9V268.5M650.9,266.9V281.4M588.5,256.1V270.9M600.2,254.7V269.4M578.5,269.6V284.3M616.1,241.6V265.7M504.3,237.0V251.7M597.0,255.7V283.3M633.5,238.5V254.7M487.0,250.9V272.8M730.3,250.1V269.8M656.0,239.6V260.1M719.6,225.8V239.9M518.3,206.8V228.0M563.8,265.8V289.8M508.4,214.4V234.4M443.0,220.5V240.2M433.9,251.0V271.9M503.9,244.7V260.5M691.0,250.4V265.7M478.6,233.7V259.4M638.7,240.4V260.1M504.7,218.8V245.8M448.8,223.0V249.8M487.4,245.2V262.5M635.2,264.0V279.4M581.5,256.3V281.4M595.9,242.0V262.4M566.7,210.6V225.2M512.3,241.8V265.0M577.5,240.8V257.5M709.6,201.9V224.9M490.1,264.4V291.1M651.8,247.4V272.6M505.2,231.8V257.9M487.7,240.9V255.1M527.4,236.6V261.4M457.0,239.3V260.4M713.5,241.6V265.7M539.9,237.5V260.0M482.3,239.9V267.2M428.8,247.4V261.6M447.2,270.6V294.3M494.1,234.3V260.6M555.9,232.2V252.8M611.9,232.6V258.7M727.4,241.9V269.9M699.9,241.9V269.8M502.5,236.7V262.1M615.0,238.0V265.7M709.3,241.9V258.5M459.7,254.0V275.4M688.8,263.9V286.6M549.4,244.9V264.3M666.7,244.5V266.1M527.0,222.4V239.1M619.3,230.0V246.6M583.1,240.1V267.5M460.6,233.9V248.7M660.1,243.8V267.5M679.3,218.7V243.1M575.8,237.7V261.5M546.9,191.5V217.1M717.2,225.1V243.1M542.7,216.8V244.5M696.6,250.9V274.4M556.2,227.4V254.2M542.5,221.7V247.8M538.8,239.2V264.9M447.1,235.5V254.5M513.2,249.4V269.2M498.7,242.6V263.1M447.8,241.0V263.0M593.7,239.0V259.9M563.4,251.3V267.6M436.4,228.0V246.5M476.3,214.6V230.5M708.5,251.7V278.7M469.5,230.8V245.3M542.4,240.7V257.5M718.2,248.0V271.4M463.3,246.4V273.7M553.6,199.5V213.9M672.7,229.4V251.6M434.6,254.1V277.3M449.4,212.3V230.8M711.9,248.1V268.5M637.1,242.0V258.3M508.3,218.4V245.9M575.0,238.1V259.0M504.6,207.2V233.4M700.5,249.3V268.3M717.9,257.9V277.3M450.4,214.4V236.4M588.3,230.5V252.8M484.8,253.0V270.6M551.9,244.4V263.6M654.4,243.3V259.4M645.9,262.7V290.6M486.6,207.7V232.1M529.9,235.3V250.0M558.3,237.7V263.2M546.4,231.1V255.9M636.4,257.4V276.4M668.8,219.7V243.2M530.9,235.7V259.1M563.1,225.5V250.6M449.3,261.5V286.7M540.5,250.1V275.5M717.1,229.6V249.9M581.7,226.6V243.0M598.4,240.5V262.4M613.3,231.5V250.3M601.4,236.8V251.3M673.7,253.4V270.0M507.8,229.8V246.7M525.2,276.9V299.9M698.7,240.1V267.9M581.0,226.7V250.3M721.0,221.1V246.5M471.1,229.4V244.6M667.2,268.6V294.3M572.8,251.0V265.3M573.0,262.1V279.8M697.0,261.2V283.4M468.6,243.2V262.4M585.4,226.1V243.4M504.8,229.8V255.2M533.2,240.4V255.3M677.6,223.2V239.0M550.0,245.7V260.6M667.6,233.0V248.2M432.9,238.5V254.8M733.0,228.7V253.2M719.6,246.6V270.7M635.3,281.6V305.3M488.7,216.3V237.5M628.7,246.2V262.7M486.7,266.5V281.6M542.5,221.8V246.7M439.4,230.1V257.7M450.2,231.0V258.1M476.8,238.4V259.6M484.2,208.3V233.2M684.0,249.2V269.1M503.1,246.2V260.8M680.1,284.8V299.5M430.7,238.7V254.3M446.4,225.0V251.3M447.3,234.9V261.9M712.4,249.3V275.4M677.6,251.9V274.5M433.5,273.2V295.4M712.4,238.5V263.2M497.8,234.4V253.2M509.3,227.8V255.4M606.7,247.6V262.3M491.1,212.6V240.1M725.6,273.3V298.0M540.3,228.9V253.2M602.6,234.5V257.6M603.1,264.5V289.2M514.5,236.0V255.8M652.4,240.8V259.4M730.8,263.0V283.2M610.1,245.4V266.8M454.3,247.4V272.1M674.8,238.6V256.4M631.8,220.3V238.9M577.9,245.1V261.9M628.0,262.0V289.9M508.4,226.2V251.2M521.3,239.2V264.1M585.7,248.5V275.7M449.6,239.8V261.1M607.8,244.8V265.9M484.3,246.3V265.9M506.1,238.6V258.4M702.7,236.7V253.8M607.8,260.8V276.9M503.0,246.0V267.9M641.6,247.9V275.4M732.2,250.9V268.5M702.0,203.5V226.1M672.0,247.9V272.3M530.0,240.1V255.6M606.3,217.1V231.8M606.9,272.5V294.9M455.7,238.0V264.7M639.7,240.4V259.1M587.4,238.2V254.7M587.7,244.6V267.1M653.2,248.5V264.3M452.4,200.0V218.8M493.5,228.6V243.6M729.5,248.7V263.6M520.0,243.9V267.0M506.5,250.7V265.7M450.7,221.3V241.3M523.9,228.4V246.9M599.4,248.2V268.6M440.7,228.9V249.1M516.8,235.6V263.4M506.8,223.0V244.2M475.7,242.3V265.4M669.9,243.8V271.1M721.7,247.1V271.6M707.5,242.6V264.1M563.0,229.9V248.0M449.0,206.9V231.7M535.0,235.9V261.6M588.5,232.7V254.2M544.5,214.6V240.0M651.4,241.6V256.5M655.0,257.8V279.4M701.7,259.1V284.5M571.6,255.3V269.4M501.4,254.9V276.3M706.2,240.1V255.6M698.0,240.6V263.8M467.4,221.6V242.8M493.2,226.0V242.7M629.7,271.0V288.0M678.6,251.5V274.0M721.1,250.1V271.5M435.2,277.6V296.3M486.4,281.0V301.6M557.6,228.2V247.3M596.5,259.4V275.8M665.8,234.5V257.9M598.3,256.1V279.7M586.7,212.7V237.7M501.6,218.8V245.8M626.7,229.2V256.0M606.1,272.4V294.4M716.7,213.2V239.1M486.6,252.6V271.2M466.8,248.1V275.9M536.4,237.8V263.0M527.9,248.6V271.5M566.7,280.1V297.6M481.0,235.6V263.3M644.0,245.5V260.7M679.2,264.8V287.9M430.7,259.4V278.2M705.9,227.3V246.1M456.4,244.7V259.7M522.0,238.0V265.1M576.8,225.6V244.7M557.9,229.0V244.1M494.3,225.7V246.5M650.8,229.2V250.3M684.2,254.4V272.8M498.1,237.9V262.6M479.0,205.2V221.1M586.8,237.5V255.1M474.0,239.0V257.2M714.8,208.1V234.3M687.9,241.1V261.8M682.9,249.7V270.9M554.1,212.1V237.9M668.3,243.7V261.2M548.0,204.7V224.5M568.2,252.8V271.0M461.1,223.4V247.5M440.2,216.1V237.5M632.9,215.0V242.7M487.6,195.9V217.8M719.9,257.1V282.5M600.8,233.2V248.2M604.3,231.8V258.0M701.1,233.9V261.2M519.4,211.3V237.0M432.1,259.7V273.9M495.7,199.9V216.2M568.2,256.1V270.7M475.0,224.9V242.5M514.3,237.6V255.1M653.3,248.2V273.1M543.5,251.1V269.8M532.8,220.4V237.5M499.9,244.6V263.0M590.6,242.6V259.4M731.8,232.9V260.2M480.3,228.7V252.0M685.6,273.5V288.6M664.7,252.4V273.7M611.7,263.2V281.2M594.1,255.1V275.8M587.1,211.1V233.3M460.1,236.0V251.8M602.0,255.5V279.3M729.9,227.1V244.3M650.7,220.5V241.9M570.8,204.5V228.1M563.6,266.0V291.7M693.6,231.0V249.2M430.7,240.2V261.3M489.7,221.0V235.9M720.3,248.4V264.4M627.7,269.8V288.4M680.7,224.0V243.1M591.3,241.5V259.7M441.3,228.5V242.8M592.0,213.0V234.6M620.5,230.0V251.7M455.7,237.0V255.5M575.1,256.1V281.1M715.8,256.7V282.8M447.7,232.2V260.0M442.8,210.7V234.0M460.2,245.0V265.2M636.4,247.2V263.3M700.6,241.1V264.1M476.4,217.3V237.8M685.9,244.3V260.1M496.4,259.8V287.4M592.6,278.1V296.0M661.3,263.4V286.5M464.6,242.6V267.4M574.1,233.9V255.1M692.6,242.0V265.8M536.9,235.8V263.4M671.5,249.2V273.8M567.1,237.6V251.7M715.9,222.8V237.8M550.7,251.5V278.8M679.2,241.2V258.1M451.8,250.3V266.8M532.0,234.9V253.8M473.1,242.3V267.2M551.7,245.7V266.9M552.2,250.6V268.8M502.0,246.3V263.7M556.4,226.6V243.4M636.3,224.6V246.0M604.6,243.4V260.8M502.9,258.8V279.9M645.3,227.7V244.7M644.6,228.7V255.5M557.2,255.9V273.2M568.6,215.9V238.3M481.5,226.3V245.7M682.9,240.4V257.4M537.4,226.2V248.5M518.0,226.9V245.5M711.5,253.7V281.2M521.8,235.6V262.6M489.1,233.6V260.6M545.2,211.5V235.6M585.8,249.6V276.5M615.7,245.1V267.3M550.1,242.5V259.1M637.1,259.2V276.1M435.8,246.7V263.6M710.8,243.8V258.5M569.2,250.4V269.5M565.4,228.6V250.0M564.8,226.3V246.4M512.8,217.6V233.2M676.8,257.0V282.5M566.7,226.4V254.0M457.9,237.9V261.7M535.4,256.5V270.8M576.4,267.2V287.5M538.2,230.8V253.7M460.0,239.9V255.9M699.4,242.1V266.9M474.8,215.7V235.1M650.7,238.7V259.4M558.0,282.4V298.7M579.6,239.7V260.2M634.9,273.2V289.8M434.0,247.4V271.2M577.8,266.6V286.8M568.6,256.6V282.7M559.4,244.7V260.7M429.2,218.5V242.2M432.2,262.3V276.6M577.9,252.6V269.8M567.5,249.2V265.1M530.7,251.7V267.8M464.2,221.4V245.5M539.6,241.6V257.6M633.6,247.9V262.6M678.3,222.0V244.8M661.5,229.5V247.4M429.3,239.1V254.3M531.9,203.0V225.4M577.7,250.2V272.9M676.7,263.6V283.7M600.7,243.7V258.9M672.9,249.2V270.4M638.6,221.4V235.9M450.9,238.8V258.5M727.4,251.4V269.3M598.5,256.9V271.4M612.6,257.2V276.7M507.7,233.3V253.5M703.7,274.1V289.6M732.7,247.7V262.2M533.2,245.3V272.1M577.7,257.4V275.6M448.1,226.7V243.3M661.1,228.7V250.1M624.6,254.0V277.9M499.9,216.3V235.9M681.4,235.3V256.9M595.4,255.5V277.4M711.6,227.2V243.2M678.5,228.1V253.3M459.4,214.2V239.8M501.0,219.7V238.7M687.1,268.0V296.0M438.4,250.0V270.4M468.5,248.2V269.7M708.7,212.2V234.0M675.6,212.3V227.4M506.4,220.4V235.3M531.9,249.1V275.3M440.4,251.9V276.9M467.4,207.8V223.3M432.2,210.3V234.0M607.5,253.6V271.3M614.7,249.3V264.9M472.6,237.3V264.5M682.5,255.1V273.8M577.2,227.5V243.4M611.3,241.9V267.9M630.4,243.5V257.5M491.3,255.2V269.3M673.4,240.5V261.0M553.9,209.9V231.3M580.4,258.8V279.5M467.2,261.5V281.1M506.4,249.2V268.8M567.4,232.9V256.5M649.3,233.8V249.5M568.1,251.7V277.1M599.4,236.9V251.3M659.2,256.1V270.7M551.4,252.6V267.0M433.6,234.4V256.8M599.7,211.4V233.3M716.2,246.0V269.5M440.3,222.4V241.5M569.7,217.8V235.3M628.0,246.6V260.6M577.7,241.6V262.7M460.3,234.8V252.3M585.2,250.4V269.7M453.1,204.4V230.1M450.2,247.3V261.3M531.7,258.5V282.4M482.8,235.3V250.1M582.3,229.3V247.4M716.3,234.9V260.6M494.3,249.6V274.5M729.8,238.1V253.5M535.1,223.0V247.1M683.2,222.3V236.5M587.9,261.2V282.3M666.4,268.2V285.0M692.2,244.1V263.2M685.1,276.9V292.9M473.7,229.9V246.9M700.1,251.7V274.9M465.3,214.4V236.2M652.3,233.2V248.5M442.7,237.2V255.8M520.2,241.9V263.4M469.0,247.2V270.6M618.0,227.1V253.7M524.7,230.5V245.8M601.2,241.9V256.8M495.3,232.3V247.8M550.3,235.1V253.7M703.2,251.9V276.8M610.7,259.1V281.3M577.0,211.2V234.9M649.8,263.4V287.0M730.9,241.0V261.6M530.4,243.0V259.8M462.2,241.8V258.2M502.1,247.6V269.0M476.4,241.5V267.7M552.2,213.1V238.7M654.7,256.2V281.2M662.1,229.9V248.7M461.7,239.9V261.7M478.1,234.2V260.9M538.4,213.9V235.5M685.8,247.3V262.1M576.1,232.9V260.4M592.9,231.6V251.9M517.4,263.5V287.5M596.2,246.5V262.1M613.0,234.2V255.1M531.2,259.4V285.5M611.9,243.6V262.2M658.4,240.2V267.9M536.6,210.0V225.5M567.6,254.7V273.2M468.5,245.9V273.2M507.8,279.2V300.7M441.2,223.6V240.7M445.9,249.5V274.3M454.4,253.5V279.3M702.0,252.6V274.0M651.7,245.3V266.8M607.0,218.6V238.6M671.8,249.0V267.8M482.4,222.1V240.4M535.9,211.7V231.5M605.9,253.3V270.0M689.1,244.8V260.0M593.3,236.2V260.3M467.0,266.3V281.6M442.3,225.4V252.7M439.5,205.7V227.6M659.0,210.6V236.0M701.0,252.9V268.0M473.0,231.8V250.9M675.3,232.3V256.1M441.5,206.8V224.6M683.0,231.6V253.4M642.6,216.0V241.9M572.9,235.9V261.0M574.1,226.6V248.4M495.6,221.2V241.6M712.1,241.6V259.2M511.6,220.2V246.5M509.4,240.0V259.1M663.6,233.0V257.7M604.4,221.1V247.2M586.1,270.0V288.4M602.6,245.3V265.0M462.4,216.1V241.5M462.0,233.4V250.7M726.8,228.2V252.7M642.7,234.1V258.6M615.9,279.1V294.2M599.5,234.9V256.5M500.3,241.3V256.3M476.5,219.4V243.6M606.6,232.9V250.0M431.9,211.4V238.4M437.2,228.0V246.8M533.3,232.8V248.0M607.1,236.8V252.8M711.8,241.4V261.9M566.6,241.1V260.3M521.9,243.1V267.3M719.4,231.4V257.7M519.3,255.0V274.2M575.3,245.8V271.9M574.2,258.2V282.2M442.2,232.7V257.4M461.0,265.4V280.9M431.3,238.6V259.8M670.5,217.9V244.2M544.4,236.6V257.9M636.0,240.5V264.2M564.6,216.9V238.8M579.6,224.2V247.5M691.8,235.6V253.6M548.9,272.1V290.8M459.8,236.6V262.4M632.4,268.6V294.0M437.8,255.2V282.4M585.7,258.2V275.2M541.0,248.3V270.3M558.6,219.4V234.7M650.4,263.0V285.1M684.2,230.2V249.3M721.8,243.7V268.6M666.2,244.9V263.5M678.3,269.5V287.9M714.0,260.7V276.1M545.9,266.4V283.2M533.3,244.9V263.1M437.2,240.2V254.7M566.9,256.7V278.5M446.0,268.7V294.3M494.0,238.6V265.3M554.4,241.5V257.3M554.1,222.9V238.6M661.6,236.2V253.9M569.9,241.4V256.1M643.9,252.7V278.5M435.7,249.1V264.4M648.3,244.9V264.0M660.6,248.3V267.6M432.6,262.5V278.3M535.6,266.5V281.7M622.5,264.0V279.4M470.7,254.2V279.8M674.2,272.2V296.9M724.9,283.1V301.3M667.3,229.3V245.8M617.4,233.9V258.9M667.3,250.5V268.2M714.5,246.7V266.7M719.6,256.5V283.2M530.0,206.8V233.0M625.8,248.7V264.8M457.5,242.3V256.7M707.4,234.6V249.8M446.5,234.2V254.9M516.3,248.5V271.9M603.3,246.7V272.2M496.7,232.4V253.1M557.0,239.3V265.0M535.6,233.3V257.7M631.7,261.7V275.9M586.4,238.3V259.8M681.4,260.8V278.1M617.9,232.5V259.4M648.3,245.3V265.9M433.7,223.1V240.5M634.5,241.7V263.2M705.9,254.6V274.6M470.2,223.2V237.2M667.2,239.0V262.9M667.7,250.6V264.7M454.2,230.5V251.2M616.0,256.4V275.9M523.6,218.3V238.3M541.4,252.2V268.8M731.4,256.4V280.2M602.5,265.1V288.8M574.0,241.6V257.8M671.5,228.7V246.2M547.8,212.4V238.7M468.2,245.3V264.9M727.2,249.5V273.7M477.9,240.1V263.4M703.1,244.3V271.4M726.1,247.9V271.3M571.5,232.0V258.4M465.4,216.8V230.9M569.0,219.7V239.2M594.2,232.8V248.6M668.3,235.1V250.5M732.9,213.4V238.0M503.3,229.2V248.4M439.2,219.2V245.8M727.6,247.6V270.7M429.5,237.8V257.7M721.8,254.0V269.9M700.6,225.4V242.3M702.6,223.5V250.3M551.3,214.5V236.8M489.8,239.4V258.4M610.8,287.5V310.7M560.5,239.7V266.1M644.8,239.7V260.0M487.2,240.7V255.0M572.0,242.8V257.4M706.8,258.6V274.4M608.1,245.1V261.6M711.3,228.6V249.3M657.2,216.4V241.0M469.7,237.6V263.2M625.2,266.6V290.4M485.0,239.3V254.5M450.6,214.7V237.3M612.5,238.5V256.4M431.5,228.1V254.3M444.8,247.1V274.7M547.7,236.1V259.4M483.9,260.2V284.5M631.1,243.3V261.5M513.4,217.8V243.9M502.4,258.3V285.9M596.7,227.8V247.8M588.5,226.4V254.2M686.2,274.6V296.1M678.6,250.7V268.7M713.1,267.0V288.3M462.6,199.8V218.3M445.9,251.9V278.7M657.6,248.8V264.1M550.7,241.9V258.9M445.0,244.9V263.6M590.2,198.6V224.6M526.4,225.9V241.3" class="eb"/>
<g class="pt"><ellipse cx="673.8" cy="253.8" rx="2.5" ry="2.15"/><ellipse cx="674.7" cy="266.0" rx="2.5" ry="2.15"/><ellipse cx="585.7" cy="267.5" rx="2.5" ry="2.15"/><ellipse cx="515.8" cy="247.1" rx="2.5" ry="2.15"/><ellipse cx="445.2" cy="254.5" rx="2.5" ry="2.15"/><ellipse cx="545.5" cy="269.9" rx="2.5" ry="2.15"/><ellipse cx="553.1" cy="258.9" rx="2.5" ry="2.15"/><ellipse cx="442.6" cy="244.4" rx="2.5" ry="2.15"/><ellipse cx="443.6" cy="257.0" rx="2.5" ry="2.15"/><ellipse cx="732.9" cy="242.2" rx="2.5" ry="2.15"/><ellipse cx="627.4" cy="262.4" rx="2.5" ry="2.15"/><ellipse cx="500.2" cy="246.5" rx="2.5" ry="2.15"/><ellipse cx="561.2" cy="234.6" rx="2.5" ry="2.15"/><ellipse cx="725.3" cy="259.5" rx="2.5" ry="2.15"/><ellipse cx="702.1" cy="255.1" rx="2.5" ry="2.15"/><ellipse cx="685.8" cy="266.4" rx="2.5" ry="2.15"/><ellipse cx="548.2" cy="230.2" rx="2.5" ry="2.15"/><ellipse cx="578.9" cy="267.9" rx="2.5" ry="2.15"/><ellipse cx="634.8" cy="273.1" rx="2.5" ry="2.15"/><ellipse cx="447.3" cy="242.5" rx="2.5" ry="2.15"/><ellipse cx="597.9" cy="251.6" rx="2.5" ry="2.15"/><ellipse cx="511.4" cy="247.0" rx="2.5" ry="2.15"/><ellipse cx="696.6" cy="254.2" rx="2.5" ry="2.15"/><ellipse cx="448.3" cy="267.4" rx="2.5" ry="2.15"/><ellipse cx="635.5" cy="246.0" rx="2.5" ry="2.15"/><ellipse cx="693.7" cy="238.1" rx="2.5" ry="2.15"/><ellipse cx="498.0" cy="240.5" rx="2.5" ry="2.15"/><ellipse cx="701.4" cy="281.3" rx="2.5" ry="2.15"/><ellipse cx="694.3" cy="248.9" rx="2.5" ry="2.15"/><ellipse cx="434.4" cy="234.2" rx="2.5" ry="2.15"/><ellipse cx="644.2" cy="243.3" rx="2.5" ry="2.15"/><ellipse cx="429.2" cy="251.7" rx="2.5" ry="2.15"/><ellipse cx="582.0" cy="268.7" rx="2.5" ry="2.15"/><ellipse cx="561.7" cy="239.5" rx="2.5" ry="2.15"/><ellipse cx="490.7" cy="247.6" rx="2.5" ry="2.15"/><ellipse cx="527.7" cy="250.3" rx="2.5" ry="2.15"/><ellipse cx="674.2" cy="263.0" rx="2.5" ry="2.15"/><ellipse cx="525.1" cy="249.0" rx="2.5" ry="2.15"/><ellipse cx="474.2" cy="270.0" rx="2.5" ry="2.15"/><ellipse cx="641.4" cy="266.2" rx="2.5" ry="2.15"/><ellipse cx="565.3" cy="241.4" rx="2.5" ry="2.15"/><ellipse cx="672.0" cy="291.5" rx="2.5" ry="2.15"/><ellipse cx="500.5" cy="225.5" rx="2.5" ry="2.15"/><ellipse cx="526.1" cy="227.9" rx="2.5" ry="2.15"/><ellipse cx="672.3" cy="271.3" rx="2.5" ry="2.15"/><ellipse cx="583.2" cy="254.3" rx="2.5" ry="2.15"/><ellipse cx="582.9" cy="248.0" rx="2.5" ry="2.15"/><ellipse cx="500.7" cy="248.1" rx="2.5" ry="2.15"/><ellipse cx="433.2" cy="258.5" rx="2.5" ry="2.15"/><ellipse cx="712.9" cy="245.7" rx="2.5" ry="2.15"/><ellipse cx="454.9" cy="237.1" rx="2.5" ry="2.15"/><ellipse cx="686.0" cy="239.9" rx="2.5" ry="2.15"/><ellipse cx="540.8" cy="235.7" rx="2.5" ry="2.15"/><ellipse cx="718.3" cy="239.4" rx="2.5" ry="2.15"/><ellipse cx="550.4" cy="265.6" rx="2.5" ry="2.15"/><ellipse cx="713.9" cy="255.6" rx="2.5" ry="2.15"/><ellipse cx="598.1" cy="260.5" rx="2.5" ry="2.15"/><ellipse cx="501.9" cy="232.4" rx="2.5" ry="2.15"/><ellipse cx="654.5" cy="271.7" rx="2.5" ry="2.15"/><ellipse cx="634.1" cy="233.0" rx="2.5" ry="2.15"/><ellipse cx="637.1" cy="262.7" rx="2.5" ry="2.15"/><ellipse cx="570.0" cy="260.5" rx="2.5" ry="2.15"/><ellipse cx="496.3" cy="236.5" rx="2.5" ry="2.15"/><ellipse cx="623.9" cy="239.9" rx="2.5" ry="2.15"/><ellipse cx="461.4" cy="253.2" rx="2.5" ry="2.15"/><ellipse cx="639.5" cy="245.6" rx="2.5" ry="2.15"/><ellipse cx="622.2" cy="241.7" rx="2.5" ry="2.15"/><ellipse cx="543.4" cy="248.0" rx="2.5" ry="2.15"/><ellipse cx="671.9" cy="239.8" rx="2.5" ry="2.15"/><ellipse cx="487.9" cy="242.7" rx="2.5" ry="2.15"/><ellipse cx="547.7" cy="278.0" rx="2.5" ry="2.15"/><ellipse cx="671.7" cy="249.7" rx="2.5" ry="2.15"/><ellipse cx="544.6" cy="261.5" rx="2.5" ry="2.15"/><ellipse cx="645.9" cy="240.9" rx="2.5" ry="2.15"/><ellipse cx="615.3" cy="255.2" rx="2.5" ry="2.15"/><ellipse cx="715.2" cy="247.3" rx="2.5" ry="2.15"/><ellipse cx="730.7" cy="246.8" rx="2.5" ry="2.15"/><ellipse cx="649.1" cy="267.3" rx="2.5" ry="2.15"/><ellipse cx="675.0" cy="287.0" rx="2.5" ry="2.15"/><ellipse cx="475.3" cy="243.0" rx="2.5" ry="2.15"/><ellipse cx="645.8" cy="275.1" rx="2.5" ry="2.15"/><ellipse cx="686.8" cy="259.9" rx="2.5" ry="2.15"/><ellipse cx="550.9" cy="259.5" rx="2.5" ry="2.15"/><ellipse cx="597.2" cy="245.6" rx="2.5" ry="2.15"/><ellipse cx="574.8" cy="240.4" rx="2.5" ry="2.15"/><ellipse cx="720.6" cy="247.6" rx="2.5" ry="2.15"/><ellipse cx="525.4" cy="235.4" rx="2.5" ry="2.15"/><ellipse cx="551.2" cy="248.7" rx="2.5" ry="2.15"/><ellipse cx="429.1" cy="233.5" rx="2.5" ry="2.15"/><ellipse cx="556.7" cy="249.6" rx="2.5" ry="2.15"/><ellipse cx="621.0" cy="257.0" rx="2.5" ry="2.15"/><ellipse cx="713.4" cy="277.8" rx="2.5" ry="2.15"/><ellipse cx="710.0" cy="276.9" rx="2.5" ry="2.15"/><ellipse cx="528.4" cy="258.9" rx="2.5" ry="2.15"/><ellipse cx="729.8" cy="237.8" rx="2.5" ry="2.15"/><ellipse cx="485.9" cy="253.5" rx="2.5" ry="2.15"/><ellipse cx="679.4" cy="267.3" rx="2.5" ry="2.15"/><ellipse cx="476.7" cy="242.0" rx="2.5" ry="2.15"/><ellipse cx="552.1" cy="236.6" rx="2.5" ry="2.15"/><ellipse cx="451.2" cy="220.4" rx="2.5" ry="2.15"/><ellipse cx="690.0" cy="253.9" rx="2.5" ry="2.15"/><ellipse cx="681.1" cy="283.2" rx="2.5" ry="2.15"/><ellipse cx="471.4" cy="242.0" rx="2.5" ry="2.15"/><ellipse cx="589.3" cy="257.4" rx="2.5" ry="2.15"/><ellipse cx="507.4" cy="250.6" rx="2.5" ry="2.15"/><ellipse cx="578.5" cy="258.0" rx="2.5" ry="2.15"/><ellipse cx="597.2" cy="263.6" rx="2.5" ry="2.15"/><ellipse cx="461.1" cy="216.5" rx="2.5" ry="2.15"/><ellipse cx="691.9" cy="251.0" rx="2.5" ry="2.15"/><ellipse cx="513.6" cy="251.2" rx="2.5" ry="2.15"/><ellipse cx="564.9" cy="248.7" rx="2.5" ry="2.15"/><ellipse cx="446.2" cy="264.5" rx="2.5" ry="2.15"/><ellipse cx="429.6" cy="243.4" rx="2.5" ry="2.15"/><ellipse cx="488.2" cy="258.1" rx="2.5" ry="2.15"/><ellipse cx="532.8" cy="273.0" rx="2.5" ry="2.15"/><ellipse cx="711.3" cy="246.2" rx="2.5" ry="2.15"/><ellipse cx="699.6" cy="253.8" rx="2.5" ry="2.15"/><ellipse cx="575.1" cy="246.6" rx="2.5" ry="2.15"/><ellipse cx="567.2" cy="268.4" rx="2.5" ry="2.15"/><ellipse cx="631.8" cy="224.5" rx="2.5" ry="2.15"/><ellipse cx="690.2" cy="233.4" rx="2.5" ry="2.15"/><ellipse cx="531.5" cy="243.1" rx="2.5" ry="2.15"/><ellipse cx="670.4" cy="276.8" rx="2.5" ry="2.15"/><ellipse cx="550.3" cy="257.6" rx="2.5" ry="2.15"/><ellipse cx="609.6" cy="241.8" rx="2.5" ry="2.15"/><ellipse cx="653.3" cy="279.9" rx="2.5" ry="2.15"/><ellipse cx="581.4" cy="253.1" rx="2.5" ry="2.15"/><ellipse cx="639.1" cy="247.1" rx="2.5" ry="2.15"/><ellipse cx="641.1" cy="263.9" rx="2.5" ry="2.15"/><ellipse cx="430.5" cy="267.9" rx="2.5" ry="2.15"/><ellipse cx="440.7" cy="246.6" rx="2.5" ry="2.15"/><ellipse cx="474.2" cy="223.2" rx="2.5" ry="2.15"/><ellipse cx="493.8" cy="237.1" rx="2.5" ry="2.15"/><ellipse cx="490.7" cy="246.4" rx="2.5" ry="2.15"/><ellipse cx="443.7" cy="261.1" rx="2.5" ry="2.15"/><ellipse cx="494.9" cy="230.6" rx="2.5" ry="2.15"/><ellipse cx="611.7" cy="257.8" rx="2.5" ry="2.15"/><ellipse cx="698.5" cy="236.6" rx="2.5" ry="2.15"/><ellipse cx="535.2" cy="249.0" rx="2.5" ry="2.15"/><ellipse cx="540.3" cy="229.0" rx="2.5" ry="2.15"/><ellipse cx="555.7" cy="242.9" rx="2.5" ry="2.15"/><ellipse cx="635.9" cy="233.9" rx="2.5" ry="2.15"/><ellipse cx="667.8" cy="242.4" rx="2.5" ry="2.15"/><ellipse cx="715.2" cy="228.5" rx="2.5" ry="2.15"/><ellipse cx="543.2" cy="220.0" rx="2.5" ry="2.15"/><ellipse cx="643.9" cy="274.3" rx="2.5" ry="2.15"/><ellipse cx="532.8" cy="275.5" rx="2.5" ry="2.15"/><ellipse cx="679.6" cy="262.8" rx="2.5" ry="2.15"/><ellipse cx="499.0" cy="240.2" rx="2.5" ry="2.15"/><ellipse cx="693.9" cy="275.8" rx="2.5" ry="2.15"/><ellipse cx="582.6" cy="247.6" rx="2.5" ry="2.15"/><ellipse cx="649.6" cy="267.1" rx="2.5" ry="2.15"/><ellipse cx="591.7" cy="268.9" rx="2.5" ry="2.15"/><ellipse cx="525.0" cy="252.8" rx="2.5" ry="2.15"/><ellipse cx="579.3" cy="273.0" rx="2.5" ry="2.15"/><ellipse cx="444.2" cy="244.8" rx="2.5" ry="2.15"/><ellipse cx="441.9" cy="245.7" rx="2.5" ry="2.15"/><ellipse cx="590.1" cy="254.3" rx="2.5" ry="2.15"/><ellipse cx="574.1" cy="224.9" rx="2.5" ry="2.15"/><ellipse cx="682.4" cy="240.2" rx="2.5" ry="2.15"/><ellipse cx="434.9" cy="260.0" rx="2.5" ry="2.15"/><ellipse cx="598.3" cy="228.0" rx="2.5" ry="2.15"/><ellipse cx="578.1" cy="268.0" rx="2.5" ry="2.15"/><ellipse cx="610.8" cy="258.2" rx="2.5" ry="2.15"/><ellipse cx="650.9" cy="274.2" rx="2.5" ry="2.15"/><ellipse cx="588.5" cy="263.5" rx="2.5" ry="2.15"/><ellipse cx="600.2" cy="262.0" rx="2.5" ry="2.15"/><ellipse cx="578.5" cy="277.0" rx="2.5" ry="2.15"/><ellipse cx="616.1" cy="253.6" rx="2.5" ry="2.15"/><ellipse cx="504.3" cy="244.4" rx="2.5" ry="2.15"/><ellipse cx="597.0" cy="269.5" rx="2.5" ry="2.15"/><ellipse cx="633.5" cy="246.6" rx="2.5" ry="2.15"/><ellipse cx="487.0" cy="261.9" rx="2.5" ry="2.15"/><ellipse cx="730.3" cy="260.0" rx="2.5" ry="2.15"/><ellipse cx="656.0" cy="249.8" rx="2.5" ry="2.15"/><ellipse cx="719.6" cy="232.9" rx="2.5" ry="2.15"/><ellipse cx="518.3" cy="217.4" rx="2.5" ry="2.15"/><ellipse cx="563.8" cy="277.8" rx="2.5" ry="2.15"/><ellipse cx="508.4" cy="224.4" rx="2.5" ry="2.15"/><ellipse cx="443.0" cy="230.4" rx="2.5" ry="2.15"/><ellipse cx="433.9" cy="261.5" rx="2.5" ry="2.15"/><ellipse cx="503.9" cy="252.6" rx="2.5" ry="2.15"/><ellipse cx="691.0" cy="258.0" rx="2.5" ry="2.15"/><ellipse cx="478.6" cy="246.6" rx="2.5" ry="2.15"/><ellipse cx="638.7" cy="250.2" rx="2.5" ry="2.15"/><ellipse cx="504.7" cy="232.3" rx="2.5" ry="2.15"/><ellipse cx="448.8" cy="236.4" rx="2.5" ry="2.15"/><ellipse cx="487.4" cy="253.8" rx="2.5" ry="2.15"/><ellipse cx="635.2" cy="271.7" rx="2.5" ry="2.15"/><ellipse cx="581.5" cy="268.9" rx="2.5" ry="2.15"/><ellipse cx="595.9" cy="252.2" rx="2.5" ry="2.15"/><ellipse cx="566.7" cy="217.9" rx="2.5" ry="2.15"/><ellipse cx="512.3" cy="253.4" rx="2.5" ry="2.15"/><ellipse cx="577.5" cy="249.2" rx="2.5" ry="2.15"/><ellipse cx="709.6" cy="213.4" rx="2.5" ry="2.15"/><ellipse cx="490.1" cy="277.8" rx="2.5" ry="2.15"/><ellipse cx="651.8" cy="260.0" rx="2.5" ry="2.15"/><ellipse cx="505.2" cy="244.8" rx="2.5" ry="2.15"/><ellipse cx="487.7" cy="248.0" rx="2.5" ry="2.15"/><ellipse cx="527.4" cy="249.0" rx="2.5" ry="2.15"/><ellipse cx="457.0" cy="249.8" rx="2.5" ry="2.15"/><ellipse cx="713.5" cy="253.6" rx="2.5" ry="2.15"/><ellipse cx="539.9" cy="248.8" rx="2.5" ry="2.15"/><ellipse cx="482.3" cy="253.5" rx="2.5" ry="2.15"/><ellipse cx="428.8" cy="254.5" rx="2.5" ry="2.15"/><ellipse cx="447.2" cy="282.4" rx="2.5" ry="2.15"/><ellipse cx="494.1" cy="247.4" rx="2.5" ry="2.15"/><ellipse cx="555.9" cy="242.5" rx="2.5" ry="2.15"/><ellipse cx="611.9" cy="245.7" rx="2.5" ry="2.15"/><ellipse cx="727.4" cy="255.9" rx="2.5" ry="2.15"/><ellipse cx="699.9" cy="255.8" rx="2.5" ry="2.15"/><ellipse cx="502.5" cy="249.4" rx="2.5" ry="2.15"/><ellipse cx="615.0" cy="251.8" rx="2.5" ry="2.15"/><ellipse cx="709.3" cy="250.2" rx="2.5" ry="2.15"/><ellipse cx="459.7" cy="264.7" rx="2.5" ry="2.15"/><ellipse cx="688.8" cy="275.2" rx="2.5" ry="2.15"/><ellipse cx="549.4" cy="254.6" rx="2.5" ry="2.15"/><ellipse cx="666.7" cy="255.3" rx="2.5" ry="2.15"/><ellipse cx="527.0" cy="230.7" rx="2.5" ry="2.15"/><ellipse cx="619.3" cy="238.3" rx="2.5" ry="2.15"/><ellipse cx="583.1" cy="253.8" rx="2.5" ry="2.15"/><ellipse cx="460.6" cy="241.3" rx="2.5" ry="2.15"/><ellipse cx="660.1" cy="255.7" rx="2.5" ry="2.15"/><ellipse cx="679.3" cy="230.9" rx="2.5" ry="2.15"/><ellipse cx="575.8" cy="249.6" rx="2.5" ry="2.15"/><ellipse cx="546.9" cy="204.3" rx="2.5" ry="2.15"/><ellipse cx="717.2" cy="234.1" rx="2.5" ry="2.15"/><ellipse cx="542.7" cy="230.6" rx="2.5" ry="2.15"/><ellipse cx="696.6" cy="262.7" rx="2.5" ry="2.15"/><ellipse cx="556.2" cy="240.8" rx="2.5" ry="2.15"/><ellipse cx="542.5" cy="234.7" rx="2.5" ry="2.15"/><ellipse cx="538.8" cy="252.0" rx="2.5" ry="2.15"/><ellipse cx="447.1" cy="245.0" rx="2.5" ry="2.15"/><ellipse cx="513.2" cy="259.3" rx="2.5" ry="2.15"/><ellipse cx="498.7" cy="252.8" rx="2.5" ry="2.15"/><ellipse cx="447.8" cy="252.0" rx="2.5" ry="2.15"/><ellipse cx="593.7" cy="249.4" rx="2.5" ry="2.15"/><ellipse cx="563.4" cy="259.5" rx="2.5" ry="2.15"/><ellipse cx="436.4" cy="237.3" rx="2.5" ry="2.15"/><ellipse cx="476.3" cy="222.6" rx="2.5" ry="2.15"/><ellipse cx="708.5" cy="265.2" rx="2.5" ry="2.15"/><ellipse cx="469.5" cy="238.1" rx="2.5" ry="2.15"/><ellipse cx="542.4" cy="249.1" rx="2.5" ry="2.15"/><ellipse cx="718.2" cy="259.7" rx="2.5" ry="2.15"/><ellipse cx="463.3" cy="260.0" rx="2.5" ry="2.15"/><ellipse cx="553.6" cy="206.7" rx="2.5" ry="2.15"/><ellipse cx="672.7" cy="240.5" rx="2.5" ry="2.15"/><ellipse cx="434.6" cy="265.7" rx="2.5" ry="2.15"/><ellipse cx="449.4" cy="221.5" rx="2.5" ry="2.15"/><ellipse cx="711.9" cy="258.3" rx="2.5" ry="2.15"/><ellipse cx="637.1" cy="250.2" rx="2.5" ry="2.15"/><ellipse cx="508.3" cy="232.1" rx="2.5" ry="2.15"/><ellipse cx="575.0" cy="248.5" rx="2.5" ry="2.15"/><ellipse cx="504.6" cy="220.3" rx="2.5" ry="2.15"/><ellipse cx="700.5" cy="258.8" rx="2.5" ry="2.15"/><ellipse cx="717.9" cy="267.6" rx="2.5" ry="2.15"/><ellipse cx="450.4" cy="225.4" rx="2.5" ry="2.15"/><ellipse cx="588.3" cy="241.6" rx="2.5" ry="2.15"/><ellipse cx="484.8" cy="261.8" rx="2.5" ry="2.15"/><ellipse cx="551.9" cy="254.0" rx="2.5" ry="2.15"/><ellipse cx="654.4" cy="251.3" rx="2.5" ry="2.15"/><ellipse cx="645.9" cy="276.7" rx="2.5" ry="2.15"/><ellipse cx="486.6" cy="219.9" rx="2.5" ry="2.15"/><ellipse cx="529.9" cy="242.7" rx="2.5" ry="2.15"/><ellipse cx="558.3" cy="250.5" rx="2.5" ry="2.15"/><ellipse cx="546.4" cy="243.5" rx="2.5" ry="2.15"/><ellipse cx="636.4" cy="266.9" rx="2.5" ry="2.15"/><ellipse cx="668.8" cy="231.4" rx="2.5" ry="2.15"/><ellipse cx="530.9" cy="247.4" rx="2.5" ry="2.15"/><ellipse cx="563.1" cy="238.0" rx="2.5" ry="2.15"/><ellipse cx="449.3" cy="274.1" rx="2.5" ry="2.15"/><ellipse cx="540.5" cy="262.8" rx="2.5" ry="2.15"/><ellipse cx="717.1" cy="239.7" rx="2.5" ry="2.15"/><ellipse cx="581.7" cy="234.8" rx="2.5" ry="2.15"/><ellipse cx="598.4" cy="251.5" rx="2.5" ry="2.15"/><ellipse cx="613.3" cy="240.9" rx="2.5" ry="2.15"/><ellipse cx="601.4" cy="244.1" rx="2.5" ry="2.15"/><ellipse cx="673.7" cy="261.7" rx="2.5" ry="2.15"/><ellipse cx="507.8" cy="238.2" rx="2.5" ry="2.15"/><ellipse cx="525.2" cy="288.4" rx="2.5" ry="2.15"/><ellipse cx="698.7" cy="254.0" rx="2.5" ry="2.15"/><ellipse cx="581.0" cy="238.5" rx="2.5" ry="2.15"/><ellipse cx="721.0" cy="233.8" rx="2.5" ry="2.15"/><ellipse cx="471.1" cy="237.0" rx="2.5" ry="2.15"/><ellipse cx="667.2" cy="281.5" rx="2.5" ry="2.15"/><ellipse cx="572.8" cy="258.1" rx="2.5" ry="2.15"/><ellipse cx="573.0" cy="270.9" rx="2.5" ry="2.15"/><ellipse cx="697.0" cy="272.3" rx="2.5" ry="2.15"/><ellipse cx="468.6" cy="252.8" rx="2.5" ry="2.15"/><ellipse cx="585.4" cy="234.8" rx="2.5" ry="2.15"/><ellipse cx="504.8" cy="242.5" rx="2.5" ry="2.15"/><ellipse cx="533.2" cy="247.9" rx="2.5" ry="2.15"/><ellipse cx="677.6" cy="231.1" rx="2.5" ry="2.15"/><ellipse cx="550.0" cy="253.2" rx="2.5" ry="2.15"/><ellipse cx="667.6" cy="240.6" rx="2.5" ry="2.15"/><ellipse cx="432.9" cy="246.7" rx="2.5" ry="2.15"/><ellipse cx="733.0" cy="240.9" rx="2.5" ry="2.15"/><ellipse cx="719.6" cy="258.7" rx="2.5" ry="2.15"/><ellipse cx="635.3" cy="293.5" rx="2.5" ry="2.15"/><ellipse cx="488.7" cy="226.9" rx="2.5" ry="2.15"/><ellipse cx="628.7" cy="254.4" rx="2.5" ry="2.15"/><ellipse cx="486.7" cy="274.0" rx="2.5" ry="2.15"/><ellipse cx="542.5" cy="234.2" rx="2.5" ry="2.15"/><ellipse cx="439.4" cy="243.9" rx="2.5" ry="2.15"/><ellipse cx="450.2" cy="244.5" rx="2.5" ry="2.15"/><ellipse cx="476.8" cy="249.0" rx="2.5" ry="2.15"/><ellipse cx="484.2" cy="220.8" rx="2.5" ry="2.15"/><ellipse cx="684.0" cy="259.2" rx="2.5" ry="2.15"/><ellipse cx="503.1" cy="253.5" rx="2.5" ry="2.15"/><ellipse cx="680.1" cy="292.2" rx="2.5" ry="2.15"/><ellipse cx="430.7" cy="246.5" rx="2.5" ry="2.15"/><ellipse cx="446.4" cy="238.1" rx="2.5" ry="2.15"/><ellipse cx="447.3" cy="248.4" rx="2.5" ry="2.15"/><ellipse cx="712.4" cy="262.3" rx="2.5" ry="2.15"/><ellipse cx="677.6" cy="263.2" rx="2.5" ry="2.15"/><ellipse cx="433.5" cy="284.3" rx="2.5" ry="2.15"/><ellipse cx="712.4" cy="250.8" rx="2.5" ry="2.15"/><ellipse cx="497.8" cy="243.8" rx="2.5" ry="2.15"/><ellipse cx="509.3" cy="241.6" rx="2.5" ry="2.15"/><ellipse cx="606.7" cy="255.0" rx="2.5" ry="2.15"/><ellipse cx="491.1" cy="226.3" rx="2.5" ry="2.15"/><ellipse cx="725.6" cy="285.6" rx="2.5" ry="2.15"/><ellipse cx="540.3" cy="241.0" rx="2.5" ry="2.15"/><ellipse cx="602.6" cy="246.0" rx="2.5" ry="2.15"/><ellipse cx="603.1" cy="276.8" rx="2.5" ry="2.15"/><ellipse cx="514.5" cy="245.9" rx="2.5" ry="2.15"/><ellipse cx="652.4" cy="250.1" rx="2.5" ry="2.15"/><ellipse cx="730.8" cy="273.1" rx="2.5" ry="2.15"/><ellipse cx="610.1" cy="256.1" rx="2.5" ry="2.15"/><ellipse cx="454.3" cy="259.8" rx="2.5" ry="2.15"/><ellipse cx="674.8" cy="247.5" rx="2.5" ry="2.15"/><ellipse cx="631.8" cy="229.6" rx="2.5" ry="2.15"/><ellipse cx="577.9" cy="253.5" rx="2.5" ry="2.15"/><ellipse cx="628.0" cy="275.9" rx="2.5" ry="2.15"/><ellipse cx="508.4" cy="238.7" rx="2.5" ry="2.15"/><ellipse cx="521.3" cy="251.7" rx="2.5" ry="2.15"/><ellipse cx="585.7" cy="262.1" rx="2.5" ry="2.15"/><ellipse cx="449.6" cy="250.5" rx="2.5" ry="2.15"/><ellipse cx="607.8" cy="255.3" rx="2.5" ry="2.15"/><ellipse cx="484.3" cy="256.1" rx="2.5" ry="2.15"/><ellipse cx="506.1" cy="248.5" rx="2.5" ry="2.15"/><ellipse cx="702.7" cy="245.3" rx="2.5" ry="2.15"/><ellipse cx="607.8" cy="268.9" rx="2.5" ry="2.15"/><ellipse cx="503.0" cy="257.0" rx="2.5" ry="2.15"/><ellipse cx="641.6" cy="261.7" rx="2.5" ry="2.15"/><ellipse cx="732.2" cy="259.7" rx="2.5" ry="2.15"/><ellipse cx="702.0" cy="214.8" rx="2.5" ry="2.15"/><ellipse cx="672.0" cy="260.1" rx="2.5" ry="2.15"/><ellipse cx="530.0" cy="247.9" rx="2.5" ry="2.15"/><ellipse cx="606.3" cy="224.5" rx="2.5" ry="2.15"/><ellipse cx="606.9" cy="283.7" rx="2.5" ry="2.15"/><ellipse cx="455.7" cy="251.4" rx="2.5" ry="2.15"/><ellipse cx="639.7" cy="249.7" rx="2.5" ry="2.15"/><ellipse cx="587.4" cy="246.4" rx="2.5" ry="2.15"/><ellipse cx="587.7" cy="255.8" rx="2.5" ry="2.15"/><ellipse cx="653.2" cy="256.4" rx="2.5" ry="2.15"/><ellipse cx="452.4" cy="209.4" rx="2.5" ry="2.15"/><ellipse cx="493.5" cy="236.1" rx="2.5" ry="2.15"/><ellipse cx="729.5" cy="256.2" rx="2.5" ry="2.15"/><ellipse cx="520.0" cy="255.5" rx="2.5" ry="2.15"/><ellipse cx="506.5" cy="258.2" rx="2.5" ry="2.15"/><ellipse cx="450.7" cy="231.3" rx="2.5" ry="2.15"/><ellipse cx="523.9" cy="237.6" rx="2.5" ry="2.15"/><ellipse cx="599.4" cy="258.4" rx="2.5" ry="2.15"/><ellipse cx="440.7" cy="239.0" rx="2.5" ry="2.15"/><ellipse cx="516.8" cy="249.5" rx="2.5" ry="2.15"/><ellipse cx="506.8" cy="233.6" rx="2.5" ry="2.15"/><ellipse cx="475.7" cy="253.8" rx="2.5" ry="2.15"/><ellipse cx="669.9" cy="257.5" rx="2.5" ry="2.15"/><ellipse cx="721.7" cy="259.3" rx="2.5" ry="2.15"/><ellipse cx="707.5" cy="253.3" rx="2.5" ry="2.15"/><ellipse cx="563.0" cy="238.9" rx="2.5" ry="2.15"/><ellipse cx="449.0" cy="219.3" rx="2.5" ry="2.15"/><ellipse cx="535.0" cy="248.7" rx="2.5" ry="2.15"/><ellipse cx="588.5" cy="243.5" rx="2.5" ry="2.15"/><ellipse cx="544.5" cy="227.3" rx="2.5" ry="2.15"/><ellipse cx="651.4" cy="249.0" rx="2.5" ry="2.15"/><ellipse cx="655.0" cy="268.6" rx="2.5" ry="2.15"/><ellipse cx="701.7" cy="271.8" rx="2.5" ry="2.15"/><ellipse cx="571.6" cy="262.3" rx="2.5" ry="2.15"/><ellipse cx="501.4" cy="265.6" rx="2.5" ry="2.15"/><ellipse cx="706.2" cy="247.9" rx="2.5" ry="2.15"/><ellipse cx="698.0" cy="252.2" rx="2.5" ry="2.15"/><ellipse cx="467.4" cy="232.2" rx="2.5" ry="2.15"/><ellipse cx="493.2" cy="234.3" rx="2.5" ry="2.15"/><ellipse cx="629.7" cy="279.5" rx="2.5" ry="2.15"/><ellipse cx="678.6" cy="262.8" rx="2.5" ry="2.15"/><ellipse cx="721.1" cy="260.8" rx="2.5" ry="2.15"/><ellipse cx="435.2" cy="287.0" rx="2.5" ry="2.15"/><ellipse cx="486.4" cy="291.3" rx="2.5" ry="2.15"/><ellipse cx="557.6" cy="237.8" rx="2.5" ry="2.15"/><ellipse cx="596.5" cy="267.6" rx="2.5" ry="2.15"/><ellipse cx="665.8" cy="246.2" rx="2.5" ry="2.15"/><ellipse cx="598.3" cy="267.9" rx="2.5" ry="2.15"/><ellipse cx="586.7" cy="225.2" rx="2.5" ry="2.15"/><ellipse cx="501.6" cy="232.3" rx="2.5" ry="2.15"/><ellipse cx="626.7" cy="242.6" rx="2.5" ry="2.15"/><ellipse cx="606.1" cy="283.4" rx="2.5" ry="2.15"/><ellipse cx="716.7" cy="226.1" rx="2.5" ry="2.15"/><ellipse cx="486.6" cy="261.9" rx="2.5" ry="2.15"/><ellipse cx="466.8" cy="262.0" rx="2.5" ry="2.15"/><ellipse cx="536.4" cy="250.4" rx="2.5" ry="2.15"/><ellipse cx="527.9" cy="260.0" rx="2.5" ry="2.15"/><ellipse cx="566.7" cy="288.8" rx="2.5" ry="2.15"/><ellipse cx="481.0" cy="249.5" rx="2.5" ry="2.15"/><ellipse cx="644.0" cy="253.1" rx="2.5" ry="2.15"/><ellipse cx="679.2" cy="276.3" rx="2.5" ry="2.15"/><ellipse cx="430.7" cy="268.8" rx="2.5" ry="2.15"/><ellipse cx="705.9" cy="236.7" rx="2.5" ry="2.15"/><ellipse cx="456.4" cy="252.2" rx="2.5" ry="2.15"/><ellipse cx="522.0" cy="251.5" rx="2.5" ry="2.15"/><ellipse cx="576.8" cy="235.2" rx="2.5" ry="2.15"/><ellipse cx="557.9" cy="236.5" rx="2.5" ry="2.15"/><ellipse cx="494.3" cy="236.1" rx="2.5" ry="2.15"/><ellipse cx="650.8" cy="239.7" rx="2.5" ry="2.15"/><ellipse cx="684.2" cy="263.6" rx="2.5" ry="2.15"/><ellipse cx="498.1" cy="250.3" rx="2.5" ry="2.15"/><ellipse cx="479.0" cy="213.2" rx="2.5" ry="2.15"/><ellipse cx="586.8" cy="246.3" rx="2.5" ry="2.15"/><ellipse cx="474.0" cy="248.1" rx="2.5" ry="2.15"/><ellipse cx="714.8" cy="221.2" rx="2.5" ry="2.15"/><ellipse cx="687.9" cy="251.5" rx="2.5" ry="2.15"/><ellipse cx="682.9" cy="260.3" rx="2.5" ry="2.15"/><ellipse cx="554.1" cy="225.0" rx="2.5" ry="2.15"/><ellipse cx="668.3" cy="252.4" rx="2.5" ry="2.15"/><ellipse cx="548.0" cy="214.6" rx="2.5" ry="2.15"/><ellipse cx="568.2" cy="261.9" rx="2.5" ry="2.15"/><ellipse cx="461.1" cy="235.5" rx="2.5" ry="2.15"/><ellipse cx="440.2" cy="226.8" rx="2.5" ry="2.15"/><ellipse cx="632.9" cy="228.8" rx="2.5" ry="2.15"/><ellipse cx="487.6" cy="206.8" rx="2.5" ry="2.15"/><ellipse cx="719.9" cy="269.8" rx="2.5" ry="2.15"/><ellipse cx="600.8" cy="240.7" rx="2.5" ry="2.15"/><ellipse cx="604.3" cy="244.9" rx="2.5" ry="2.15"/><ellipse cx="701.1" cy="247.6" rx="2.5" ry="2.15"/><ellipse cx="519.4" cy="224.2" rx="2.5" ry="2.15"/><ellipse cx="432.1" cy="266.8" rx="2.5" ry="2.15"/><ellipse cx="495.7" cy="208.0" rx="2.5" ry="2.15"/><ellipse cx="568.2" cy="263.4" rx="2.5" ry="2.15"/><ellipse cx="475.0" cy="233.7" rx="2.5" ry="2.15"/><ellipse cx="514.3" cy="246.4" rx="2.5" ry="2.15"/><ellipse cx="653.3" cy="260.7" rx="2.5" ry="2.15"/><ellipse cx="543.5" cy="260.5" rx="2.5" ry="2.15"/><ellipse cx="532.8" cy="228.9" rx="2.5" ry="2.15"/><ellipse cx="499.9" cy="253.8" rx="2.5" ry="2.15"/><ellipse cx="590.6" cy="251.0" rx="2.5" ry="2.15"/><ellipse cx="731.8" cy="246.6" rx="2.5" ry="2.15"/><ellipse cx="480.3" cy="240.4" rx="2.5" ry="2.15"/><ellipse cx="685.6" cy="281.1" rx="2.5" ry="2.15"/><ellipse cx="664.7" cy="263.0" rx="2.5" ry="2.15"/><ellipse cx="611.7" cy="272.2" rx="2.5" ry="2.15"/><ellipse cx="594.1" cy="265.4" rx="2.5" ry="2.15"/><ellipse cx="587.1" cy="222.2" rx="2.5" ry="2.15"/><ellipse cx="460.1" cy="243.9" rx="2.5" ry="2.15"/><ellipse cx="602.0" cy="267.4" rx="2.5" ry="2.15"/><ellipse cx="729.9" cy="235.7" rx="2.5" ry="2.15"/><ellipse cx="650.7" cy="231.2" rx="2.5" ry="2.15"/><ellipse cx="570.8" cy="216.3" rx="2.5" ry="2.15"/><ellipse cx="563.6" cy="278.9" rx="2.5" ry="2.15"/><ellipse cx="693.6" cy="240.1" rx="2.5" ry="2.15"/><ellipse cx="430.7" cy="250.8" rx="2.5" ry="2.15"/><ellipse cx="489.7" cy="228.5" rx="2.5" ry="2.15"/><ellipse cx="720.3" cy="256.4" rx="2.5" ry="2.15"/><ellipse cx="627.7" cy="279.1" rx="2.5" ry="2.15"/><ellipse cx="680.7" cy="233.5" rx="2.5" ry="2.15"/><ellipse cx="591.3" cy="250.6" rx="2.5" ry="2.15"/><ellipse cx="441.3" cy="235.7" rx="2.5" ry="2.15"/><ellipse cx="592.0" cy="223.8" rx="2.5" ry="2.15"/><ellipse cx="620.5" cy="240.8" rx="2.5" ry="2.15"/><ellipse cx="455.7" cy="246.2" rx="2.5" ry="2.15"/><ellipse cx="575.1" cy="268.6" rx="2.5" ry="2.15"/><ellipse cx="715.8" cy="269.7" rx="2.5" ry="2.15"/><ellipse cx="447.7" cy="246.1" rx="2.5" ry="2.15"/><ellipse cx="442.8" cy="222.4" rx="2.5" ry="2.15"/><ellipse cx="460.2" cy="255.1" rx="2.5" ry="2.15"/><ellipse cx="636.4" cy="255.2" rx="2.5" ry="2.15"/><ellipse cx="700.6" cy="252.6" rx="2.5" ry="2.15"/><ellipse cx="476.4" cy="227.5" rx="2.5" ry="2.15"/><ellipse cx="685.9" cy="252.2" rx="2.5" ry="2.15"/><ellipse cx="496.4" cy="273.6" rx="2.5" ry="2.15"/><ellipse cx="592.6" cy="287.0" rx="2.5" ry="2.15"/><ellipse cx="661.3" cy="274.9" rx="2.5" ry="2.15"/><ellipse cx="464.6" cy="255.0" rx="2.5" ry="2.15"/><ellipse cx="574.1" cy="244.5" rx="2.5" ry="2.15"/><ellipse cx="692.6" cy="253.9" rx="2.5" ry="2.15"/><ellipse cx="536.9" cy="249.6" rx="2.5" ry="2.15"/><ellipse cx="671.5" cy="261.5" rx="2.5" ry="2.15"/><ellipse cx="567.1" cy="244.7" rx="2.5" ry="2.15"/><ellipse cx="715.9" cy="230.3" rx="2.5" ry="2.15"/><ellipse cx="550.7" cy="265.2" rx="2.5" ry="2.15"/><ellipse cx="679.2" cy="249.7" rx="2.5" ry="2.15"/><ellipse cx="451.8" cy="258.5" rx="2.5" ry="2.15"/><ellipse cx="532.0" cy="244.3" rx="2.5" ry="2.15"/><ellipse cx="473.1" cy="254.7" rx="2.5" ry="2.15"/><ellipse cx="551.7" cy="256.3" rx="2.5" ry="2.15"/><ellipse cx="552.2" cy="259.7" rx="2.5" ry="2.15"/><ellipse cx="502.0" cy="255.0" rx="2.5" ry="2.15"/><ellipse cx="556.4" cy="235.0" rx="2.5" ry="2.15"/><ellipse cx="636.3" cy="235.3" rx="2.5" ry="2.15"/><ellipse cx="604.6" cy="252.1" rx="2.5" ry="2.15"/><ellipse cx="502.9" cy="269.3" rx="2.5" ry="2.15"/><ellipse cx="645.3" cy="236.2" rx="2.5" ry="2.15"/><ellipse cx="644.6" cy="242.1" rx="2.5" ry="2.15"/><ellipse cx="557.2" cy="264.6" rx="2.5" ry="2.15"/><ellipse cx="568.6" cy="227.1" rx="2.5" ry="2.15"/><ellipse cx="481.5" cy="236.0" rx="2.5" ry="2.15"/><ellipse cx="682.9" cy="248.9" rx="2.5" ry="2.15"/><ellipse cx="537.4" cy="237.4" rx="2.5" ry="2.15"/><ellipse cx="518.0" cy="236.2" rx="2.5" ry="2.15"/><ellipse cx="711.5" cy="267.4" rx="2.5" ry="2.15"/><ellipse cx="521.8" cy="249.1" rx="2.5" ry="2.15"/><ellipse cx="489.1" cy="247.1" rx="2.5" ry="2.15"/><ellipse cx="545.2" cy="223.6" rx="2.5" ry="2.15"/><ellipse cx="585.8" cy="263.0" rx="2.5" ry="2.15"/><ellipse cx="615.7" cy="256.2" rx="2.5" ry="2.15"/><ellipse cx="550.1" cy="250.8" rx="2.5" ry="2.15"/><ellipse cx="637.1" cy="267.7" rx="2.5" ry="2.15"/><ellipse cx="435.8" cy="255.2" rx="2.5" ry="2.15"/><ellipse cx="710.8" cy="251.1" rx="2.5" ry="2.15"/><ellipse cx="569.2" cy="260.0" rx="2.5" ry="2.15"/><ellipse cx="565.4" cy="239.3" rx="2.5" ry="2.15"/><ellipse cx="564.8" cy="236.3" rx="2.5" ry="2.15"/><ellipse cx="512.8" cy="225.4" rx="2.5" ry="2.15"/><ellipse cx="676.8" cy="269.7" rx="2.5" ry="2.15"/><ellipse cx="566.7" cy="240.2" rx="2.5" ry="2.15"/><ellipse cx="457.9" cy="249.8" rx="2.5" ry="2.15"/><ellipse cx="535.4" cy="263.7" rx="2.5" ry="2.15"/><ellipse cx="576.4" cy="277.3" rx="2.5" ry="2.15"/><ellipse cx="538.2" cy="242.2" rx="2.5" ry="2.15"/><ellipse cx="460.0" cy="247.9" rx="2.5" ry="2.15"/><ellipse cx="699.4" cy="254.5" rx="2.5" ry="2.15"/><ellipse cx="474.8" cy="225.4" rx="2.5" ry="2.15"/><ellipse cx="650.7" cy="249.0" rx="2.5" ry="2.15"/><ellipse cx="558.0" cy="290.5" rx="2.5" ry="2.15"/><ellipse cx="579.6" cy="249.9" rx="2.5" ry="2.15"/><ellipse cx="634.9" cy="281.5" rx="2.5" ry="2.15"/><ellipse cx="434.0" cy="259.3" rx="2.5" ry="2.15"/><ellipse cx="577.8" cy="276.7" rx="2.5" ry="2.15"/><ellipse cx="568.6" cy="269.7" rx="2.5" ry="2.15"/><ellipse cx="559.4" cy="252.7" rx="2.5" ry="2.15"/><ellipse cx="429.2" cy="230.3" rx="2.5" ry="2.15"/><ellipse cx="432.2" cy="269.4" rx="2.5" ry="2.15"/><ellipse cx="577.9" cy="261.2" rx="2.5" ry="2.15"/><ellipse cx="567.5" cy="257.1" rx="2.5" ry="2.15"/><ellipse cx="530.7" cy="259.7" rx="2.5" ry="2.15"/><ellipse cx="464.2" cy="233.5" rx="2.5" ry="2.15"/><ellipse cx="539.6" cy="249.6" rx="2.5" ry="2.15"/><ellipse cx="633.6" cy="255.2" rx="2.5" ry="2.15"/><ellipse cx="678.3" cy="233.4" rx="2.5" ry="2.15"/><ellipse cx="661.5" cy="238.4" rx="2.5" ry="2.15"/><ellipse cx="429.3" cy="246.7" rx="2.5" ry="2.15"/><ellipse cx="531.9" cy="214.2" rx="2.5" ry="2.15"/><ellipse cx="577.7" cy="261.5" rx="2.5" ry="2.15"/><ellipse cx="676.7" cy="273.7" rx="2.5" ry="2.15"/><ellipse cx="600.7" cy="251.3" rx="2.5" ry="2.15"/><ellipse cx="672.9" cy="259.8" rx="2.5" ry="2.15"/><ellipse cx="638.6" cy="228.7" rx="2.5" ry="2.15"/><ellipse cx="450.9" cy="248.7" rx="2.5" ry="2.15"/><ellipse cx="727.4" cy="260.4" rx="2.5" ry="2.15"/><ellipse cx="598.5" cy="264.1" rx="2.5" ry="2.15"/><ellipse cx="612.6" cy="267.0" rx="2.5" ry="2.15"/><ellipse cx="507.7" cy="243.4" rx="2.5" ry="2.15"/><ellipse cx="703.7" cy="281.9" rx="2.5" ry="2.15"/><ellipse cx="732.7" cy="255.0" rx="2.5" ry="2.15"/><ellipse cx="533.2" cy="258.7" rx="2.5" ry="2.15"/><ellipse cx="577.7" cy="266.5" rx="2.5" ry="2.15"/><ellipse cx="448.1" cy="235.0" rx="2.5" ry="2.15"/><ellipse cx="661.1" cy="239.4" rx="2.5" ry="2.15"/><ellipse cx="624.6" cy="266.0" rx="2.5" ry="2.15"/><ellipse cx="499.9" cy="226.1" rx="2.5" ry="2.15"/><ellipse cx="681.4" cy="246.1" rx="2.5" ry="2.15"/><ellipse cx="595.4" cy="266.5" rx="2.5" ry="2.15"/><ellipse cx="711.6" cy="235.2" rx="2.5" ry="2.15"/><ellipse cx="678.5" cy="240.7" rx="2.5" ry="2.15"/><ellipse cx="459.4" cy="227.0" rx="2.5" ry="2.15"/><ellipse cx="501.0" cy="229.2" rx="2.5" ry="2.15"/><ellipse cx="687.1" cy="282.0" rx="2.5" ry="2.15"/><ellipse cx="438.4" cy="260.2" rx="2.5" ry="2.15"/><ellipse cx="468.5" cy="258.9" rx="2.5" ry="2.15"/><ellipse cx="708.7" cy="223.1" rx="2.5" ry="2.15"/><ellipse cx="675.6" cy="219.8" rx="2.5" ry="2.15"/><ellipse cx="506.4" cy="227.9" rx="2.5" ry="2.15"/><ellipse cx="531.9" cy="262.2" rx="2.5" ry="2.15"/><ellipse cx="440.4" cy="264.4" rx="2.5" ry="2.15"/><ellipse cx="467.4" cy="215.6" rx="2.5" ry="2.15"/><ellipse cx="432.2" cy="222.2" rx="2.5" ry="2.15"/><ellipse cx="607.5" cy="262.4" rx="2.5" ry="2.15"/><ellipse cx="614.7" cy="257.1" rx="2.5" ry="2.15"/><ellipse cx="472.6" cy="250.9" rx="2.5" ry="2.15"/><ellipse cx="682.5" cy="264.4" rx="2.5" ry="2.15"/><ellipse cx="577.2" cy="235.4" rx="2.5" ry="2.15"/><ellipse cx="611.3" cy="254.9" rx="2.5" ry="2.15"/><ellipse cx="630.4" cy="250.5" rx="2.5" ry="2.15"/><ellipse cx="491.3" cy="262.3" rx="2.5" ry="2.15"/><ellipse cx="673.4" cy="250.7" rx="2.5" ry="2.15"/><ellipse cx="553.9" cy="220.6" rx="2.5" ry="2.15"/><ellipse cx="580.4" cy="269.2" rx="2.5" ry="2.15"/><ellipse cx="467.2" cy="271.3" rx="2.5" ry="2.15"/><ellipse cx="506.4" cy="259.0" rx="2.5" ry="2.15"/><ellipse cx="567.4" cy="244.7" rx="2.5" ry="2.15"/><ellipse cx="649.3" cy="241.6" rx="2.5" ry="2.15"/><ellipse cx="568.1" cy="264.4" rx="2.5" ry="2.15"/><ellipse cx="599.4" cy="244.1" rx="2.5" ry="2.15"/><ellipse cx="659.2" cy="263.4" rx="2.5" ry="2.15"/><ellipse cx="551.4" cy="259.8" rx="2.5" ry="2.15"/><ellipse cx="433.6" cy="245.6" rx="2.5" ry="2.15"/><ellipse cx="599.7" cy="222.4" rx="2.5" ry="2.15"/><ellipse cx="716.2" cy="257.8" rx="2.5" ry="2.15"/><ellipse cx="440.3" cy="232.0" rx="2.5" ry="2.15"/><ellipse cx="569.7" cy="226.5" rx="2.5" ry="2.15"/><ellipse cx="628.0" cy="253.6" rx="2.5" ry="2.15"/><ellipse cx="577.7" cy="252.2" rx="2.5" ry="2.15"/><ellipse cx="460.3" cy="243.5" rx="2.5" ry="2.15"/><ellipse cx="585.2" cy="260.1" rx="2.5" ry="2.15"/><ellipse cx="453.1" cy="217.3" rx="2.5" ry="2.15"/><ellipse cx="450.2" cy="254.3" rx="2.5" ry="2.15"/><ellipse cx="531.7" cy="270.4" rx="2.5" ry="2.15"/><ellipse cx="482.8" cy="242.7" rx="2.5" ry="2.15"/><ellipse cx="582.3" cy="238.3" rx="2.5" ry="2.15"/><ellipse cx="716.3" cy="247.8" rx="2.5" ry="2.15"/><ellipse cx="494.3" cy="262.1" rx="2.5" ry="2.15"/><ellipse cx="729.8" cy="245.8" rx="2.5" ry="2.15"/><ellipse cx="535.1" cy="235.0" rx="2.5" ry="2.15"/><ellipse cx="683.2" cy="229.4" rx="2.5" ry="2.15"/><ellipse cx="587.9" cy="271.8" rx="2.5" ry="2.15"/><ellipse cx="666.4" cy="276.6" rx="2.5" ry="2.15"/><ellipse cx="692.2" cy="253.6" rx="2.5" ry="2.15"/><ellipse cx="685.1" cy="284.9" rx="2.5" ry="2.15"/><ellipse cx="473.7" cy="238.4" rx="2.5" ry="2.15"/><ellipse cx="700.1" cy="263.3" rx="2.5" ry="2.15"/><ellipse cx="465.3" cy="225.3" rx="2.5" ry="2.15"/><ellipse cx="652.3" cy="240.8" rx="2.5" ry="2.15"/><ellipse cx="442.7" cy="246.5" rx="2.5" ry="2.15"/><ellipse cx="520.2" cy="252.6" rx="2.5" ry="2.15"/><ellipse cx="469.0" cy="258.9" rx="2.5" ry="2.15"/><ellipse cx="618.0" cy="240.4" rx="2.5" ry="2.15"/><ellipse cx="524.7" cy="238.2" rx="2.5" ry="2.15"/><ellipse cx="601.2" cy="249.4" rx="2.5" ry="2.15"/><ellipse cx="495.3" cy="240.1" rx="2.5" ry="2.15"/><ellipse cx="550.3" cy="244.4" rx="2.5" ry="2.15"/><ellipse cx="703.2" cy="264.3" rx="2.5" ry="2.15"/><ellipse cx="610.7" cy="270.2" rx="2.5" ry="2.15"/><ellipse cx="577.0" cy="223.1" rx="2.5" ry="2.15"/><ellipse cx="649.8" cy="275.2" rx="2.5" ry="2.15"/><ellipse cx="730.9" cy="251.3" rx="2.5" ry="2.15"/><ellipse cx="530.4" cy="251.4" rx="2.5" ry="2.15"/><ellipse cx="462.2" cy="250.0" rx="2.5" ry="2.15"/><ellipse cx="502.1" cy="258.3" rx="2.5" ry="2.15"/><ellipse cx="476.4" cy="254.6" rx="2.5" ry="2.15"/><ellipse cx="552.2" cy="225.9" rx="2.5" ry="2.15"/><ellipse cx="654.7" cy="268.7" rx="2.5" ry="2.15"/><ellipse cx="662.1" cy="239.3" rx="2.5" ry="2.15"/><ellipse cx="461.7" cy="250.8" rx="2.5" ry="2.15"/><ellipse cx="478.1" cy="247.5" rx="2.5" ry="2.15"/><ellipse cx="538.4" cy="224.7" rx="2.5" ry="2.15"/><ellipse cx="685.8" cy="254.7" rx="2.5" ry="2.15"/><ellipse cx="576.1" cy="246.7" rx="2.5" ry="2.15"/><ellipse cx="592.9" cy="241.8" rx="2.5" ry="2.15"/><ellipse cx="517.4" cy="275.5" rx="2.5" ry="2.15"/><ellipse cx="596.2" cy="254.3" rx="2.5" ry="2.15"/><ellipse cx="613.0" cy="244.6" rx="2.5" ry="2.15"/><ellipse cx="531.2" cy="272.4" rx="2.5" ry="2.15"/><ellipse cx="611.9" cy="252.9" rx="2.5" ry="2.15"/><ellipse cx="658.4" cy="254.0" rx="2.5" ry="2.15"/><ellipse cx="536.6" cy="217.7" rx="2.5" ry="2.15"/><ellipse cx="567.6" cy="263.9" rx="2.5" ry="2.15"/><ellipse cx="468.5" cy="259.5" rx="2.5" ry="2.15"/><ellipse cx="507.8" cy="290.0" rx="2.5" ry="2.15"/><ellipse cx="441.2" cy="232.1" rx="2.5" ry="2.15"/><ellipse cx="445.9" cy="261.9" rx="2.5" ry="2.15"/><ellipse cx="454.4" cy="266.4" rx="2.5" ry="2.15"/><ellipse cx="702.0" cy="263.3" rx="2.5" ry="2.15"/><ellipse cx="651.7" cy="256.1" rx="2.5" ry="2.15"/><ellipse cx="607.0" cy="228.6" rx="2.5" ry="2.15"/><ellipse cx="671.8" cy="258.4" rx="2.5" ry="2.15"/><ellipse cx="482.4" cy="231.3" rx="2.5" ry="2.15"/><ellipse cx="535.9" cy="221.6" rx="2.5" ry="2.15"/><ellipse cx="605.9" cy="261.7" rx="2.5" ry="2.15"/><ellipse cx="689.1" cy="252.4" rx="2.5" ry="2.15"/><ellipse cx="593.3" cy="248.3" rx="2.5" ry="2.15"/><ellipse cx="467.0" cy="273.9" rx="2.5" ry="2.15"/><ellipse cx="442.3" cy="239.1" rx="2.5" ry="2.15"/><ellipse cx="439.5" cy="216.6" rx="2.5" ry="2.15"/><ellipse cx="659.0" cy="223.3" rx="2.5" ry="2.15"/><ellipse cx="701.0" cy="260.5" rx="2.5" ry="2.15"/><ellipse cx="473.0" cy="241.3" rx="2.5" ry="2.15"/><ellipse cx="675.3" cy="244.2" rx="2.5" ry="2.15"/><ellipse cx="441.5" cy="215.7" rx="2.5" ry="2.15"/><ellipse cx="683.0" cy="242.5" rx="2.5" ry="2.15"/><ellipse cx="642.6" cy="229.0" rx="2.5" ry="2.15"/><ellipse cx="572.9" cy="248.4" rx="2.5" ry="2.15"/><ellipse cx="574.1" cy="237.5" rx="2.5" ry="2.15"/><ellipse cx="495.6" cy="231.4" rx="2.5" ry="2.15"/><ellipse cx="712.1" cy="250.4" rx="2.5" ry="2.15"/><ellipse cx="511.6" cy="233.4" rx="2.5" ry="2.15"/><ellipse cx="509.4" cy="249.6" rx="2.5" ry="2.15"/><ellipse cx="663.6" cy="245.4" rx="2.5" ry="2.15"/><ellipse cx="604.4" cy="234.1" rx="2.5" ry="2.15"/><ellipse cx="586.1" cy="279.2" rx="2.5" ry="2.15"/><ellipse cx="602.6" cy="255.2" rx="2.5" ry="2.15"/><ellipse cx="462.4" cy="228.8" rx="2.5" ry="2.15"/><ellipse cx="462.0" cy="242.1" rx="2.5" ry="2.15"/><ellipse cx="726.8" cy="240.4" rx="2.5" ry="2.15"/><ellipse cx="642.7" cy="246.3" rx="2.5" ry="2.15"/><ellipse cx="615.9" cy="286.6" rx="2.5" ry="2.15"/><ellipse cx="599.5" cy="245.7" rx="2.5" ry="2.15"/><ellipse cx="500.3" cy="248.8" rx="2.5" ry="2.15"/><ellipse cx="476.5" cy="231.5" rx="2.5" ry="2.15"/><ellipse cx="606.6" cy="241.5" rx="2.5" ry="2.15"/><ellipse cx="431.9" cy="224.9" rx="2.5" ry="2.15"/><ellipse cx="437.2" cy="237.4" rx="2.5" ry="2.15"/><ellipse cx="533.3" cy="240.4" rx="2.5" ry="2.15"/><ellipse cx="607.1" cy="244.8" rx="2.5" ry="2.15"/><ellipse cx="711.8" cy="251.7" rx="2.5" ry="2.15"/><ellipse cx="566.6" cy="250.7" rx="2.5" ry="2.15"/><ellipse cx="521.9" cy="255.2" rx="2.5" ry="2.15"/><ellipse cx="719.4" cy="244.5" rx="2.5" ry="2.15"/><ellipse cx="519.3" cy="264.6" rx="2.5" ry="2.15"/><ellipse cx="575.3" cy="258.9" rx="2.5" ry="2.15"/><ellipse cx="574.2" cy="270.2" rx="2.5" ry="2.15"/><ellipse cx="442.2" cy="245.0" rx="2.5" ry="2.15"/><ellipse cx="461.0" cy="273.1" rx="2.5" ry="2.15"/><ellipse cx="431.3" cy="249.2" rx="2.5" ry="2.15"/><ellipse cx="670.5" cy="231.0" rx="2.5" ry="2.15"/><ellipse cx="544.4" cy="247.3" rx="2.5" ry="2.15"/><ellipse cx="636.0" cy="252.3" rx="2.5" ry="2.15"/><ellipse cx="564.6" cy="227.8" rx="2.5" ry="2.15"/><ellipse cx="579.6" cy="235.9" rx="2.5" ry="2.15"/><ellipse cx="691.8" cy="244.6" rx="2.5" ry="2.15"/><ellipse cx="548.9" cy="281.4" rx="2.5" ry="2.15"/><ellipse cx="459.8" cy="249.5" rx="2.5" ry="2.15"/><ellipse cx="632.4" cy="281.3" rx="2.5" ry="2.15"/><ellipse cx="437.8" cy="268.8" rx="2.5" ry="2.15"/><ellipse cx="585.7" cy="266.7" rx="2.5" ry="2.15"/><ellipse cx="541.0" cy="259.3" rx="2.5" ry="2.15"/><ellipse cx="558.6" cy="227.0" rx="2.5" ry="2.15"/><ellipse cx="650.4" cy="274.1" rx="2.5" ry="2.15"/><ellipse cx="684.2" cy="239.7" rx="2.5" ry="2.15"/><ellipse cx="721.8" cy="256.2" rx="2.5" ry="2.15"/><ellipse cx="666.2" cy="254.2" rx="2.5" ry="2.15"/><ellipse cx="678.3" cy="278.7" rx="2.5" ry="2.15"/><ellipse cx="714.0" cy="268.4" rx="2.5" ry="2.15"/><ellipse cx="545.9" cy="274.8" rx="2.5" ry="2.15"/><ellipse cx="533.3" cy="254.0" rx="2.5" ry="2.15"/><ellipse cx="437.2" cy="247.5" rx="2.5" ry="2.15"/><ellipse cx="566.9" cy="267.6" rx="2.5" ry="2.15"/><ellipse cx="446.0" cy="281.5" rx="2.5" ry="2.15"/><ellipse cx="494.0" cy="251.9" rx="2.5" ry="2.15"/><ellipse cx="554.4" cy="249.4" rx="2.5" ry="2.15"/><ellipse cx="554.1" cy="230.7" rx="2.5" ry="2.15"/><ellipse cx="661.6" cy="245.0" rx="2.5" ry="2.15"/><ellipse cx="569.9" cy="248.7" rx="2.5" ry="2.15"/><ellipse cx="643.9" cy="265.6" rx="2.5" ry="2.15"/><ellipse cx="435.7" cy="256.7" rx="2.5" ry="2.15"/><ellipse cx="648.3" cy="254.4" rx="2.5" ry="2.15"/><ellipse cx="660.6" cy="257.9" rx="2.5" ry="2.15"/><ellipse cx="432.6" cy="270.4" rx="2.5" ry="2.15"/><ellipse cx="535.6" cy="274.1" rx="2.5" ry="2.15"/><ellipse cx="622.5" cy="271.7" rx="2.5" ry="2.15"/><ellipse cx="470.7" cy="267.0" rx="2.5" ry="2.15"/><ellipse cx="674.2" cy="284.6" rx="2.5" ry="2.15"/><ellipse cx="724.9" cy="292.2" rx="2.5" ry="2.15"/><ellipse cx="667.3" cy="237.5" rx="2.5" ry="2.15"/><ellipse cx="617.4" cy="246.4" rx="2.5" ry="2.15"/><ellipse cx="667.3" cy="259.3" rx="2.5" ry="2.15"/><ellipse cx="714.5" cy="256.7" rx="2.5" ry="2.15"/><ellipse cx="719.6" cy="269.9" rx="2.5" ry="2.15"/><ellipse cx="530.0" cy="219.9" rx="2.5" ry="2.15"/><ellipse cx="625.8" cy="256.8" rx="2.5" ry="2.15"/><ellipse cx="457.5" cy="249.5" rx="2.5" ry="2.15"/><ellipse cx="707.4" cy="242.2" rx="2.5" ry="2.15"/><ellipse cx="446.5" cy="244.6" rx="2.5" ry="2.15"/><ellipse cx="516.3" cy="260.2" rx="2.5" ry="2.15"/><ellipse cx="603.3" cy="259.5" rx="2.5" ry="2.15"/><ellipse cx="496.7" cy="242.8" rx="2.5" ry="2.15"/><ellipse cx="557.0" cy="252.2" rx="2.5" ry="2.15"/><ellipse cx="535.6" cy="245.5" rx="2.5" ry="2.15"/><ellipse cx="631.7" cy="268.8" rx="2.5" ry="2.15"/><ellipse cx="586.4" cy="249.1" rx="2.5" ry="2.15"/><ellipse cx="681.4" cy="269.4" rx="2.5" ry="2.15"/><ellipse cx="617.9" cy="245.9" rx="2.5" ry="2.15"/><ellipse cx="648.3" cy="255.6" rx="2.5" ry="2.15"/><ellipse cx="433.7" cy="231.8" rx="2.5" ry="2.15"/><ellipse cx="634.5" cy="252.4" rx="2.5" ry="2.15"/><ellipse cx="705.9" cy="264.6" rx="2.5" ry="2.15"/><ellipse cx="470.2" cy="230.2" rx="2.5" ry="2.15"/><ellipse cx="667.2" cy="251.0" rx="2.5" ry="2.15"/><ellipse cx="667.7" cy="257.6" rx="2.5" ry="2.15"/><ellipse cx="454.2" cy="240.9" rx="2.5" ry="2.15"/><ellipse cx="616.0" cy="266.2" rx="2.5" ry="2.15"/><ellipse cx="523.6" cy="228.3" rx="2.5" ry="2.15"/><ellipse cx="541.4" cy="260.5" rx="2.5" ry="2.15"/><ellipse cx="731.4" cy="268.3" rx="2.5" ry="2.15"/><ellipse cx="602.5" cy="277.0" rx="2.5" ry="2.15"/><ellipse cx="574.0" cy="249.7" rx="2.5" ry="2.15"/><ellipse cx="671.5" cy="237.4" rx="2.5" ry="2.15"/><ellipse cx="547.8" cy="225.6" rx="2.5" ry="2.15"/><ellipse cx="468.2" cy="255.1" rx="2.5" ry="2.15"/><ellipse cx="727.2" cy="261.6" rx="2.5" ry="2.15"/><ellipse cx="477.9" cy="251.8" rx="2.5" ry="2.15"/><ellipse cx="703.1" cy="257.9" rx="2.5" ry="2.15"/><ellipse cx="726.1" cy="259.6" rx="2.5" ry="2.15"/><ellipse cx="571.5" cy="245.2" rx="2.5" ry="2.15"/><ellipse cx="465.4" cy="223.9" rx="2.5" ry="2.15"/><ellipse cx="569.0" cy="229.5" rx="2.5" ry="2.15"/><ellipse cx="594.2" cy="240.7" rx="2.5" ry="2.15"/><ellipse cx="668.3" cy="242.8" rx="2.5" ry="2.15"/><ellipse cx="732.9" cy="225.7" rx="2.5" ry="2.15"/><ellipse cx="503.3" cy="238.8" rx="2.5" ry="2.15"/><ellipse cx="439.2" cy="232.5" rx="2.5" ry="2.15"/><ellipse cx="727.6" cy="259.2" rx="2.5" ry="2.15"/><ellipse cx="429.5" cy="247.7" rx="2.5" ry="2.15"/><ellipse cx="721.8" cy="262.0" rx="2.5" ry="2.15"/><ellipse cx="700.6" cy="233.9" rx="2.5" ry="2.15"/><ellipse cx="702.6" cy="236.9" rx="2.5" ry="2.15"/><ellipse cx="551.3" cy="225.6" rx="2.5" ry="2.15"/><ellipse cx="489.8" cy="248.9" rx="2.5" ry="2.15"/><ellipse cx="610.8" cy="299.1" rx="2.5" ry="2.15"/><ellipse cx="560.5" cy="252.9" rx="2.5" ry="2.15"/><ellipse cx="644.8" cy="249.8" rx="2.5" ry="2.15"/><ellipse cx="487.2" cy="247.8" rx="2.5" ry="2.15"/><ellipse cx="572.0" cy="250.1" rx="2.5" ry="2.15"/><ellipse cx="706.8" cy="266.5" rx="2.5" ry="2.15"/><ellipse cx="608.1" cy="253.3" rx="2.5" ry="2.15"/><ellipse cx="711.3" cy="238.9" rx="2.5" ry="2.15"/><ellipse cx="657.2" cy="228.7" rx="2.5" ry="2.15"/><ellipse cx="469.7" cy="250.4" rx="2.5" ry="2.15"/><ellipse cx="625.2" cy="278.5" rx="2.5" ry="2.15"/><ellipse cx="485.0" cy="246.9" rx="2.5" ry="2.15"/><ellipse cx="450.6" cy="226.0" rx="2.5" ry="2.15"/><ellipse cx="612.5" cy="247.4" rx="2.5" ry="2.15"/><ellipse cx="431.5" cy="241.2" rx="2.5" ry="2.15"/><ellipse cx="444.8" cy="260.9" rx="2.5" ry="2.15"/><ellipse cx="547.7" cy="247.8" rx="2.5" ry="2.15"/><ellipse cx="483.9" cy="272.3" rx="2.5" ry="2.15"/><ellipse cx="631.1" cy="252.4" rx="2.5" ry="2.15"/><ellipse cx="513.4" cy="230.9" rx="2.5" ry="2.15"/><ellipse cx="502.4" cy="272.1" rx="2.5" ry="2.15"/><ellipse cx="596.7" cy="237.8" rx="2.5" ry="2.15"/><ellipse cx="588.5" cy="240.3" rx="2.5" ry="2.15"/><ellipse cx="686.2" cy="285.3" rx="2.5" ry="2.15"/><ellipse cx="678.6" cy="259.7" rx="2.5" ry="2.15"/><ellipse cx="713.1" cy="277.7" rx="2.5" ry="2.15"/><ellipse cx="462.6" cy="209.1" rx="2.5" ry="2.15"/><ellipse cx="445.9" cy="265.3" rx="2.5" ry="2.15"/><ellipse cx="657.6" cy="256.4" rx="2.5" ry="2.15"/><ellipse cx="550.7" cy="250.4" rx="2.5" ry="2.15"/><ellipse cx="445.0" cy="254.3" rx="2.5" ry="2.15"/><ellipse cx="590.2" cy="211.6" rx="2.5" ry="2.15"/><ellipse cx="526.4" cy="233.6" rx="2.5" ry="2.15"/></g>
<polyline points="428.80,248.56 430.33,248.37 431.86,248.18 433.39,247.99 434.92,247.81 436.45,247.63 437.98,247.46 439.51,247.29 441.04,247.12 442.57,246.95 444.10,246.79 445.63,246.63 447.16,246.48 448.69,246.33 450.22,246.19 451.74,246.05 453.27,245.91 454.80,245.78 456.33,245.66 457.86,245.54 459.39,245.42 460.92,245.31 462.45,245.21 463.98,245.11 465.51,245.02 467.04,244.93 468.57,244.85 470.10,244.77 471.63,244.70 473.16,244.64 474.69,244.58 476.22,244.54 477.75,244.49 479.28,244.46 480.81,244.43 482.34,244.41 483.87,244.39 485.40,244.38 486.93,244.38 488.46,244.39 489.99,244.40 491.52,244.42 493.05,244.45 494.57,244.48 496.10,244.52 497.63,244.56 499.16,244.62 500.69,244.68 502.22,244.74 503.75,244.81 505.28,244.89 506.81,244.97 508.34,245.06 509.87,245.16 511.40,245.25 512.93,245.36 514.46,245.46 515.99,245.57 517.52,245.69 519.05,245.81 520.58,245.93 522.11,246.05 523.64,246.18 525.17,246.31 526.70,246.44 528.23,246.58 529.76,246.71 531.29,246.84 532.82,246.98 534.35,247.12 535.88,247.25 537.41,247.39 538.93,247.53 540.46,247.66 541.99,247.80 543.52,247.93 545.05,248.07 546.58,248.20 548.11,248.33 549.64,248.46 551.17,248.59 552.70,248.72 554.23,248.84 555.76,248.97 557.29,249.09 558.82,249.21 560.35,249.33 561.88,249.45 563.41,249.57 564.94,249.68 566.47,249.80 568.00,249.91 569.53,250.02 571.06,250.14 572.59,250.25 574.12,250.36 575.65,250.47 577.18,250.58 578.71,250.70 580.24,250.81 581.76,250.92 583.29,251.03 584.82,251.15 586.35,251.26 587.88,251.38 589.41,251.49 590.94,251.61 592.47,251.73 594.00,251.85 595.53,251.98 597.06,252.10 598.59,252.23 600.12,252.35 601.65,252.48 603.18,252.61 604.71,252.74 606.24,252.87 607.77,253.01 609.30,253.14 610.83,253.28 612.36,253.41 613.89,253.55 615.42,253.68 616.95,253.82 618.48,253.95 620.01,254.09 621.54,254.22 623.07,254.35 624.59,254.48 626.12,254.61 627.65,254.73 629.18,254.85 630.71,254.97 632.24,255.08 633.77,255.19 635.30,255.30 636.83,255.40 638.36,255.49 639.89,255.58 641.42,255.67 642.95,255.74 644.48,255.81 646.01,255.88 647.54,255.93 649.07,255.98 650.60,256.02 652.13,256.05 653.66,256.08 655.19,256.09 656.72,256.10 658.25,256.10 659.78,256.09 661.31,256.07 662.84,256.04 664.37,256.00 665.90,255.95 667.43,255.90 668.95,255.84 670.48,255.76 672.01,255.68 673.54,255.59 675.07,255.49 676.60,255.39 678.13,255.27 679.66,255.15 681.19,255.02 682.72,254.89 684.25,254.75 685.78,254.60 687.31,254.44 688.84,254.28 690.37,254.12 691.90,253.94 693.43,253.77 694.96,253.59 696.49,253.40 698.02,253.21 699.55,253.02 701.08,252.83 702.61,252.63 704.14,252.43 705.67,252.22 707.20,252.02 708.73,251.81 710.26,251.61 711.78,251.40 713.31,251.19 714.84,250.98 716.37,250.78 717.90,250.57 719.43,250.36 720.96,250.15 722.49,249.95 724.02,249.74 725.55,249.54 727.08,249.34 728.61,249.14 730.14,248.94 731.67,248.75 733.20,248.56" class="fit"/>
</g>
<rect x="428.5" y="179.5" width="305.0" height="139.0" class="ax"/>
<path d="M428.80,318.5v-3.5M428.80,179.5v3.5M489.68,318.5v-3.5M489.68,179.5v3.5M550.56,318.5v-3.5M550.56,179.5v3.5M611.44,318.5v-3.5M611.44,179.5v3.5M672.32,318.5v-3.5M672.32,179.5v3.5M733.20,318.5v-3.5M733.20,179.5v3.5M428.5,308.10h3.5M733.5,308.10h-3.5M428.5,278.75h3.5M733.5,278.75h-3.5M428.5,249.40h3.5M733.5,249.40h-3.5M428.5,220.05h3.5M733.5,220.05h-3.5M428.5,190.70h3.5M733.5,190.70h-3.5M440.98,318.5v-2.2M440.98,179.5v2.2M453.15,318.5v-2.2M453.15,179.5v2.2M465.33,318.5v-2.2M465.33,179.5v2.2M477.50,318.5v-2.2M477.50,179.5v2.2M501.86,318.5v-2.2M501.86,179.5v2.2M514.03,318.5v-2.2M514.03,179.5v2.2M526.21,318.5v-2.2M526.21,179.5v2.2M538.38,318.5v-2.2M538.38,179.5v2.2M562.74,318.5v-2.2M562.74,179.5v2.2M574.91,318.5v-2.2M574.91,179.5v2.2M587.09,318.5v-2.2M587.09,179.5v2.2M599.26,318.5v-2.2M599.26,179.5v2.2M623.62,318.5v-2.2M623.62,179.5v2.2M635.79,318.5v-2.2M635.79,179.5v2.2M647.97,318.5v-2.2M647.97,179.5v2.2M660.14,318.5v-2.2M660.14,179.5v2.2M684.50,318.5v-2.2M684.50,179.5v2.2M696.67,318.5v-2.2M696.67,179.5v2.2M708.85,318.5v-2.2M708.85,179.5v2.2M721.02,318.5v-2.2M721.02,179.5v2.2M428.5,313.97h2.2M733.5,313.97h-2.2M428.5,302.23h2.2M733.5,302.23h-2.2M428.5,296.36h2.2M733.5,296.36h-2.2M428.5,290.49h2.2M733.5,290.49h-2.2M428.5,284.62h2.2M733.5,284.62h-2.2M428.5,272.88h2.2M733.5,272.88h-2.2M428.5,267.01h2.2M733.5,267.01h-2.2M428.5,261.14h2.2M733.5,261.14h-2.2M428.5,255.27h2.2M733.5,255.27h-2.2M428.5,243.53h2.2M733.5,243.53h-2.2M428.5,237.66h2.2M733.5,237.66h-2.2M428.5,231.79h2.2M733.5,231.79h-2.2M428.5,225.92h2.2M733.5,225.92h-2.2M428.5,214.18h2.2M733.5,214.18h-2.2M428.5,208.31h2.2M733.5,208.31h-2.2M428.5,202.44h2.2M733.5,202.44h-2.2M428.5,196.57h2.2M733.5,196.57h-2.2M428.5,184.83h2.2M733.5,184.83h-2.2" class="tk"/>
<text transform="translate(408.33,313.33) scale(1.125,1)" font-size="12.70">−2</text>
<text transform="translate(408.29,283.92) scale(1.125,1)" font-size="12.70">−1</text>
<text transform="translate(416.51,254.57) scale(1.125,1)" font-size="12.70">0</text>
<text transform="translate(416.65,225.22) scale(1.125,1)" font-size="12.70">1</text>
<text transform="translate(416.68,195.93) scale(1.125,1)" font-size="12.70">2</text>
<line x1="489.68" y1="340.5" x2="489.68" y2="479.5" class="gv"/>
<line x1="550.56" y1="340.5" x2="550.56" y2="479.5" class="gv"/>
<line x1="611.44" y1="340.5" x2="611.44" y2="479.5" class="gv"/>
<line x1="672.32" y1="340.5" x2="672.32" y2="479.5" class="gv"/>
<line x1="428.5" y1="463.30" x2="733.5" y2="463.30" class="gh"/>
<line x1="428.5" y1="436.50" x2="733.5" y2="436.50" class="gh"/>
<line x1="428.5" y1="409.70" x2="733.5" y2="409.70" class="gh"/>
<line x1="428.5" y1="382.90" x2="733.5" y2="382.90" class="gh"/>
<line x1="428.5" y1="356.10" x2="733.5" y2="356.10" class="gh"/>
<text transform="translate(440.43,358.50) scale(1.176,1)" font-size="12.04">KOI 217.01</text>
<text transform="translate(626.21,358.40) scale(1.176,1)" font-size="12.28">Kepler71b</text>
<text transform="translate(559.41,456.30) scale(1.147,1)" font-size="12.55">P = 9.653 d</text>
<text transform="translate(559.76,470.10) scale(1.142,1)" font-size="12.69">A = 0.33 min</text>
<clipPath id="rc2"><rect x="428.5" y="340.5" width="305.0" height="139.0"/></clipPath><g clip-path="url(#rc2)">
<path d="M592.6,373.0V395.8M533.3,375.8V408.9M541.1,410.2V430.5M542.8,392.6V427.5M729.4,435.7V458.6M621.4,372.8V405.8M634.1,397.3V423.3M529.2,415.0V449.5M635.8,404.1V424.8M466.2,386.6V406.3M444.5,400.2V433.9M687.6,356.0V381.3M431.5,393.3V412.5M726.7,419.6V450.2M680.5,415.1V448.0M667.8,407.9V440.0M443.4,416.8V435.1M491.9,371.9V405.6M687.5,393.2V419.8M560.5,404.0V431.9M619.8,431.9V455.1M466.0,408.6V434.2M485.5,388.5V408.5M580.2,368.4V398.7M660.0,423.6V448.9M593.1,399.5V434.7M461.3,385.6V404.6M692.5,403.4V434.1M471.3,424.4V447.8M562.6,408.9V437.7M607.4,384.7V404.5M525.9,390.0V422.1M556.1,398.9V420.3M698.8,387.1V410.3M567.0,362.5V385.8M592.9,376.0V401.7M724.2,417.9V451.2M512.8,418.9V437.6M701.2,408.5V438.7M538.9,361.3V390.7M523.8,366.5V389.0M697.1,376.9V401.6M448.7,404.9V425.2M692.6,424.7V459.3M680.8,386.0V419.3M701.2,399.5V433.7M447.0,371.1V399.9M501.5,364.4V390.7M664.8,402.2V430.5M561.8,365.3V396.7M430.4,383.4V411.4M639.6,358.7V393.1M672.2,411.6V446.8M725.2,375.8V394.3M474.7,396.9V428.4M505.5,372.9V399.3M684.9,399.2V419.1M456.7,423.7V444.6M512.3,396.8V429.0M566.3,385.7V414.6M556.1,402.7V426.3M594.0,388.9V424.1M693.2,421.9V451.8M621.0,365.2V399.1M627.9,416.5V442.7M609.1,387.9V417.6M493.0,383.1V405.7M565.7,393.8V422.6M729.4,406.0V438.1M705.6,402.1V426.0M662.4,416.0V442.7M591.3,362.2V391.7M693.3,371.4V405.6M620.8,386.0V406.6M549.8,405.9V433.3M589.0,395.4V417.3M489.2,397.6V425.8M603.2,378.8V402.0M524.3,392.5V421.1M666.7,420.3V449.4M680.7,391.0V423.5M731.3,389.7V419.6M683.0,409.5V436.7M446.8,409.5V439.1M649.3,407.6V426.3M674.8,428.5V450.8M694.3,402.2V435.7M578.5,369.9V395.8M573.7,347.9V379.1M590.4,412.4V444.7M476.0,394.1V427.3M720.1,408.0V432.3M729.2,404.2V440.0M508.9,418.1V447.2M720.2,421.0V442.6M492.2,411.6V445.7M454.6,408.4V430.3M651.7,398.2V427.1M677.3,409.6V434.4M489.6,384.1V416.3M719.1,407.4V435.7M550.5,406.3V435.7M485.4,409.9V440.5M520.3,395.7V429.7M463.1,389.4V412.3M663.7,384.5V406.4M515.6,385.8V413.0M639.8,396.7V418.3M569.1,394.9V419.8M466.8,405.2V439.8M607.6,398.1V427.1M723.2,420.5V443.1M485.1,386.4V409.9M721.8,403.2V421.4M464.7,407.0V439.4M604.3,405.5V424.9M481.6,392.2V414.1M732.0,392.9V415.9M596.2,402.5V435.4M694.2,417.3V438.3M644.2,411.8V432.4M565.3,387.1V405.4M507.8,379.1V414.2M694.3,404.1V428.8M698.3,408.0V435.2M667.5,414.0V437.8M674.4,421.5V441.9M441.5,403.6V430.8M495.5,417.1V448.8M597.6,382.0V409.3M452.7,403.7V437.4M608.5,387.5V422.0M717.1,371.9V402.8M536.5,371.9V400.9M639.0,394.7V415.6M490.3,405.0V426.3M671.2,411.4V434.9M701.7,427.0V446.4M677.0,403.9V431.1M563.0,379.1V406.6M534.8,401.4V423.6M454.3,379.6V411.6M686.9,399.0V429.3M703.9,386.5V413.6M598.8,391.9V411.8M661.4,396.5V415.8M498.2,392.9V418.6M658.9,432.1V462.7M504.8,411.4V447.3M650.7,440.7V470.5M432.4,409.0V427.2M545.9,384.4V419.0M501.3,381.7V417.3M441.1,396.5V432.3M507.8,350.5V382.7M708.4,405.6V428.5M520.9,389.2V412.2M464.2,375.2V410.6M631.8,366.2V398.2M663.9,393.0V412.7M533.8,388.9V412.4M709.8,400.9V428.8M641.0,372.4V402.9M592.4,384.2V413.1M701.7,408.2V438.7M675.1,441.9V463.1M612.7,399.1V421.2M505.3,422.8V446.8M587.8,375.5V399.8M617.7,389.5V422.4M701.8,393.8V414.9M714.6,376.8V411.2M447.5,408.7V436.7M589.1,380.8V410.4M714.1,440.8V463.9M560.0,390.8V411.0M658.3,407.1V440.2M498.7,365.0V397.5M694.0,384.5V416.7M481.9,410.5V437.5M508.5,383.3V417.8M503.6,420.1V444.2M472.1,389.1V412.9M632.6,386.2V408.2M685.3,435.7V459.8M476.8,376.1V397.3M489.4,387.9V421.9M549.8,394.5V429.6M520.4,406.3V432.5M623.0,375.6V404.5M464.4,431.2V466.1M606.2,375.6V406.5M582.1,358.5V378.5M464.6,414.8V443.0M565.2,375.4V410.4M542.9,390.7V423.2M449.3,417.6V451.4M528.0,376.3V412.1M624.4,384.9V409.6M695.2,399.4V430.5M718.8,413.7V443.9M653.0,368.2V397.3M553.0,409.2V442.9M474.1,408.9V430.7M636.7,370.8V397.1M603.3,389.2V416.0M690.9,415.8V435.9M506.8,417.0V445.5M628.8,413.1V434.8M457.3,417.1V448.2M523.0,397.6V416.9M560.0,398.6V427.8M674.0,359.0V391.5M534.6,406.6V440.3M617.2,395.0V416.2M728.9,426.6V454.9M716.8,394.8V417.4M574.2,380.9V402.7M492.5,395.7V431.6M616.2,404.4V433.5M670.4,406.5V439.6M609.6,406.2V434.4M656.4,402.1V433.4M493.7,413.0V446.3M515.8,443.8V467.2M476.3,416.9V450.9M446.3,408.1V442.1M569.0,359.8V394.0M664.2,415.3V440.3M542.8,405.6V440.4M718.9,395.9V426.8M535.8,410.6V437.3M544.7,355.3V385.4M688.3,389.8V423.1M629.8,386.9V405.0M591.5,394.8V422.2M500.7,386.8V412.5M455.5,389.7V409.8M478.6,424.2V450.9M479.1,379.1V402.6M556.3,396.1V425.2M529.5,416.0V436.3M595.4,379.1V413.3M507.9,383.2V411.5M636.6,398.4V421.4M716.8,391.8V421.2M677.7,389.5V420.7M604.3,388.7V423.3M507.5,394.3V428.0M669.6,403.3V429.4M683.3,422.1V454.5M457.5,400.9V435.1M686.5,413.1V439.8M708.9,432.9V453.1M490.4,421.1V443.3M484.6,400.0V429.4M649.9,391.4V416.2M575.0,417.4V438.8M451.3,401.3V429.5M615.5,394.8V425.2M681.2,441.6V464.4M650.8,402.9V436.2M444.3,434.9V463.1M441.8,401.3V420.7M586.5,388.6V416.8M629.0,390.1V425.2M709.0,440.0V459.7M645.2,361.8V395.1M635.2,399.1V420.1M695.2,383.5V405.5M552.6,367.8V401.8M481.1,378.6V407.9M463.8,388.3V414.9M537.5,424.7V451.0M691.9,427.0V453.1M595.9,376.4V403.5M442.1,379.8V411.2M704.9,397.8V418.7M679.5,431.6V455.6M445.8,400.4V427.1M668.1,370.2V396.6M484.3,416.9V436.8M444.1,400.7V425.2M549.2,400.9V426.2M643.6,409.6V432.1M510.7,377.9V402.7M560.3,401.9V433.2M684.3,414.4V441.0M465.8,389.8V416.9M623.8,357.1V386.6M524.7,361.0V396.9M447.5,387.0V406.0M661.2,416.3V439.8M634.1,386.2V418.1M569.2,380.0V405.0M570.9,385.5V414.3M547.0,385.5V408.4M635.8,402.0V434.6M431.7,408.3V437.1M461.9,418.0V440.5M454.7,365.1V400.2M461.8,410.7V429.1M597.4,379.0V412.9M555.7,422.6V449.2M628.7,415.8V450.9M587.8,383.0V402.1M667.1,418.2V447.1M642.7,372.0V399.9M439.4,388.8V407.2M455.4,397.0V423.5M631.2,399.7V435.1M688.4,384.0V414.2M680.0,408.7V426.9M456.6,420.9V448.1M611.8,362.8V394.0M474.5,375.1V409.0M520.4,365.8V392.3M687.8,429.3V462.4M618.0,378.8V399.1M683.7,396.0V425.5M612.9,377.5V402.9M703.8,395.8V430.2M512.2,393.7V416.9M574.7,390.7V413.0M713.4,404.3V434.1M661.4,425.6V459.3M444.2,388.1V410.8M492.9,400.7V429.7M541.9,388.1V419.6M623.1,382.6V403.6M517.1,408.7V437.8M684.2,432.9V458.7M674.8,383.1V415.5M556.0,424.4V457.0M505.6,394.9V422.5M500.8,399.8V420.5M497.7,358.8V381.3M580.3,389.1V409.4M594.3,382.6V411.9M700.6,395.1V427.4M580.3,392.2V425.6M600.1,381.8V413.3M498.4,402.3V432.8M727.8,387.8V420.2M573.9,363.2V397.7M474.9,405.0V424.9M517.1,404.2V433.7M651.4,410.9V441.9M510.8,402.1V422.2M731.0,387.5V417.7M599.3,384.3V417.6M669.9,399.0V426.5M611.6,373.3V393.7M637.7,400.8V434.2M549.0,386.1V414.5M675.2,385.6V412.8M674.3,399.7V424.4M673.8,417.2V435.7M620.2,413.5V447.5M671.1,374.7V400.9M672.6,396.1V426.1M499.6,411.2V429.7M443.1,415.4V450.4M709.1,405.1V437.3M547.5,359.2V394.6M452.1,392.7V419.7M693.6,399.7V430.9M685.1,380.7V410.8M615.3,373.1V402.5M460.4,378.9V407.6M693.3,443.5V470.2M576.9,388.9V408.8M455.7,391.1V423.7M482.5,413.8V434.1M471.8,405.2V423.5M693.2,394.8V428.9M698.9,404.7V434.0M712.3,390.8V415.0M527.2,385.5V418.1M606.6,409.7V441.4M616.2,400.4V430.2M538.6,371.7V405.5M434.0,422.2V455.5M447.3,396.3V420.3M453.3,374.1V404.1M566.1,396.1V427.0M554.5,399.2V426.5M437.2,403.2V437.0M447.3,384.0V414.4M545.0,410.6V437.3M625.5,403.1V431.6M581.9,386.9V422.5M658.4,405.0V436.5M598.6,394.8V418.9M455.6,438.8V462.1M461.3,392.9V420.5M537.5,398.2V430.9M612.7,412.2V433.9M692.3,419.9V439.4M696.2,390.0V419.1" class="eb"/>
<g class="pt"><ellipse cx="592.6" cy="384.4" rx="2.5" ry="2.15"/><ellipse cx="533.3" cy="392.3" rx="2.5" ry="2.15"/><ellipse cx="541.1" cy="420.4" rx="2.5" ry="2.15"/><ellipse cx="542.8" cy="410.1" rx="2.5" ry="2.15"/><ellipse cx="729.4" cy="447.2" rx="2.5" ry="2.15"/><ellipse cx="621.4" cy="389.3" rx="2.5" ry="2.15"/><ellipse cx="634.1" cy="410.3" rx="2.5" ry="2.15"/><ellipse cx="529.2" cy="432.2" rx="2.5" ry="2.15"/><ellipse cx="635.8" cy="414.4" rx="2.5" ry="2.15"/><ellipse cx="466.2" cy="396.5" rx="2.5" ry="2.15"/><ellipse cx="444.5" cy="417.0" rx="2.5" ry="2.15"/><ellipse cx="687.6" cy="368.6" rx="2.5" ry="2.15"/><ellipse cx="431.5" cy="402.9" rx="2.5" ry="2.15"/><ellipse cx="726.7" cy="434.9" rx="2.5" ry="2.15"/><ellipse cx="680.5" cy="431.6" rx="2.5" ry="2.15"/><ellipse cx="667.8" cy="424.0" rx="2.5" ry="2.15"/><ellipse cx="443.4" cy="426.0" rx="2.5" ry="2.15"/><ellipse cx="491.9" cy="388.7" rx="2.5" ry="2.15"/><ellipse cx="687.5" cy="406.5" rx="2.5" ry="2.15"/><ellipse cx="560.5" cy="417.9" rx="2.5" ry="2.15"/><ellipse cx="619.8" cy="443.5" rx="2.5" ry="2.15"/><ellipse cx="466.0" cy="421.4" rx="2.5" ry="2.15"/><ellipse cx="485.5" cy="398.5" rx="2.5" ry="2.15"/><ellipse cx="580.2" cy="383.6" rx="2.5" ry="2.15"/><ellipse cx="660.0" cy="436.3" rx="2.5" ry="2.15"/><ellipse cx="593.1" cy="417.1" rx="2.5" ry="2.15"/><ellipse cx="461.3" cy="395.1" rx="2.5" ry="2.15"/><ellipse cx="692.5" cy="418.8" rx="2.5" ry="2.15"/><ellipse cx="471.3" cy="436.1" rx="2.5" ry="2.15"/><ellipse cx="562.6" cy="423.3" rx="2.5" ry="2.15"/><ellipse cx="607.4" cy="394.6" rx="2.5" ry="2.15"/><ellipse cx="525.9" cy="406.0" rx="2.5" ry="2.15"/><ellipse cx="556.1" cy="409.6" rx="2.5" ry="2.15"/><ellipse cx="698.8" cy="398.7" rx="2.5" ry="2.15"/><ellipse cx="567.0" cy="374.1" rx="2.5" ry="2.15"/><ellipse cx="592.9" cy="388.8" rx="2.5" ry="2.15"/><ellipse cx="724.2" cy="434.5" rx="2.5" ry="2.15"/><ellipse cx="512.8" cy="428.2" rx="2.5" ry="2.15"/><ellipse cx="701.2" cy="423.6" rx="2.5" ry="2.15"/><ellipse cx="538.9" cy="376.0" rx="2.5" ry="2.15"/><ellipse cx="523.8" cy="377.8" rx="2.5" ry="2.15"/><ellipse cx="697.1" cy="389.2" rx="2.5" ry="2.15"/><ellipse cx="448.7" cy="415.1" rx="2.5" ry="2.15"/><ellipse cx="692.6" cy="442.0" rx="2.5" ry="2.15"/><ellipse cx="680.8" cy="402.6" rx="2.5" ry="2.15"/><ellipse cx="701.2" cy="416.6" rx="2.5" ry="2.15"/><ellipse cx="447.0" cy="385.5" rx="2.5" ry="2.15"/><ellipse cx="501.5" cy="377.6" rx="2.5" ry="2.15"/><ellipse cx="664.8" cy="416.4" rx="2.5" ry="2.15"/><ellipse cx="561.8" cy="381.0" rx="2.5" ry="2.15"/><ellipse cx="430.4" cy="397.4" rx="2.5" ry="2.15"/><ellipse cx="639.6" cy="375.9" rx="2.5" ry="2.15"/><ellipse cx="672.2" cy="429.2" rx="2.5" ry="2.15"/><ellipse cx="725.2" cy="385.1" rx="2.5" ry="2.15"/><ellipse cx="474.7" cy="412.7" rx="2.5" ry="2.15"/><ellipse cx="505.5" cy="386.1" rx="2.5" ry="2.15"/><ellipse cx="684.9" cy="409.2" rx="2.5" ry="2.15"/><ellipse cx="456.7" cy="434.1" rx="2.5" ry="2.15"/><ellipse cx="512.3" cy="412.9" rx="2.5" ry="2.15"/><ellipse cx="566.3" cy="400.2" rx="2.5" ry="2.15"/><ellipse cx="556.1" cy="414.5" rx="2.5" ry="2.15"/><ellipse cx="594.0" cy="406.5" rx="2.5" ry="2.15"/><ellipse cx="693.2" cy="436.9" rx="2.5" ry="2.15"/><ellipse cx="621.0" cy="382.2" rx="2.5" ry="2.15"/><ellipse cx="627.9" cy="429.6" rx="2.5" ry="2.15"/><ellipse cx="609.1" cy="402.7" rx="2.5" ry="2.15"/><ellipse cx="493.0" cy="394.4" rx="2.5" ry="2.15"/><ellipse cx="565.7" cy="408.2" rx="2.5" ry="2.15"/><ellipse cx="729.4" cy="422.0" rx="2.5" ry="2.15"/><ellipse cx="705.6" cy="414.0" rx="2.5" ry="2.15"/><ellipse cx="662.4" cy="429.4" rx="2.5" ry="2.15"/><ellipse cx="591.3" cy="377.0" rx="2.5" ry="2.15"/><ellipse cx="693.3" cy="388.5" rx="2.5" ry="2.15"/><ellipse cx="620.8" cy="396.3" rx="2.5" ry="2.15"/><ellipse cx="549.8" cy="419.6" rx="2.5" ry="2.15"/><ellipse cx="589.0" cy="406.3" rx="2.5" ry="2.15"/><ellipse cx="489.2" cy="411.7" rx="2.5" ry="2.15"/><ellipse cx="603.2" cy="390.4" rx="2.5" ry="2.15"/><ellipse cx="524.3" cy="406.8" rx="2.5" ry="2.15"/><ellipse cx="666.7" cy="434.9" rx="2.5" ry="2.15"/><ellipse cx="680.7" cy="407.2" rx="2.5" ry="2.15"/><ellipse cx="731.3" cy="404.6" rx="2.5" ry="2.15"/><ellipse cx="683.0" cy="423.1" rx="2.5" ry="2.15"/><ellipse cx="446.8" cy="424.3" rx="2.5" ry="2.15"/><ellipse cx="649.3" cy="417.0" rx="2.5" ry="2.15"/><ellipse cx="674.8" cy="439.6" rx="2.5" ry="2.15"/><ellipse cx="694.3" cy="419.0" rx="2.5" ry="2.15"/><ellipse cx="578.5" cy="382.8" rx="2.5" ry="2.15"/><ellipse cx="573.7" cy="363.5" rx="2.5" ry="2.15"/><ellipse cx="590.4" cy="428.5" rx="2.5" ry="2.15"/><ellipse cx="476.0" cy="410.7" rx="2.5" ry="2.15"/><ellipse cx="720.1" cy="420.1" rx="2.5" ry="2.15"/><ellipse cx="729.2" cy="422.1" rx="2.5" ry="2.15"/><ellipse cx="508.9" cy="432.7" rx="2.5" ry="2.15"/><ellipse cx="720.2" cy="431.8" rx="2.5" ry="2.15"/><ellipse cx="492.2" cy="428.6" rx="2.5" ry="2.15"/><ellipse cx="454.6" cy="419.3" rx="2.5" ry="2.15"/><ellipse cx="651.7" cy="412.6" rx="2.5" ry="2.15"/><ellipse cx="677.3" cy="422.0" rx="2.5" ry="2.15"/><ellipse cx="489.6" cy="400.2" rx="2.5" ry="2.15"/><ellipse cx="719.1" cy="421.5" rx="2.5" ry="2.15"/><ellipse cx="550.5" cy="421.0" rx="2.5" ry="2.15"/><ellipse cx="485.4" cy="425.2" rx="2.5" ry="2.15"/><ellipse cx="520.3" cy="412.7" rx="2.5" ry="2.15"/><ellipse cx="463.1" cy="400.9" rx="2.5" ry="2.15"/><ellipse cx="663.7" cy="395.5" rx="2.5" ry="2.15"/><ellipse cx="515.6" cy="399.4" rx="2.5" ry="2.15"/><ellipse cx="639.8" cy="407.5" rx="2.5" ry="2.15"/><ellipse cx="569.1" cy="407.4" rx="2.5" ry="2.15"/><ellipse cx="466.8" cy="422.5" rx="2.5" ry="2.15"/><ellipse cx="607.6" cy="412.6" rx="2.5" ry="2.15"/><ellipse cx="723.2" cy="431.8" rx="2.5" ry="2.15"/><ellipse cx="485.1" cy="398.1" rx="2.5" ry="2.15"/><ellipse cx="721.8" cy="412.3" rx="2.5" ry="2.15"/><ellipse cx="464.7" cy="423.2" rx="2.5" ry="2.15"/><ellipse cx="604.3" cy="415.2" rx="2.5" ry="2.15"/><ellipse cx="481.6" cy="403.1" rx="2.5" ry="2.15"/><ellipse cx="732.0" cy="404.4" rx="2.5" ry="2.15"/><ellipse cx="596.2" cy="418.9" rx="2.5" ry="2.15"/><ellipse cx="694.2" cy="427.8" rx="2.5" ry="2.15"/><ellipse cx="644.2" cy="422.1" rx="2.5" ry="2.15"/><ellipse cx="565.3" cy="396.3" rx="2.5" ry="2.15"/><ellipse cx="507.8" cy="396.7" rx="2.5" ry="2.15"/><ellipse cx="694.3" cy="416.5" rx="2.5" ry="2.15"/><ellipse cx="698.3" cy="421.6" rx="2.5" ry="2.15"/><ellipse cx="667.5" cy="425.9" rx="2.5" ry="2.15"/><ellipse cx="674.4" cy="431.7" rx="2.5" ry="2.15"/><ellipse cx="441.5" cy="417.2" rx="2.5" ry="2.15"/><ellipse cx="495.5" cy="432.9" rx="2.5" ry="2.15"/><ellipse cx="597.6" cy="395.6" rx="2.5" ry="2.15"/><ellipse cx="452.7" cy="420.6" rx="2.5" ry="2.15"/><ellipse cx="608.5" cy="404.8" rx="2.5" ry="2.15"/><ellipse cx="717.1" cy="387.3" rx="2.5" ry="2.15"/><ellipse cx="536.5" cy="386.4" rx="2.5" ry="2.15"/><ellipse cx="639.0" cy="405.2" rx="2.5" ry="2.15"/><ellipse cx="490.3" cy="415.7" rx="2.5" ry="2.15"/><ellipse cx="671.2" cy="423.1" rx="2.5" ry="2.15"/><ellipse cx="701.7" cy="436.7" rx="2.5" ry="2.15"/><ellipse cx="677.0" cy="417.5" rx="2.5" ry="2.15"/><ellipse cx="563.0" cy="392.8" rx="2.5" ry="2.15"/><ellipse cx="534.8" cy="412.5" rx="2.5" ry="2.15"/><ellipse cx="454.3" cy="395.6" rx="2.5" ry="2.15"/><ellipse cx="686.9" cy="414.1" rx="2.5" ry="2.15"/><ellipse cx="703.9" cy="400.0" rx="2.5" ry="2.15"/><ellipse cx="598.8" cy="401.9" rx="2.5" ry="2.15"/><ellipse cx="661.4" cy="406.2" rx="2.5" ry="2.15"/><ellipse cx="498.2" cy="405.8" rx="2.5" ry="2.15"/><ellipse cx="658.9" cy="447.4" rx="2.5" ry="2.15"/><ellipse cx="504.8" cy="429.4" rx="2.5" ry="2.15"/><ellipse cx="650.7" cy="455.6" rx="2.5" ry="2.15"/><ellipse cx="432.4" cy="418.1" rx="2.5" ry="2.15"/><ellipse cx="545.9" cy="401.7" rx="2.5" ry="2.15"/><ellipse cx="501.3" cy="399.5" rx="2.5" ry="2.15"/><ellipse cx="441.1" cy="414.4" rx="2.5" ry="2.15"/><ellipse cx="507.8" cy="366.6" rx="2.5" ry="2.15"/><ellipse cx="708.4" cy="417.0" rx="2.5" ry="2.15"/><ellipse cx="520.9" cy="400.7" rx="2.5" ry="2.15"/><ellipse cx="464.2" cy="392.9" rx="2.5" ry="2.15"/><ellipse cx="631.8" cy="382.2" rx="2.5" ry="2.15"/><ellipse cx="663.9" cy="402.8" rx="2.5" ry="2.15"/><ellipse cx="533.8" cy="400.7" rx="2.5" ry="2.15"/><ellipse cx="709.8" cy="414.8" rx="2.5" ry="2.15"/><ellipse cx="641.0" cy="387.6" rx="2.5" ry="2.15"/><ellipse cx="592.4" cy="398.7" rx="2.5" ry="2.15"/><ellipse cx="701.7" cy="423.5" rx="2.5" ry="2.15"/><ellipse cx="675.1" cy="452.5" rx="2.5" ry="2.15"/><ellipse cx="612.7" cy="410.2" rx="2.5" ry="2.15"/><ellipse cx="505.3" cy="434.8" rx="2.5" ry="2.15"/><ellipse cx="587.8" cy="387.7" rx="2.5" ry="2.15"/><ellipse cx="617.7" cy="405.9" rx="2.5" ry="2.15"/><ellipse cx="701.8" cy="404.3" rx="2.5" ry="2.15"/><ellipse cx="714.6" cy="394.0" rx="2.5" ry="2.15"/><ellipse cx="447.5" cy="422.7" rx="2.5" ry="2.15"/><ellipse cx="589.1" cy="395.6" rx="2.5" ry="2.15"/><ellipse cx="714.1" cy="452.4" rx="2.5" ry="2.15"/><ellipse cx="560.0" cy="400.9" rx="2.5" ry="2.15"/><ellipse cx="658.3" cy="423.7" rx="2.5" ry="2.15"/><ellipse cx="498.7" cy="381.3" rx="2.5" ry="2.15"/><ellipse cx="694.0" cy="400.6" rx="2.5" ry="2.15"/><ellipse cx="481.9" cy="424.0" rx="2.5" ry="2.15"/><ellipse cx="508.5" cy="400.5" rx="2.5" ry="2.15"/><ellipse cx="503.6" cy="432.2" rx="2.5" ry="2.15"/><ellipse cx="472.1" cy="401.0" rx="2.5" ry="2.15"/><ellipse cx="632.6" cy="397.2" rx="2.5" ry="2.15"/><ellipse cx="685.3" cy="447.8" rx="2.5" ry="2.15"/><ellipse cx="476.8" cy="386.7" rx="2.5" ry="2.15"/><ellipse cx="489.4" cy="404.9" rx="2.5" ry="2.15"/><ellipse cx="549.8" cy="412.0" rx="2.5" ry="2.15"/><ellipse cx="520.4" cy="419.4" rx="2.5" ry="2.15"/><ellipse cx="623.0" cy="390.1" rx="2.5" ry="2.15"/><ellipse cx="464.4" cy="448.6" rx="2.5" ry="2.15"/><ellipse cx="606.2" cy="391.1" rx="2.5" ry="2.15"/><ellipse cx="582.1" cy="368.5" rx="2.5" ry="2.15"/><ellipse cx="464.6" cy="428.9" rx="2.5" ry="2.15"/><ellipse cx="565.2" cy="392.9" rx="2.5" ry="2.15"/><ellipse cx="542.9" cy="407.0" rx="2.5" ry="2.15"/><ellipse cx="449.3" cy="434.5" rx="2.5" ry="2.15"/><ellipse cx="528.0" cy="394.2" rx="2.5" ry="2.15"/><ellipse cx="624.4" cy="397.2" rx="2.5" ry="2.15"/><ellipse cx="695.2" cy="414.9" rx="2.5" ry="2.15"/><ellipse cx="718.8" cy="428.8" rx="2.5" ry="2.15"/><ellipse cx="653.0" cy="382.8" rx="2.5" ry="2.15"/><ellipse cx="553.0" cy="426.0" rx="2.5" ry="2.15"/><ellipse cx="474.1" cy="419.8" rx="2.5" ry="2.15"/><ellipse cx="636.7" cy="384.0" rx="2.5" ry="2.15"/><ellipse cx="603.3" cy="402.6" rx="2.5" ry="2.15"/><ellipse cx="690.9" cy="425.9" rx="2.5" ry="2.15"/><ellipse cx="506.8" cy="431.3" rx="2.5" ry="2.15"/><ellipse cx="628.8" cy="423.9" rx="2.5" ry="2.15"/><ellipse cx="457.3" cy="432.7" rx="2.5" ry="2.15"/><ellipse cx="523.0" cy="407.3" rx="2.5" ry="2.15"/><ellipse cx="560.0" cy="413.2" rx="2.5" ry="2.15"/><ellipse cx="674.0" cy="375.2" rx="2.5" ry="2.15"/><ellipse cx="534.6" cy="423.4" rx="2.5" ry="2.15"/><ellipse cx="617.2" cy="405.6" rx="2.5" ry="2.15"/><ellipse cx="728.9" cy="440.7" rx="2.5" ry="2.15"/><ellipse cx="716.8" cy="406.1" rx="2.5" ry="2.15"/><ellipse cx="574.2" cy="391.8" rx="2.5" ry="2.15"/><ellipse cx="492.5" cy="413.7" rx="2.5" ry="2.15"/><ellipse cx="616.2" cy="418.9" rx="2.5" ry="2.15"/><ellipse cx="670.4" cy="423.0" rx="2.5" ry="2.15"/><ellipse cx="609.6" cy="420.3" rx="2.5" ry="2.15"/><ellipse cx="656.4" cy="417.8" rx="2.5" ry="2.15"/><ellipse cx="493.7" cy="429.6" rx="2.5" ry="2.15"/><ellipse cx="515.8" cy="455.5" rx="2.5" ry="2.15"/><ellipse cx="476.3" cy="433.9" rx="2.5" ry="2.15"/><ellipse cx="446.3" cy="425.1" rx="2.5" ry="2.15"/><ellipse cx="569.0" cy="376.9" rx="2.5" ry="2.15"/><ellipse cx="664.2" cy="427.8" rx="2.5" ry="2.15"/><ellipse cx="542.8" cy="423.0" rx="2.5" ry="2.15"/><ellipse cx="718.9" cy="411.3" rx="2.5" ry="2.15"/><ellipse cx="535.8" cy="424.0" rx="2.5" ry="2.15"/><ellipse cx="544.7" cy="370.4" rx="2.5" ry="2.15"/><ellipse cx="688.3" cy="406.5" rx="2.5" ry="2.15"/><ellipse cx="629.8" cy="396.0" rx="2.5" ry="2.15"/><ellipse cx="591.5" cy="408.5" rx="2.5" ry="2.15"/><ellipse cx="500.7" cy="399.7" rx="2.5" ry="2.15"/><ellipse cx="455.5" cy="399.7" rx="2.5" ry="2.15"/><ellipse cx="478.6" cy="437.6" rx="2.5" ry="2.15"/><ellipse cx="479.1" cy="390.9" rx="2.5" ry="2.15"/><ellipse cx="556.3" cy="410.6" rx="2.5" ry="2.15"/><ellipse cx="529.5" cy="426.2" rx="2.5" ry="2.15"/><ellipse cx="595.4" cy="396.2" rx="2.5" ry="2.15"/><ellipse cx="507.9" cy="397.4" rx="2.5" ry="2.15"/><ellipse cx="636.6" cy="409.9" rx="2.5" ry="2.15"/><ellipse cx="716.8" cy="406.5" rx="2.5" ry="2.15"/><ellipse cx="677.7" cy="405.1" rx="2.5" ry="2.15"/><ellipse cx="604.3" cy="406.0" rx="2.5" ry="2.15"/><ellipse cx="507.5" cy="411.2" rx="2.5" ry="2.15"/><ellipse cx="669.6" cy="416.3" rx="2.5" ry="2.15"/><ellipse cx="683.3" cy="438.3" rx="2.5" ry="2.15"/><ellipse cx="457.5" cy="418.0" rx="2.5" ry="2.15"/><ellipse cx="686.5" cy="426.5" rx="2.5" ry="2.15"/><ellipse cx="708.9" cy="443.0" rx="2.5" ry="2.15"/><ellipse cx="490.4" cy="432.2" rx="2.5" ry="2.15"/><ellipse cx="484.6" cy="414.7" rx="2.5" ry="2.15"/><ellipse cx="649.9" cy="403.8" rx="2.5" ry="2.15"/><ellipse cx="575.0" cy="428.1" rx="2.5" ry="2.15"/><ellipse cx="451.3" cy="415.4" rx="2.5" ry="2.15"/><ellipse cx="615.5" cy="410.0" rx="2.5" ry="2.15"/><ellipse cx="681.2" cy="453.0" rx="2.5" ry="2.15"/><ellipse cx="650.8" cy="419.5" rx="2.5" ry="2.15"/><ellipse cx="444.3" cy="449.0" rx="2.5" ry="2.15"/><ellipse cx="441.8" cy="411.0" rx="2.5" ry="2.15"/><ellipse cx="586.5" cy="402.7" rx="2.5" ry="2.15"/><ellipse cx="629.0" cy="407.7" rx="2.5" ry="2.15"/><ellipse cx="709.0" cy="449.8" rx="2.5" ry="2.15"/><ellipse cx="645.2" cy="378.4" rx="2.5" ry="2.15"/><ellipse cx="635.2" cy="409.6" rx="2.5" ry="2.15"/><ellipse cx="695.2" cy="394.5" rx="2.5" ry="2.15"/><ellipse cx="552.6" cy="384.8" rx="2.5" ry="2.15"/><ellipse cx="481.1" cy="393.3" rx="2.5" ry="2.15"/><ellipse cx="463.8" cy="401.6" rx="2.5" ry="2.15"/><ellipse cx="537.5" cy="437.9" rx="2.5" ry="2.15"/><ellipse cx="691.9" cy="440.1" rx="2.5" ry="2.15"/><ellipse cx="595.9" cy="389.9" rx="2.5" ry="2.15"/><ellipse cx="442.1" cy="395.5" rx="2.5" ry="2.15"/><ellipse cx="704.9" cy="408.2" rx="2.5" ry="2.15"/><ellipse cx="679.5" cy="443.6" rx="2.5" ry="2.15"/><ellipse cx="445.8" cy="413.8" rx="2.5" ry="2.15"/><ellipse cx="668.1" cy="383.4" rx="2.5" ry="2.15"/><ellipse cx="484.3" cy="426.9" rx="2.5" ry="2.15"/><ellipse cx="444.1" cy="412.9" rx="2.5" ry="2.15"/><ellipse cx="549.2" cy="413.6" rx="2.5" ry="2.15"/><ellipse cx="643.6" cy="420.8" rx="2.5" ry="2.15"/><ellipse cx="510.7" cy="390.3" rx="2.5" ry="2.15"/><ellipse cx="560.3" cy="417.6" rx="2.5" ry="2.15"/><ellipse cx="684.3" cy="427.7" rx="2.5" ry="2.15"/><ellipse cx="465.8" cy="403.4" rx="2.5" ry="2.15"/><ellipse cx="623.8" cy="371.8" rx="2.5" ry="2.15"/><ellipse cx="524.7" cy="378.9" rx="2.5" ry="2.15"/><ellipse cx="447.5" cy="396.5" rx="2.5" ry="2.15"/><ellipse cx="661.2" cy="428.0" rx="2.5" ry="2.15"/><ellipse cx="634.1" cy="402.1" rx="2.5" ry="2.15"/><ellipse cx="569.2" cy="392.5" rx="2.5" ry="2.15"/><ellipse cx="570.9" cy="399.9" rx="2.5" ry="2.15"/><ellipse cx="547.0" cy="397.0" rx="2.5" ry="2.15"/><ellipse cx="635.8" cy="418.3" rx="2.5" ry="2.15"/><ellipse cx="431.7" cy="422.7" rx="2.5" ry="2.15"/><ellipse cx="461.9" cy="429.3" rx="2.5" ry="2.15"/><ellipse cx="454.7" cy="382.6" rx="2.5" ry="2.15"/><ellipse cx="461.8" cy="419.9" rx="2.5" ry="2.15"/><ellipse cx="597.4" cy="395.9" rx="2.5" ry="2.15"/><ellipse cx="555.7" cy="435.9" rx="2.5" ry="2.15"/><ellipse cx="628.7" cy="433.3" rx="2.5" ry="2.15"/><ellipse cx="587.8" cy="392.6" rx="2.5" ry="2.15"/><ellipse cx="667.1" cy="432.6" rx="2.5" ry="2.15"/><ellipse cx="642.7" cy="386.0" rx="2.5" ry="2.15"/><ellipse cx="439.4" cy="398.0" rx="2.5" ry="2.15"/><ellipse cx="455.4" cy="410.3" rx="2.5" ry="2.15"/><ellipse cx="631.2" cy="417.4" rx="2.5" ry="2.15"/><ellipse cx="688.4" cy="399.1" rx="2.5" ry="2.15"/><ellipse cx="680.0" cy="417.8" rx="2.5" ry="2.15"/><ellipse cx="456.6" cy="434.5" rx="2.5" ry="2.15"/><ellipse cx="611.8" cy="378.4" rx="2.5" ry="2.15"/><ellipse cx="474.5" cy="392.1" rx="2.5" ry="2.15"/><ellipse cx="520.4" cy="379.0" rx="2.5" ry="2.15"/><ellipse cx="687.8" cy="445.9" rx="2.5" ry="2.15"/><ellipse cx="618.0" cy="389.0" rx="2.5" ry="2.15"/><ellipse cx="683.7" cy="410.7" rx="2.5" ry="2.15"/><ellipse cx="612.9" cy="390.2" rx="2.5" ry="2.15"/><ellipse cx="703.8" cy="413.0" rx="2.5" ry="2.15"/><ellipse cx="512.2" cy="405.3" rx="2.5" ry="2.15"/><ellipse cx="574.7" cy="401.8" rx="2.5" ry="2.15"/><ellipse cx="713.4" cy="419.2" rx="2.5" ry="2.15"/><ellipse cx="661.4" cy="442.4" rx="2.5" ry="2.15"/><ellipse cx="444.2" cy="399.5" rx="2.5" ry="2.15"/><ellipse cx="492.9" cy="415.2" rx="2.5" ry="2.15"/><ellipse cx="541.9" cy="403.9" rx="2.5" ry="2.15"/><ellipse cx="623.1" cy="393.1" rx="2.5" ry="2.15"/><ellipse cx="517.1" cy="423.3" rx="2.5" ry="2.15"/><ellipse cx="684.2" cy="445.8" rx="2.5" ry="2.15"/><ellipse cx="674.8" cy="399.3" rx="2.5" ry="2.15"/><ellipse cx="556.0" cy="440.7" rx="2.5" ry="2.15"/><ellipse cx="505.6" cy="408.7" rx="2.5" ry="2.15"/><ellipse cx="500.8" cy="410.2" rx="2.5" ry="2.15"/><ellipse cx="497.7" cy="370.1" rx="2.5" ry="2.15"/><ellipse cx="580.3" cy="399.3" rx="2.5" ry="2.15"/><ellipse cx="594.3" cy="397.3" rx="2.5" ry="2.15"/><ellipse cx="700.6" cy="411.3" rx="2.5" ry="2.15"/><ellipse cx="580.3" cy="408.9" rx="2.5" ry="2.15"/><ellipse cx="600.1" cy="397.6" rx="2.5" ry="2.15"/><ellipse cx="498.4" cy="417.5" rx="2.5" ry="2.15"/><ellipse cx="727.8" cy="404.0" rx="2.5" ry="2.15"/><ellipse cx="573.9" cy="380.4" rx="2.5" ry="2.15"/><ellipse cx="474.9" cy="414.9" rx="2.5" ry="2.15"/><ellipse cx="517.1" cy="419.0" rx="2.5" ry="2.15"/><ellipse cx="651.4" cy="426.4" rx="2.5" ry="2.15"/><ellipse cx="510.8" cy="412.2" rx="2.5" ry="2.15"/><ellipse cx="731.0" cy="402.6" rx="2.5" ry="2.15"/><ellipse cx="599.3" cy="400.9" rx="2.5" ry="2.15"/><ellipse cx="669.9" cy="412.8" rx="2.5" ry="2.15"/><ellipse cx="611.6" cy="383.5" rx="2.5" ry="2.15"/><ellipse cx="637.7" cy="417.5" rx="2.5" ry="2.15"/><ellipse cx="549.0" cy="400.3" rx="2.5" ry="2.15"/><ellipse cx="675.2" cy="399.2" rx="2.5" ry="2.15"/><ellipse cx="674.3" cy="412.1" rx="2.5" ry="2.15"/><ellipse cx="673.8" cy="426.5" rx="2.5" ry="2.15"/><ellipse cx="620.2" cy="430.5" rx="2.5" ry="2.15"/><ellipse cx="671.1" cy="387.8" rx="2.5" ry="2.15"/><ellipse cx="672.6" cy="411.1" rx="2.5" ry="2.15"/><ellipse cx="499.6" cy="420.4" rx="2.5" ry="2.15"/><ellipse cx="443.1" cy="432.9" rx="2.5" ry="2.15"/><ellipse cx="709.1" cy="421.2" rx="2.5" ry="2.15"/><ellipse cx="547.5" cy="376.9" rx="2.5" ry="2.15"/><ellipse cx="452.1" cy="406.2" rx="2.5" ry="2.15"/><ellipse cx="693.6" cy="415.3" rx="2.5" ry="2.15"/><ellipse cx="685.1" cy="395.7" rx="2.5" ry="2.15"/><ellipse cx="615.3" cy="387.8" rx="2.5" ry="2.15"/><ellipse cx="460.4" cy="393.2" rx="2.5" ry="2.15"/><ellipse cx="693.3" cy="456.9" rx="2.5" ry="2.15"/><ellipse cx="576.9" cy="398.9" rx="2.5" ry="2.15"/><ellipse cx="455.7" cy="407.4" rx="2.5" ry="2.15"/><ellipse cx="482.5" cy="423.9" rx="2.5" ry="2.15"/><ellipse cx="471.8" cy="414.3" rx="2.5" ry="2.15"/><ellipse cx="693.2" cy="411.9" rx="2.5" ry="2.15"/><ellipse cx="698.9" cy="419.3" rx="2.5" ry="2.15"/><ellipse cx="712.3" cy="402.9" rx="2.5" ry="2.15"/><ellipse cx="527.2" cy="401.8" rx="2.5" ry="2.15"/><ellipse cx="606.6" cy="425.5" rx="2.5" ry="2.15"/><ellipse cx="616.2" cy="415.3" rx="2.5" ry="2.15"/><ellipse cx="538.6" cy="388.6" rx="2.5" ry="2.15"/><ellipse cx="434.0" cy="438.8" rx="2.5" ry="2.15"/><ellipse cx="447.3" cy="408.3" rx="2.5" ry="2.15"/><ellipse cx="453.3" cy="389.1" rx="2.5" ry="2.15"/><ellipse cx="566.1" cy="411.5" rx="2.5" ry="2.15"/><ellipse cx="554.5" cy="412.9" rx="2.5" ry="2.15"/><ellipse cx="437.2" cy="420.1" rx="2.5" ry="2.15"/><ellipse cx="447.3" cy="399.2" rx="2.5" ry="2.15"/><ellipse cx="545.0" cy="424.0" rx="2.5" ry="2.15"/><ellipse cx="625.5" cy="417.3" rx="2.5" ry="2.15"/><ellipse cx="581.9" cy="404.7" rx="2.5" ry="2.15"/><ellipse cx="658.4" cy="420.8" rx="2.5" ry="2.15"/><ellipse cx="598.6" cy="406.9" rx="2.5" ry="2.15"/><ellipse cx="455.6" cy="450.4" rx="2.5" ry="2.15"/><ellipse cx="461.3" cy="406.7" rx="2.5" ry="2.15"/><ellipse cx="537.5" cy="414.6" rx="2.5" ry="2.15"/><ellipse cx="612.7" cy="423.1" rx="2.5" ry="2.15"/><ellipse cx="692.3" cy="429.6" rx="2.5" ry="2.15"/><ellipse cx="696.2" cy="404.5" rx="2.5" ry="2.15"/></g>
<polyline points="428.80,415.28 430.33,415.27 431.86,415.25 433.39,415.24 434.92,415.23 436.45,415.21 437.98,415.19 439.51,415.17 441.04,415.15 442.57,415.13 444.10,415.10 445.63,415.07 447.16,415.04 448.69,415.01 450.22,414.97 451.74,414.93 453.27,414.89 454.80,414.85 456.33,414.80 457.86,414.75 459.39,414.69 460.92,414.63 462.45,414.57 463.98,414.51 465.51,414.45 467.04,414.38 468.57,414.31 470.10,414.24 471.63,414.16 473.16,414.09 474.69,414.01 476.22,413.93 477.75,413.85 479.28,413.77 480.81,413.68 482.34,413.60 483.87,413.51 485.40,413.41 486.93,413.32 488.46,413.22 489.99,413.13 491.52,413.02 493.05,412.92 494.57,412.81 496.10,412.69 497.63,412.57 499.16,412.45 500.69,412.32 502.22,412.19 503.75,412.05 505.28,411.90 506.81,411.74 508.34,411.58 509.87,411.41 511.40,411.23 512.93,411.04 514.46,410.85 515.99,410.64 517.52,410.42 519.05,410.20 520.58,409.96 522.11,409.71 523.64,409.46 525.17,409.19 526.70,408.91 528.23,408.62 529.76,408.33 531.29,408.02 532.82,407.70 534.35,407.38 535.88,407.05 537.41,406.71 538.93,406.36 540.46,406.01 541.99,405.66 543.52,405.30 545.05,404.94 546.58,404.57 548.11,404.21 549.64,403.85 551.17,403.49 552.70,403.14 554.23,402.79 555.76,402.45 557.29,402.11 558.82,401.79 560.35,401.48 561.88,401.18 563.41,400.90 564.94,400.63 566.47,400.38 568.00,400.14 569.53,399.93 571.06,399.74 572.59,399.58 574.12,399.43 575.65,399.31 577.18,399.22 578.71,399.16 580.24,399.12 581.76,399.11 583.29,399.13 584.82,399.18 586.35,399.25 587.88,399.36 589.41,399.50 590.94,399.66 592.47,399.86 594.00,400.08 595.53,400.33 597.06,400.61 598.59,400.91 600.12,401.24 601.65,401.60 603.18,401.97 604.71,402.37 606.24,402.79 607.77,403.23 609.30,403.69 610.83,404.16 612.36,404.64 613.89,405.14 615.42,405.65 616.95,406.16 618.48,406.69 620.01,407.21 621.54,407.74 623.07,408.27 624.59,408.80 626.12,409.33 627.65,409.85 629.18,410.36 630.71,410.87 632.24,411.36 633.77,411.85 635.30,412.32 636.83,412.77 638.36,413.21 639.89,413.63 641.42,414.04 642.95,414.42 644.48,414.79 646.01,415.13 647.54,415.46 649.07,415.76 650.60,416.04 652.13,416.29 653.66,416.53 655.19,416.74 656.72,416.93 658.25,417.10 659.78,417.25 661.31,417.37 662.84,417.48 664.37,417.56 665.90,417.63 667.43,417.67 668.95,417.71 670.48,417.72 672.01,417.72 673.54,417.70 675.07,417.67 676.60,417.63 678.13,417.58 679.66,417.52 681.19,417.45 682.72,417.37 684.25,417.29 685.78,417.20 687.31,417.11 688.84,417.01 690.37,416.91 691.90,416.81 693.43,416.71 694.96,416.61 696.49,416.51 698.02,416.42 699.55,416.32 701.08,416.23 702.61,416.14 704.14,416.06 705.67,415.98 707.20,415.91 708.73,415.84 710.26,415.77 711.78,415.71 713.31,415.66 714.84,415.61 716.37,415.56 717.90,415.52 719.43,415.48 720.96,415.45 722.49,415.42 724.02,415.39 725.55,415.37 727.08,415.35 728.61,415.33 730.14,415.31 731.67,415.30 733.20,415.28" class="fit"/>
</g>
<rect x="428.5" y="340.5" width="305.0" height="139.0" class="ax"/>
<path d="M428.80,479.5v-3.5M428.80,340.5v3.5M489.68,479.5v-3.5M489.68,340.5v3.5M550.56,479.5v-3.5M550.56,340.5v3.5M611.44,479.5v-3.5M611.44,340.5v3.5M672.32,479.5v-3.5M672.32,340.5v3.5M733.20,479.5v-3.5M733.20,340.5v3.5M428.5,463.30h3.5M733.5,463.30h-3.5M428.5,436.50h3.5M733.5,436.50h-3.5M428.5,409.70h3.5M733.5,409.70h-3.5M428.5,382.90h3.5M733.5,382.90h-3.5M428.5,356.10h3.5M733.5,356.10h-3.5M440.98,479.5v-2.2M440.98,340.5v2.2M453.15,479.5v-2.2M453.15,340.5v2.2M465.33,479.5v-2.2M465.33,340.5v2.2M477.50,479.5v-2.2M477.50,340.5v2.2M501.86,479.5v-2.2M501.86,340.5v2.2M514.03,479.5v-2.2M514.03,340.5v2.2M526.21,479.5v-2.2M526.21,340.5v2.2M538.38,479.5v-2.2M538.38,340.5v2.2M562.74,479.5v-2.2M562.74,340.5v2.2M574.91,479.5v-2.2M574.91,340.5v2.2M587.09,479.5v-2.2M587.09,340.5v2.2M599.26,479.5v-2.2M599.26,340.5v2.2M623.62,479.5v-2.2M623.62,340.5v2.2M635.79,479.5v-2.2M635.79,340.5v2.2M647.97,479.5v-2.2M647.97,340.5v2.2M660.14,479.5v-2.2M660.14,340.5v2.2M684.50,479.5v-2.2M684.50,340.5v2.2M696.67,479.5v-2.2M696.67,340.5v2.2M708.85,479.5v-2.2M708.85,340.5v2.2M721.02,479.5v-2.2M721.02,340.5v2.2M428.5,479.38h2.2M733.5,479.38h-2.2M428.5,474.02h2.2M733.5,474.02h-2.2M428.5,468.66h2.2M733.5,468.66h-2.2M428.5,457.94h2.2M733.5,457.94h-2.2M428.5,452.58h2.2M733.5,452.58h-2.2M428.5,447.22h2.2M733.5,447.22h-2.2M428.5,441.86h2.2M733.5,441.86h-2.2M428.5,431.14h2.2M733.5,431.14h-2.2M428.5,425.78h2.2M733.5,425.78h-2.2M428.5,420.42h2.2M733.5,420.42h-2.2M428.5,415.06h2.2M733.5,415.06h-2.2M428.5,404.34h2.2M733.5,404.34h-2.2M428.5,398.98h2.2M733.5,398.98h-2.2M428.5,393.62h2.2M733.5,393.62h-2.2M428.5,388.26h2.2M733.5,388.26h-2.2M428.5,377.54h2.2M733.5,377.54h-2.2M428.5,372.18h2.2M733.5,372.18h-2.2M428.5,366.82h2.2M733.5,366.82h-2.2M428.5,361.46h2.2M733.5,361.46h-2.2M428.5,350.74h2.2M733.5,350.74h-2.2M428.5,345.38h2.2M733.5,345.38h-2.2" class="tk"/>
<text transform="translate(408.33,468.53) scale(1.125,1)" font-size="12.70">−2</text>
<text transform="translate(408.29,441.67) scale(1.125,1)" font-size="12.70">−1</text>
<text transform="translate(416.51,414.87) scale(1.125,1)" font-size="12.70">0</text>
<text transform="translate(416.65,388.07) scale(1.125,1)" font-size="12.70">1</text>
<text transform="translate(416.68,361.33) scale(1.125,1)" font-size="12.70">2</text>
<text transform="translate(424.82,494.66) scale(1.125,1)" font-size="12.70">0</text>
<text transform="translate(479.82,494.66) scale(1.125,1)" font-size="12.70">0.2</text>
<text transform="translate(540.54,494.66) scale(1.125,1)" font-size="12.70">0.4</text>
<text transform="translate(601.53,494.66) scale(1.125,1)" font-size="12.70">0.6</text>
<text transform="translate(662.41,494.66) scale(1.125,1)" font-size="12.70">0.8</text>
<text transform="translate(729.04,494.66) scale(1.125,1)" font-size="12.70">1</text>
<text transform="translate(15.30,356.17) scale(1.135,1) rotate(-90)" font-size="17.86">Normalized Power Spectrum</text>
<text transform="translate(400.50,283.75) scale(1.216,1) rotate(-90)" font-size="17.81">O−C [min]</text>
<text transform="translate(565.45,519.70) scale(1.207,1)" font-size="19.03">Phase</text>
<text transform="translate(144.40,520.20) scale(1.191,1)" font-size="19.31">Freq [1/d]</text>
</svg></body></html>
